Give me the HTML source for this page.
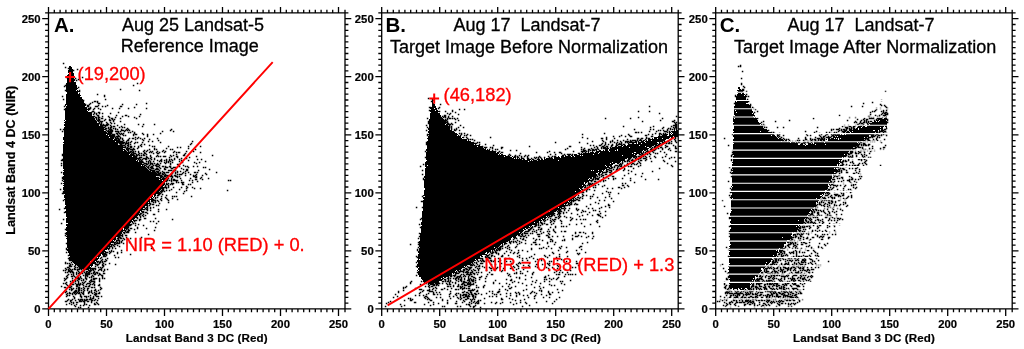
<!DOCTYPE html>
<html lang="en"><head><meta charset="utf-8"><title>Landsat scatterplots</title>
<style>html,body{margin:0;padding:0;background:#fff}body{width:1024px;height:349px;overflow:hidden}svg{display:block;will-change:transform}</style></head>
<body>
<svg width="1024" height="349" viewBox="0 0 1024 349">
<rect width="1024" height="349" fill="#fff"/>
<g shape-rendering="crispEdges">
<path fill="#000" d="M69.8 65.5L72.1 66.9L74.8 78.3L79 92.1L85.9 105.9L99.6 124.2L117.9 142.5L136.3 158.6L150 170.5L158 176.3L166 180.5L164.5 186.5L154.6 197.4L131.7 222.6L108.8 247.8L88.5 271L82 268.5L75 265L69.5 259L67.3 250L66.5 240L66 228.8L65.4 210L64 197.6L62.6 174.6L62.8 151.7L63.8 128.8L65.4 105.9L66.2 87.5L67.2 73.8Z"/>
<path fill="#fff" d="M68 69h1v1h-1zM73 72h1v1h-1zM67 73h2v1h-2zM67 74h1v1h-1zM74 76h1v1h-1zM69 77h1v1h-1zM74 77h1v1h-1zM74 78h1v1h-1zM66 79h1v1h-1zM74 81h2v1h-2zM76 84h1v1h-1zM77 87h1v1h-1zM77 89h1v1h-1zM76 90h1v1h-1zM78 90h1v1h-1zM66 92h1v1h-1zM78 92h1v1h-1zM66 93h1v1h-1zM78 93h1v1h-1zM80 96h1v1h-1zM65 103h1v1h-1zM66 105h1v1h-1zM65 106h1v1h-1zM85 106h1v1h-1zM65 107h1v1h-1zM87 108h1v1h-1zM87 110h1v1h-1zM89 110h1v1h-1zM88 111h2v1h-2zM92 114h1v1h-1zM92 115h1v1h-1zM64 116h1v1h-1zM94 117h1v1h-1zM64 118h1v1h-1zM64 119h1v1h-1zM95 119h1v1h-1zM65 120h1v1h-1zM96 120h1v1h-1zM64 121h1v1h-1zM97 121h1v1h-1zM97 122h1v1h-1zM64 123h1v1h-1zM99 124h1v1h-1zM99 125h1v1h-1zM64 126h1v1h-1zM104 130h2v1h-2zM106 131h1v1h-1zM63 132h1v1h-1zM107 132h1v1h-1zM106 134h1v1h-1zM63 135h1v1h-1zM108 135h1v1h-1zM63 136h1v1h-1zM109 137h1v1h-1zM113 139h1v1h-1zM63 140h1v1h-1zM63 141h1v1h-1zM115 141h1v1h-1zM63 143h1v1h-1zM118 143h1v1h-1zM118 144h2v1h-2zM123 148h2v1h-2zM125 149h1v1h-1zM123 150h1v1h-1zM126 150h1v1h-1zM127 151h1v1h-1zM130 153h1v1h-1zM129 154h1v1h-1zM132 156h1v1h-1zM136 160h1v1h-1zM138 160h1v1h-1zM138 161h1v1h-1zM141 165h1v1h-1zM143 165h1v1h-1zM62 167h1v1h-1zM146 167h1v1h-1zM62 168h1v1h-1zM147 168h1v1h-1zM63 169h1v1h-1zM148 169h1v1h-1zM149 170h1v1h-1zM63 171h1v1h-1zM151 171h1v1h-1zM62 173h1v1h-1zM63 175h1v1h-1zM156 176h3v1h-3zM159 177h1v1h-1zM161 178h1v1h-1zM159 179h1v1h-1zM63 180h1v1h-1zM162 180h1v1h-1zM63 182h1v1h-1zM165 182h1v1h-1zM63 184h1v1h-1zM164 185h1v1h-1zM63 186h1v1h-1zM163 186h2v1h-2zM161 189h1v1h-1zM160 190h1v1h-1zM159 191h1v1h-1zM64 194h1v1h-1zM156 194h1v1h-1zM153 195h1v1h-1zM153 196h1v1h-1zM155 196h1v1h-1zM152 197h1v1h-1zM154 197h1v1h-1zM64 198h1v1h-1zM150 198h1v1h-1zM153 198h1v1h-1zM64 200h1v1h-1zM150 200h1v1h-1zM64 201h1v1h-1zM150 201h1v1h-1zM64 202h1v1h-1zM148 202h1v1h-1zM65 205h1v1h-1zM145 206h1v1h-1zM145 207h1v1h-1zM143 208h2v1h-2zM65 209h1v1h-1zM65 210h1v1h-1zM142 210h1v1h-1zM140 211h1v1h-1zM140 212h1v1h-1zM139 213h1v1h-1zM65 215h1v1h-1zM66 217h1v1h-1zM135 218h1v1h-1zM132 220h1v1h-1zM131 222h1v1h-1zM66 223h2v1h-2zM130 223h1v1h-1zM66 226h1v1h-1zM123 228h1v1h-1zM123 229h1v1h-1zM125 229h1v1h-1zM66 231h1v1h-1zM123 231h1v1h-1zM122 232h1v1h-1zM66 235h1v1h-1zM66 237h1v1h-1zM116 237h2v1h-2zM116 238h1v1h-1zM66 239h1v1h-1zM116 239h1v1h-1zM111 240h1v1h-1zM113 240h1v1h-1zM115 240h1v1h-1zM114 241h1v1h-1zM111 243h2v1h-2zM110 245h1v1h-1zM108 247h1v1h-1zM67 248h1v1h-1zM107 249h1v1h-1zM105 250h1v1h-1zM104 252h1v1h-1zM68 253h1v1h-1zM68 254h1v1h-1zM101 254h1v1h-1zM101 255h1v1h-1zM69 256h1v1h-1zM100 256h2v1h-2zM97 257h1v1h-1zM99 257h1v1h-1zM98 259h1v1h-1zM97 260h1v1h-1zM90 261h1v1h-1zM95 261h1v1h-1zM93 264h2v1h-2zM76 265h1v1h-1zM90 266h1v1h-1zM91 267h1v1h-1zM84 269h1v1h-1zM89 269h1v1h-1zM87 270h1v1h-1z"/>
</g>
<path fill="#000" d="M62.8 62.8h1.5v1.5h-1.5zM64.8 66.8h1.5v1.5h-1.5zM67.8 67.8h1.5v1.5h-1.5zM76.8 68.8h1.5v1.5h-1.5zM72.8 69.8h1.5v1.5h-1.5zM65.8 76.8h1.5v1.5h-1.5zM81.8 76.8h1.5v1.5h-1.5zM74.8 77.8h1.5v1.5h-1.5zM77.8 78.8h1.5v1.5h-1.5zM75.8 79.8h1.5v1.5h-1.5zM136.8 82.8h1.5v1.5h-1.5zM64.8 84.8h1.5v1.5h-1.5zM132.8 84.8h1.5v1.5h-1.5zM63.8 85.8h1.5v1.5h-1.5zM77.8 86.8h1.5v1.5h-1.5zM119.8 88.8h1.5v1.5h-1.5zM64.8 89.8h1.5v1.5h-1.5zM78.8 89.8h1.5v1.5h-1.5zM138.8 89.8h1.5v1.5h-1.5zM78.8 90.8h1.5v1.5h-1.5zM96.8 93.8h1.5v1.5h-1.5zM103.8 94.8h1.5v1.5h-1.5zM61.8 95.8h1.5v1.5h-1.5zM103.8 95.8h1.5v1.5h-1.5zM62.8 98.8h1.5v1.5h-1.5zM104.8 98.8h1.5v1.5h-1.5zM82.8 99.8h1.5v1.5h-1.5zM93.8 100.8h2.5v1.5h-2.5zM96.8 100.8h1.5v1.5h-1.5zM91.8 101.8h1.5v1.5h-1.5zM96.8 101.8h1.5v1.5h-1.5zM89.8 102.8h1.5v1.5h-1.5zM97.8 102.8h2.5v1.5h-2.5zM145.8 102.8h1.5v1.5h-1.5zM84.8 103.8h1.5v1.5h-1.5zM88.8 103.8h1.5v1.5h-1.5zM121.8 103.8h1.5v1.5h-1.5zM135.8 103.8h1.5v1.5h-1.5zM86.8 104.8h2.5v1.5h-2.5zM97.8 104.8h1.5v1.5h-1.5zM106.8 104.8h1.5v1.5h-1.5zM63.8 105.8h1.5v1.5h-1.5zM86.8 105.8h2.5v1.5h-2.5zM94.8 105.8h3.5v1.5h-3.5zM101.8 105.8h1.5v1.5h-1.5zM104.8 105.8h1.5v1.5h-1.5zM119.8 105.8h2.5v1.5h-2.5zM89.8 106.8h1.5v1.5h-1.5zM133.8 106.8h1.5v1.5h-1.5zM87.8 107.8h3.5v1.5h-3.5zM93.8 107.8h1.5v1.5h-1.5zM97.8 107.8h1.5v1.5h-1.5zM111.8 107.8h1.5v1.5h-1.5zM118.8 107.8h1.5v1.5h-1.5zM127.8 107.8h1.5v1.5h-1.5zM145.8 107.8h1.5v1.5h-1.5zM63.8 108.8h1.5v1.5h-1.5zM88.8 108.8h1.5v1.5h-1.5zM92.8 108.8h1.5v1.5h-1.5zM99.8 108.8h1.5v1.5h-1.5zM91.8 110.8h2.5v1.5h-2.5zM90.8 111.8h1.5v1.5h-1.5zM93.8 111.8h1.5v1.5h-1.5zM97.8 111.8h2.5v1.5h-2.5zM117.8 111.8h1.5v1.5h-1.5zM93.8 112.8h1.5v1.5h-1.5zM95.8 112.8h1.5v1.5h-1.5zM98.8 112.8h1.5v1.5h-1.5zM101.8 112.8h1.5v1.5h-1.5zM109.8 112.8h1.5v1.5h-1.5zM92.8 113.8h1.5v1.5h-1.5zM95.8 113.8h1.5v1.5h-1.5zM139.8 113.8h1.5v1.5h-1.5zM96.8 114.8h2.5v1.5h-2.5zM115.8 114.8h1.5v1.5h-1.5zM124.8 114.8h2.5v1.5h-2.5zM93.8 115.8h1.5v1.5h-1.5zM97.8 115.8h1.5v1.5h-1.5zM101.8 115.8h1.5v1.5h-1.5zM107.8 115.8h1.5v1.5h-1.5zM121.8 115.8h1.5v1.5h-1.5zM127.8 115.8h1.5v1.5h-1.5zM138.8 115.8h1.5v1.5h-1.5zM94.8 116.8h2.5v1.5h-2.5zM97.8 116.8h2.5v1.5h-2.5zM108.8 116.8h1.5v1.5h-1.5zM114.8 116.8h1.5v1.5h-1.5zM133.8 116.8h1.5v1.5h-1.5zM95.8 117.8h1.5v1.5h-1.5zM97.8 117.8h1.5v1.5h-1.5zM100.8 117.8h2.5v1.5h-2.5zM110.8 117.8h2.5v1.5h-2.5zM119.8 117.8h1.5v1.5h-1.5zM135.8 117.8h1.5v1.5h-1.5zM95.8 118.8h1.5v1.5h-1.5zM97.8 118.8h2.5v1.5h-2.5zM104.8 118.8h1.5v1.5h-1.5zM108.8 118.8h1.5v1.5h-1.5zM111.8 118.8h1.5v1.5h-1.5zM113.8 118.8h1.5v1.5h-1.5zM96.8 119.8h3.5v1.5h-3.5zM103.8 119.8h1.5v1.5h-1.5zM108.8 119.8h2.5v1.5h-2.5zM112.8 119.8h1.5v1.5h-1.5zM97.8 120.8h1.5v1.5h-1.5zM99.8 120.8h3.5v1.5h-3.5zM112.8 120.8h1.5v1.5h-1.5zM119.8 120.8h1.5v1.5h-1.5zM98.8 121.8h1.5v1.5h-1.5zM100.8 121.8h1.5v1.5h-1.5zM105.8 121.8h1.5v1.5h-1.5zM109.8 121.8h1.5v1.5h-1.5zM98.8 122.8h1.5v1.5h-1.5zM100.8 122.8h1.5v1.5h-1.5zM106.8 122.8h1.5v1.5h-1.5zM110.8 122.8h1.5v1.5h-1.5zM113.8 122.8h1.5v1.5h-1.5zM99.8 123.8h2.5v1.5h-2.5zM102.8 123.8h1.5v1.5h-1.5zM105.8 123.8h3.5v1.5h-3.5zM123.8 123.8h1.5v1.5h-1.5zM137.8 123.8h1.5v1.5h-1.5zM142.8 123.8h1.5v1.5h-1.5zM153.8 123.8h1.5v1.5h-1.5zM100.8 124.8h7.5v1.5h-7.5zM109.8 124.8h1.5v1.5h-1.5zM116.8 124.8h1.5v1.5h-1.5zM101.8 125.8h1.5v1.5h-1.5zM104.8 125.8h1.5v1.5h-1.5zM110.8 125.8h1.5v1.5h-1.5zM112.8 125.8h2.5v1.5h-2.5zM120.8 125.8h1.5v1.5h-1.5zM141.8 125.8h1.5v1.5h-1.5zM102.8 126.8h2.5v1.5h-2.5zM107.8 126.8h1.5v1.5h-1.5zM109.8 126.8h2.5v1.5h-2.5zM118.8 126.8h1.5v1.5h-1.5zM121.8 126.8h1.5v1.5h-1.5zM123.8 126.8h1.5v1.5h-1.5zM104.8 127.8h2.5v1.5h-2.5zM107.8 127.8h1.5v1.5h-1.5zM109.8 127.8h1.5v1.5h-1.5zM112.8 127.8h1.5v1.5h-1.5zM114.8 127.8h1.5v1.5h-1.5zM126.8 127.8h1.5v1.5h-1.5zM59.8 128.8h1.5v1.5h-1.5zM62.8 128.8h1.5v1.5h-1.5zM104.8 128.8h1.5v1.5h-1.5zM108.8 128.8h3.5v1.5h-3.5zM114.8 128.8h1.5v1.5h-1.5zM116.8 128.8h1.5v1.5h-1.5zM120.8 128.8h1.5v1.5h-1.5zM125.8 128.8h1.5v1.5h-1.5zM127.8 128.8h1.5v1.5h-1.5zM170.8 128.8h1.5v1.5h-1.5zM105.8 129.8h1.5v1.5h-1.5zM107.8 129.8h1.5v1.5h-1.5zM109.8 129.8h3.5v1.5h-3.5zM120.8 129.8h3.5v1.5h-3.5zM124.8 129.8h1.5v1.5h-1.5zM126.8 129.8h1.5v1.5h-1.5zM128.8 129.8h1.5v1.5h-1.5zM169.8 129.8h1.5v1.5h-1.5zM61.8 130.8h1.5v1.5h-1.5zM106.8 130.8h6.5v1.5h-6.5zM114.8 130.8h4.5v1.5h-4.5zM119.8 130.8h1.5v1.5h-1.5zM123.8 130.8h1.5v1.5h-1.5zM131.8 130.8h1.5v1.5h-1.5zM161.8 130.8h1.5v1.5h-1.5zM172.8 130.8h1.5v1.5h-1.5zM107.8 131.8h4.5v1.5h-4.5zM117.8 131.8h1.5v1.5h-1.5zM127.8 131.8h1.5v1.5h-1.5zM129.8 131.8h1.5v1.5h-1.5zM133.8 131.8h1.5v1.5h-1.5zM108.8 132.8h3.5v1.5h-3.5zM115.8 132.8h2.5v1.5h-2.5zM118.8 132.8h1.5v1.5h-1.5zM120.8 132.8h1.5v1.5h-1.5zM122.8 132.8h1.5v1.5h-1.5zM133.8 132.8h1.5v1.5h-1.5zM141.8 132.8h1.5v1.5h-1.5zM159.8 132.8h1.5v1.5h-1.5zM109.8 133.8h1.5v1.5h-1.5zM111.8 133.8h3.5v1.5h-3.5zM116.8 133.8h1.5v1.5h-1.5zM119.8 133.8h1.5v1.5h-1.5zM121.8 133.8h1.5v1.5h-1.5zM132.8 133.8h1.5v1.5h-1.5zM134.8 133.8h2.5v1.5h-2.5zM142.8 133.8h1.5v1.5h-1.5zM146.8 133.8h1.5v1.5h-1.5zM152.8 133.8h1.5v1.5h-1.5zM110.8 134.8h4.5v1.5h-4.5zM117.8 134.8h1.5v1.5h-1.5zM122.8 134.8h1.5v1.5h-1.5zM124.8 134.8h1.5v1.5h-1.5zM132.8 134.8h1.5v1.5h-1.5zM146.8 134.8h1.5v1.5h-1.5zM111.8 135.8h3.5v1.5h-3.5zM115.8 135.8h4.5v1.5h-4.5zM146.8 135.8h1.5v1.5h-1.5zM112.8 136.8h1.5v1.5h-1.5zM114.8 136.8h1.5v1.5h-1.5zM116.8 136.8h1.5v1.5h-1.5zM119.8 136.8h1.5v1.5h-1.5zM134.8 136.8h1.5v1.5h-1.5zM137.8 136.8h1.5v1.5h-1.5zM114.8 137.8h4.5v1.5h-4.5zM119.8 137.8h1.5v1.5h-1.5zM121.8 137.8h1.5v1.5h-1.5zM128.8 137.8h1.5v1.5h-1.5zM131.8 137.8h2.5v1.5h-2.5zM136.8 137.8h1.5v1.5h-1.5zM139.8 137.8h1.5v1.5h-1.5zM143.8 137.8h1.5v1.5h-1.5zM156.8 137.8h1.5v1.5h-1.5zM114.8 138.8h2.5v1.5h-2.5zM117.8 138.8h2.5v1.5h-2.5zM121.8 138.8h1.5v1.5h-1.5zM127.8 138.8h1.5v1.5h-1.5zM134.8 138.8h1.5v1.5h-1.5zM141.8 138.8h1.5v1.5h-1.5zM148.8 138.8h1.5v1.5h-1.5zM115.8 139.8h4.5v1.5h-4.5zM122.8 139.8h1.5v1.5h-1.5zM126.8 139.8h2.5v1.5h-2.5zM142.8 139.8h1.5v1.5h-1.5zM157.8 139.8h1.5v1.5h-1.5zM116.8 140.8h6.5v1.5h-6.5zM125.8 140.8h1.5v1.5h-1.5zM130.8 140.8h1.5v1.5h-1.5zM147.8 140.8h1.5v1.5h-1.5zM151.8 140.8h1.5v1.5h-1.5zM191.8 140.8h1.5v1.5h-1.5zM117.8 141.8h7.5v1.5h-7.5zM125.8 141.8h1.5v1.5h-1.5zM127.8 141.8h1.5v1.5h-1.5zM129.8 141.8h1.5v1.5h-1.5zM134.8 141.8h1.5v1.5h-1.5zM136.8 141.8h1.5v1.5h-1.5zM141.8 141.8h1.5v1.5h-1.5zM159.8 141.8h1.5v1.5h-1.5zM118.8 142.8h5.5v1.5h-5.5zM124.8 142.8h4.5v1.5h-4.5zM133.8 142.8h1.5v1.5h-1.5zM190.8 142.8h1.5v1.5h-1.5zM119.8 143.8h2.5v1.5h-2.5zM124.8 143.8h1.5v1.5h-1.5zM127.8 143.8h1.5v1.5h-1.5zM129.8 143.8h1.5v1.5h-1.5zM140.8 143.8h1.5v1.5h-1.5zM143.8 143.8h1.5v1.5h-1.5zM189.8 143.8h1.5v1.5h-1.5zM120.8 144.8h4.5v1.5h-4.5zM126.8 144.8h2.5v1.5h-2.5zM139.8 144.8h1.5v1.5h-1.5zM148.8 144.8h1.5v1.5h-1.5zM121.8 145.8h1.5v1.5h-1.5zM124.8 145.8h1.5v1.5h-1.5zM127.8 145.8h1.5v1.5h-1.5zM129.8 145.8h2.5v1.5h-2.5zM133.8 145.8h1.5v1.5h-1.5zM137.8 145.8h1.5v1.5h-1.5zM140.8 145.8h1.5v1.5h-1.5zM151.8 145.8h1.5v1.5h-1.5zM153.8 145.8h1.5v1.5h-1.5zM167.8 145.8h1.5v1.5h-1.5zM187.8 145.8h1.5v1.5h-1.5zM199.8 145.8h1.5v1.5h-1.5zM123.8 146.8h2.5v1.5h-2.5zM126.8 146.8h1.5v1.5h-1.5zM129.8 146.8h2.5v1.5h-2.5zM137.8 146.8h1.5v1.5h-1.5zM176.8 146.8h1.5v1.5h-1.5zM179.8 146.8h1.5v1.5h-1.5zM125.8 147.8h4.5v1.5h-4.5zM132.8 147.8h1.5v1.5h-1.5zM136.8 147.8h1.5v1.5h-1.5zM153.8 147.8h1.5v1.5h-1.5zM165.8 147.8h1.5v1.5h-1.5zM187.8 147.8h1.5v1.5h-1.5zM125.8 148.8h3.5v1.5h-3.5zM129.8 148.8h5.5v1.5h-5.5zM148.8 148.8h1.5v1.5h-1.5zM153.8 148.8h1.5v1.5h-1.5zM155.8 148.8h1.5v1.5h-1.5zM169.8 148.8h1.5v1.5h-1.5zM171.8 148.8h1.5v1.5h-1.5zM194.8 148.8h1.5v1.5h-1.5zM126.8 149.8h2.5v1.5h-2.5zM131.8 149.8h1.5v1.5h-1.5zM143.8 149.8h1.5v1.5h-1.5zM146.8 149.8h1.5v1.5h-1.5zM162.8 149.8h1.5v1.5h-1.5zM127.8 150.8h1.5v1.5h-1.5zM129.8 150.8h2.5v1.5h-2.5zM132.8 150.8h1.5v1.5h-1.5zM134.8 150.8h1.5v1.5h-1.5zM137.8 150.8h1.5v1.5h-1.5zM142.8 150.8h1.5v1.5h-1.5zM145.8 150.8h1.5v1.5h-1.5zM149.8 150.8h1.5v1.5h-1.5zM151.8 150.8h1.5v1.5h-1.5zM156.8 150.8h1.5v1.5h-1.5zM161.8 150.8h1.5v1.5h-1.5zM164.8 150.8h1.5v1.5h-1.5zM173.8 150.8h1.5v1.5h-1.5zM185.8 150.8h1.5v1.5h-1.5zM192.8 150.8h1.5v1.5h-1.5zM128.8 151.8h2.5v1.5h-2.5zM131.8 151.8h2.5v1.5h-2.5zM137.8 151.8h1.5v1.5h-1.5zM143.8 151.8h1.5v1.5h-1.5zM148.8 151.8h1.5v1.5h-1.5zM150.8 151.8h1.5v1.5h-1.5zM155.8 151.8h1.5v1.5h-1.5zM158.8 151.8h1.5v1.5h-1.5zM163.8 151.8h1.5v1.5h-1.5zM172.8 151.8h1.5v1.5h-1.5zM175.8 151.8h1.5v1.5h-1.5zM177.8 151.8h2.5v1.5h-2.5zM199.8 151.8h1.5v1.5h-1.5zM130.8 152.8h1.5v1.5h-1.5zM132.8 152.8h3.5v1.5h-3.5zM138.8 152.8h1.5v1.5h-1.5zM140.8 152.8h1.5v1.5h-1.5zM143.8 152.8h2.5v1.5h-2.5zM152.8 152.8h1.5v1.5h-1.5zM156.8 152.8h2.5v1.5h-2.5zM184.8 152.8h1.5v1.5h-1.5zM61.8 153.8h1.5v1.5h-1.5zM131.8 153.8h2.5v1.5h-2.5zM135.8 153.8h1.5v1.5h-1.5zM137.8 153.8h1.5v1.5h-1.5zM142.8 153.8h1.5v1.5h-1.5zM145.8 153.8h1.5v1.5h-1.5zM175.8 153.8h1.5v1.5h-1.5zM183.8 153.8h1.5v1.5h-1.5zM61.8 154.8h1.5v1.5h-1.5zM132.8 154.8h2.5v1.5h-2.5zM135.8 154.8h2.5v1.5h-2.5zM138.8 154.8h1.5v1.5h-1.5zM140.8 154.8h1.5v1.5h-1.5zM142.8 154.8h2.5v1.5h-2.5zM149.8 154.8h1.5v1.5h-1.5zM156.8 154.8h1.5v1.5h-1.5zM169.8 154.8h1.5v1.5h-1.5zM172.8 154.8h1.5v1.5h-1.5zM182.8 154.8h2.5v1.5h-2.5zM211.8 154.8h1.5v1.5h-1.5zM133.8 155.8h3.5v1.5h-3.5zM145.8 155.8h1.5v1.5h-1.5zM149.8 155.8h1.5v1.5h-1.5zM155.8 155.8h1.5v1.5h-1.5zM157.8 155.8h1.5v1.5h-1.5zM159.8 155.8h1.5v1.5h-1.5zM162.8 155.8h3.5v1.5h-3.5zM170.8 155.8h1.5v1.5h-1.5zM175.8 155.8h2.5v1.5h-2.5zM195.8 155.8h1.5v1.5h-1.5zM134.8 156.8h2.5v1.5h-2.5zM138.8 156.8h3.5v1.5h-3.5zM145.8 156.8h2.5v1.5h-2.5zM150.8 156.8h1.5v1.5h-1.5zM168.8 156.8h1.5v1.5h-1.5zM176.8 156.8h1.5v1.5h-1.5zM188.8 156.8h1.5v1.5h-1.5zM135.8 157.8h4.5v1.5h-4.5zM142.8 157.8h4.5v1.5h-4.5zM147.8 157.8h1.5v1.5h-1.5zM149.8 157.8h1.5v1.5h-1.5zM153.8 157.8h1.5v1.5h-1.5zM173.8 157.8h1.5v1.5h-1.5zM180.8 157.8h1.5v1.5h-1.5zM185.8 157.8h1.5v1.5h-1.5zM61.8 158.8h1.5v1.5h-1.5zM137.8 158.8h1.5v1.5h-1.5zM139.8 158.8h1.5v1.5h-1.5zM141.8 158.8h1.5v1.5h-1.5zM144.8 158.8h2.5v1.5h-2.5zM150.8 158.8h1.5v1.5h-1.5zM153.8 158.8h1.5v1.5h-1.5zM160.8 158.8h1.5v1.5h-1.5zM165.8 158.8h1.5v1.5h-1.5zM168.8 158.8h1.5v1.5h-1.5zM170.8 158.8h1.5v1.5h-1.5zM173.8 158.8h1.5v1.5h-1.5zM178.8 158.8h1.5v1.5h-1.5zM196.8 158.8h1.5v1.5h-1.5zM200.8 158.8h1.5v1.5h-1.5zM60.8 159.8h2.5v1.5h-2.5zM138.8 159.8h1.5v1.5h-1.5zM140.8 159.8h1.5v1.5h-1.5zM148.8 159.8h1.5v1.5h-1.5zM156.8 159.8h1.5v1.5h-1.5zM159.8 159.8h2.5v1.5h-2.5zM163.8 159.8h1.5v1.5h-1.5zM165.8 159.8h1.5v1.5h-1.5zM168.8 159.8h1.5v1.5h-1.5zM171.8 159.8h1.5v1.5h-1.5zM180.8 159.8h1.5v1.5h-1.5zM187.8 159.8h1.5v1.5h-1.5zM139.8 160.8h3.5v1.5h-3.5zM145.8 160.8h1.5v1.5h-1.5zM147.8 160.8h1.5v1.5h-1.5zM149.8 160.8h1.5v1.5h-1.5zM152.8 160.8h1.5v1.5h-1.5zM158.8 160.8h1.5v1.5h-1.5zM160.8 160.8h1.5v1.5h-1.5zM165.8 160.8h1.5v1.5h-1.5zM167.8 160.8h1.5v1.5h-1.5zM169.8 160.8h1.5v1.5h-1.5zM178.8 160.8h1.5v1.5h-1.5zM204.8 160.8h1.5v1.5h-1.5zM140.8 161.8h3.5v1.5h-3.5zM147.8 161.8h1.5v1.5h-1.5zM149.8 161.8h1.5v1.5h-1.5zM163.8 161.8h1.5v1.5h-1.5zM165.8 161.8h1.5v1.5h-1.5zM167.8 161.8h1.5v1.5h-1.5zM171.8 161.8h1.5v1.5h-1.5zM181.8 161.8h1.5v1.5h-1.5zM193.8 161.8h1.5v1.5h-1.5zM198.8 161.8h1.5v1.5h-1.5zM60.8 162.8h1.5v1.5h-1.5zM143.8 162.8h3.5v1.5h-3.5zM147.8 162.8h1.5v1.5h-1.5zM149.8 162.8h3.5v1.5h-3.5zM153.8 162.8h1.5v1.5h-1.5zM156.8 162.8h1.5v1.5h-1.5zM159.8 162.8h1.5v1.5h-1.5zM164.8 162.8h1.5v1.5h-1.5zM169.8 162.8h1.5v1.5h-1.5zM195.8 162.8h1.5v1.5h-1.5zM142.8 163.8h1.5v1.5h-1.5zM145.8 163.8h2.5v1.5h-2.5zM149.8 163.8h1.5v1.5h-1.5zM151.8 163.8h1.5v1.5h-1.5zM155.8 163.8h3.5v1.5h-3.5zM169.8 163.8h1.5v1.5h-1.5zM176.8 163.8h2.5v1.5h-2.5zM60.8 164.8h1.5v1.5h-1.5zM143.8 164.8h2.5v1.5h-2.5zM148.8 164.8h1.5v1.5h-1.5zM152.8 164.8h1.5v1.5h-1.5zM154.8 164.8h2.5v1.5h-2.5zM158.8 164.8h1.5v1.5h-1.5zM182.8 164.8h1.5v1.5h-1.5zM145.8 165.8h1.5v1.5h-1.5zM147.8 165.8h1.5v1.5h-1.5zM150.8 165.8h2.5v1.5h-2.5zM155.8 165.8h3.5v1.5h-3.5zM161.8 165.8h2.5v1.5h-2.5zM164.8 165.8h1.5v1.5h-1.5zM168.8 165.8h2.5v1.5h-2.5zM178.8 165.8h1.5v1.5h-1.5zM184.8 165.8h1.5v1.5h-1.5zM186.8 165.8h1.5v1.5h-1.5zM192.8 165.8h1.5v1.5h-1.5zM196.8 165.8h1.5v1.5h-1.5zM146.8 166.8h2.5v1.5h-2.5zM149.8 166.8h3.5v1.5h-3.5zM158.8 166.8h1.5v1.5h-1.5zM164.8 166.8h3.5v1.5h-3.5zM169.8 166.8h1.5v1.5h-1.5zM172.8 166.8h3.5v1.5h-3.5zM187.8 166.8h1.5v1.5h-1.5zM202.8 166.8h1.5v1.5h-1.5zM204.8 166.8h1.5v1.5h-1.5zM147.8 167.8h1.5v1.5h-1.5zM150.8 167.8h3.5v1.5h-3.5zM155.8 167.8h2.5v1.5h-2.5zM159.8 167.8h1.5v1.5h-1.5zM163.8 167.8h1.5v1.5h-1.5zM170.8 167.8h2.5v1.5h-2.5zM180.8 167.8h1.5v1.5h-1.5zM148.8 168.8h2.5v1.5h-2.5zM154.8 168.8h4.5v1.5h-4.5zM163.8 168.8h2.5v1.5h-2.5zM182.8 168.8h1.5v1.5h-1.5zM185.8 168.8h2.5v1.5h-2.5zM208.8 168.8h1.5v1.5h-1.5zM149.8 169.8h5.5v1.5h-5.5zM158.8 169.8h1.5v1.5h-1.5zM167.8 169.8h4.5v1.5h-4.5zM172.8 169.8h3.5v1.5h-3.5zM185.8 169.8h2.5v1.5h-2.5zM197.8 169.8h1.5v1.5h-1.5zM151.8 170.8h3.5v1.5h-3.5zM155.8 170.8h3.5v1.5h-3.5zM161.8 170.8h1.5v1.5h-1.5zM172.8 170.8h1.5v1.5h-1.5zM176.8 170.8h1.5v1.5h-1.5zM179.8 170.8h1.5v1.5h-1.5zM184.8 170.8h1.5v1.5h-1.5zM60.8 171.8h1.5v1.5h-1.5zM152.8 171.8h3.5v1.5h-3.5zM156.8 171.8h2.5v1.5h-2.5zM159.8 171.8h1.5v1.5h-1.5zM162.8 171.8h2.5v1.5h-2.5zM165.8 171.8h3.5v1.5h-3.5zM174.8 171.8h1.5v1.5h-1.5zM176.8 171.8h1.5v1.5h-1.5zM182.8 171.8h1.5v1.5h-1.5zM187.8 171.8h1.5v1.5h-1.5zM193.8 171.8h2.5v1.5h-2.5zM196.8 171.8h1.5v1.5h-1.5zM215.8 171.8h1.5v1.5h-1.5zM153.8 172.8h3.5v1.5h-3.5zM157.8 172.8h3.5v1.5h-3.5zM161.8 172.8h1.5v1.5h-1.5zM163.8 172.8h1.5v1.5h-1.5zM170.8 172.8h2.5v1.5h-2.5zM174.8 172.8h1.5v1.5h-1.5zM181.8 172.8h1.5v1.5h-1.5zM184.8 172.8h1.5v1.5h-1.5zM204.8 172.8h1.5v1.5h-1.5zM155.8 173.8h4.5v1.5h-4.5zM161.8 173.8h2.5v1.5h-2.5zM164.8 173.8h1.5v1.5h-1.5zM170.8 173.8h1.5v1.5h-1.5zM176.8 173.8h1.5v1.5h-1.5zM178.8 173.8h3.5v1.5h-3.5zM189.8 173.8h1.5v1.5h-1.5zM195.8 173.8h1.5v1.5h-1.5zM205.8 173.8h1.5v1.5h-1.5zM156.8 174.8h5.5v1.5h-5.5zM163.8 174.8h5.5v1.5h-5.5zM170.8 174.8h1.5v1.5h-1.5zM173.8 174.8h2.5v1.5h-2.5zM184.8 174.8h1.5v1.5h-1.5zM192.8 174.8h1.5v1.5h-1.5zM194.8 174.8h1.5v1.5h-1.5zM201.8 174.8h1.5v1.5h-1.5zM159.8 175.8h3.5v1.5h-3.5zM163.8 175.8h2.5v1.5h-2.5zM166.8 175.8h1.5v1.5h-1.5zM169.8 175.8h3.5v1.5h-3.5zM174.8 175.8h3.5v1.5h-3.5zM178.8 175.8h1.5v1.5h-1.5zM192.8 175.8h2.5v1.5h-2.5zM195.8 175.8h1.5v1.5h-1.5zM61.8 176.8h1.5v1.5h-1.5zM159.8 176.8h2.5v1.5h-2.5zM162.8 176.8h1.5v1.5h-1.5zM165.8 176.8h2.5v1.5h-2.5zM171.8 176.8h1.5v1.5h-1.5zM176.8 176.8h1.5v1.5h-1.5zM194.8 176.8h2.5v1.5h-2.5zM200.8 176.8h1.5v1.5h-1.5zM61.8 177.8h1.5v1.5h-1.5zM161.8 177.8h7.5v1.5h-7.5zM170.8 177.8h1.5v1.5h-1.5zM179.8 177.8h1.5v1.5h-1.5zM189.8 177.8h1.5v1.5h-1.5zM199.8 177.8h1.5v1.5h-1.5zM207.8 177.8h1.5v1.5h-1.5zM163.8 178.8h4.5v1.5h-4.5zM170.8 178.8h1.5v1.5h-1.5zM172.8 178.8h2.5v1.5h-2.5zM194.8 178.8h2.5v1.5h-2.5zM201.8 178.8h1.5v1.5h-1.5zM61.8 179.8h1.5v1.5h-1.5zM165.8 179.8h2.5v1.5h-2.5zM168.8 179.8h1.5v1.5h-1.5zM170.8 179.8h1.5v1.5h-1.5zM172.8 179.8h5.5v1.5h-5.5zM180.8 179.8h1.5v1.5h-1.5zM188.8 179.8h1.5v1.5h-1.5zM191.8 179.8h1.5v1.5h-1.5zM227.8 179.8h1.5v1.5h-1.5zM229.8 179.8h1.5v1.5h-1.5zM165.8 180.8h1.5v1.5h-1.5zM170.8 180.8h1.5v1.5h-1.5zM175.8 180.8h1.5v1.5h-1.5zM196.8 180.8h1.5v1.5h-1.5zM175.8 181.8h1.5v1.5h-1.5zM177.8 181.8h1.5v1.5h-1.5zM180.8 181.8h3.5v1.5h-3.5zM191.8 181.8h1.5v1.5h-1.5zM60.8 182.8h1.5v1.5h-1.5zM165.8 182.8h1.5v1.5h-1.5zM167.8 182.8h1.5v1.5h-1.5zM170.8 182.8h3.5v1.5h-3.5zM181.8 182.8h1.5v1.5h-1.5zM165.8 183.8h2.5v1.5h-2.5zM169.8 183.8h1.5v1.5h-1.5zM171.8 183.8h1.5v1.5h-1.5zM181.8 183.8h2.5v1.5h-2.5zM187.8 183.8h1.5v1.5h-1.5zM189.8 183.8h1.5v1.5h-1.5zM164.8 184.8h1.5v1.5h-1.5zM167.8 184.8h1.5v1.5h-1.5zM164.8 185.8h1.5v1.5h-1.5zM167.8 185.8h1.5v1.5h-1.5zM185.8 185.8h1.5v1.5h-1.5zM163.8 186.8h3.5v1.5h-3.5zM167.8 186.8h1.5v1.5h-1.5zM172.8 186.8h1.5v1.5h-1.5zM180.8 186.8h1.5v1.5h-1.5zM186.8 186.8h1.5v1.5h-1.5zM191.8 186.8h1.5v1.5h-1.5zM162.8 187.8h1.5v1.5h-1.5zM165.8 187.8h1.5v1.5h-1.5zM185.8 187.8h1.5v1.5h-1.5zM193.8 187.8h1.5v1.5h-1.5zM199.8 187.8h1.5v1.5h-1.5zM59.8 188.8h1.5v1.5h-1.5zM161.8 188.8h2.5v1.5h-2.5zM170.8 188.8h1.5v1.5h-1.5zM178.8 188.8h1.5v1.5h-1.5zM160.8 189.8h3.5v1.5h-3.5zM165.8 189.8h1.5v1.5h-1.5zM168.8 189.8h1.5v1.5h-1.5zM185.8 189.8h1.5v1.5h-1.5zM226.8 189.8h1.5v1.5h-1.5zM62.8 190.8h1.5v1.5h-1.5zM159.8 190.8h3.5v1.5h-3.5zM163.8 190.8h1.5v1.5h-1.5zM183.8 190.8h1.5v1.5h-1.5zM62.8 191.8h1.5v1.5h-1.5zM158.8 191.8h1.5v1.5h-1.5zM160.8 191.8h1.5v1.5h-1.5zM175.8 191.8h1.5v1.5h-1.5zM61.8 192.8h2.5v1.5h-2.5zM157.8 192.8h3.5v1.5h-3.5zM182.8 192.8h1.5v1.5h-1.5zM157.8 193.8h2.5v1.5h-2.5zM161.8 193.8h1.5v1.5h-1.5zM156.8 194.8h2.5v1.5h-2.5zM165.8 194.8h1.5v1.5h-1.5zM160.8 195.8h1.5v1.5h-1.5zM171.8 195.8h1.5v1.5h-1.5zM173.8 195.8h1.5v1.5h-1.5zM175.8 195.8h1.5v1.5h-1.5zM190.8 195.8h1.5v1.5h-1.5zM154.8 196.8h1.5v1.5h-1.5zM156.8 196.8h1.5v1.5h-1.5zM164.8 196.8h1.5v1.5h-1.5zM154.8 197.8h1.5v1.5h-1.5zM160.8 197.8h1.5v1.5h-1.5zM165.8 197.8h1.5v1.5h-1.5zM171.8 197.8h1.5v1.5h-1.5zM152.8 198.8h1.5v1.5h-1.5zM159.8 198.8h1.5v1.5h-1.5zM166.8 198.8h1.5v1.5h-1.5zM176.8 198.8h1.5v1.5h-1.5zM62.8 199.8h1.5v1.5h-1.5zM151.8 199.8h4.5v1.5h-4.5zM156.8 199.8h1.5v1.5h-1.5zM160.8 199.8h1.5v1.5h-1.5zM167.8 199.8h1.5v1.5h-1.5zM150.8 200.8h2.5v1.5h-2.5zM154.8 200.8h1.5v1.5h-1.5zM157.8 200.8h1.5v1.5h-1.5zM152.8 201.8h1.5v1.5h-1.5zM154.8 201.8h1.5v1.5h-1.5zM167.8 201.8h1.5v1.5h-1.5zM148.8 202.8h2.5v1.5h-2.5zM158.8 202.8h1.5v1.5h-1.5zM149.8 203.8h1.5v1.5h-1.5zM151.8 203.8h2.5v1.5h-2.5zM146.8 204.8h1.5v1.5h-1.5zM148.8 204.8h1.5v1.5h-1.5zM155.8 204.8h1.5v1.5h-1.5zM157.8 204.8h1.5v1.5h-1.5zM146.8 205.8h1.5v1.5h-1.5zM145.8 206.8h2.5v1.5h-2.5zM149.8 206.8h1.5v1.5h-1.5zM152.8 206.8h1.5v1.5h-1.5zM63.8 207.8h1.5v1.5h-1.5zM144.8 207.8h1.5v1.5h-1.5zM146.8 207.8h1.5v1.5h-1.5zM149.8 207.8h1.5v1.5h-1.5zM58.8 208.8h1.5v1.5h-1.5zM143.8 208.8h1.5v1.5h-1.5zM145.8 208.8h2.5v1.5h-2.5zM157.8 208.8h1.5v1.5h-1.5zM165.8 208.8h1.5v1.5h-1.5zM146.8 209.8h1.5v1.5h-1.5zM149.8 209.8h1.5v1.5h-1.5zM141.8 210.8h2.5v1.5h-2.5zM157.8 210.8h1.5v1.5h-1.5zM63.8 211.8h1.5v1.5h-1.5zM141.8 211.8h2.5v1.5h-2.5zM144.8 211.8h2.5v1.5h-2.5zM139.8 212.8h2.5v1.5h-2.5zM146.8 212.8h1.5v1.5h-1.5zM138.8 213.8h2.5v1.5h-2.5zM142.8 213.8h1.5v1.5h-1.5zM152.8 213.8h2.5v1.5h-2.5zM138.8 214.8h1.5v1.5h-1.5zM141.8 214.8h1.5v1.5h-1.5zM144.8 214.8h1.5v1.5h-1.5zM139.8 215.8h1.5v1.5h-1.5zM142.8 215.8h1.5v1.5h-1.5zM135.8 216.8h2.5v1.5h-2.5zM139.8 216.8h1.5v1.5h-1.5zM136.8 217.8h1.5v1.5h-1.5zM143.8 217.8h2.5v1.5h-2.5zM154.8 217.8h1.5v1.5h-1.5zM62.8 218.8h1.5v1.5h-1.5zM138.8 218.8h2.5v1.5h-2.5zM171.8 218.8h1.5v1.5h-1.5zM133.8 219.8h3.5v1.5h-3.5zM138.8 219.8h1.5v1.5h-1.5zM133.8 220.8h1.5v1.5h-1.5zM149.8 220.8h1.5v1.5h-1.5zM152.8 220.8h1.5v1.5h-1.5zM157.8 220.8h1.5v1.5h-1.5zM131.8 221.8h1.5v1.5h-1.5zM60.8 222.8h1.5v1.5h-1.5zM132.8 222.8h1.5v1.5h-1.5zM134.8 222.8h1.5v1.5h-1.5zM155.8 222.8h1.5v1.5h-1.5zM129.8 223.8h2.5v1.5h-2.5zM137.8 223.8h1.5v1.5h-1.5zM128.8 224.8h2.5v1.5h-2.5zM134.8 224.8h1.5v1.5h-1.5zM142.8 224.8h1.5v1.5h-1.5zM127.8 225.8h1.5v1.5h-1.5zM126.8 226.8h2.5v1.5h-2.5zM136.8 226.8h1.5v1.5h-1.5zM154.8 226.8h1.5v1.5h-1.5zM125.8 227.8h2.5v1.5h-2.5zM129.8 227.8h2.5v1.5h-2.5zM136.8 227.8h1.5v1.5h-1.5zM145.8 227.8h1.5v1.5h-1.5zM64.8 228.8h1.5v1.5h-1.5zM125.8 228.8h1.5v1.5h-1.5zM127.8 228.8h1.5v1.5h-1.5zM133.8 228.8h1.5v1.5h-1.5zM124.8 229.8h1.5v1.5h-1.5zM127.8 229.8h2.5v1.5h-2.5zM153.8 229.8h1.5v1.5h-1.5zM124.8 230.8h1.5v1.5h-1.5zM126.8 230.8h2.5v1.5h-2.5zM122.8 231.8h2.5v1.5h-2.5zM125.8 231.8h3.5v1.5h-3.5zM134.8 231.8h1.5v1.5h-1.5zM64.8 232.8h1.5v1.5h-1.5zM123.8 232.8h1.5v1.5h-1.5zM121.8 233.8h1.5v1.5h-1.5zM147.8 233.8h1.5v1.5h-1.5zM64.8 234.8h1.5v1.5h-1.5zM119.8 234.8h3.5v1.5h-3.5zM124.8 234.8h2.5v1.5h-2.5zM118.8 235.8h1.5v1.5h-1.5zM121.8 235.8h1.5v1.5h-1.5zM117.8 236.8h3.5v1.5h-3.5zM125.8 236.8h1.5v1.5h-1.5zM140.8 236.8h1.5v1.5h-1.5zM116.8 237.8h2.5v1.5h-2.5zM119.8 237.8h2.5v1.5h-2.5zM122.8 237.8h1.5v1.5h-1.5zM129.8 237.8h1.5v1.5h-1.5zM117.8 238.8h1.5v1.5h-1.5zM123.8 238.8h1.5v1.5h-1.5zM115.8 239.8h4.5v1.5h-4.5zM121.8 239.8h1.5v1.5h-1.5zM115.8 240.8h1.5v1.5h-1.5zM118.8 240.8h1.5v1.5h-1.5zM120.8 240.8h1.5v1.5h-1.5zM113.8 241.8h2.5v1.5h-2.5zM116.8 241.8h1.5v1.5h-1.5zM118.8 241.8h1.5v1.5h-1.5zM120.8 241.8h1.5v1.5h-1.5zM128.8 241.8h1.5v1.5h-1.5zM65.8 242.8h1.5v1.5h-1.5zM113.8 242.8h1.5v1.5h-1.5zM115.8 242.8h4.5v1.5h-4.5zM122.8 242.8h1.5v1.5h-1.5zM111.8 243.8h1.5v1.5h-1.5zM113.8 243.8h2.5v1.5h-2.5zM110.8 244.8h1.5v1.5h-1.5zM112.8 244.8h1.5v1.5h-1.5zM116.8 244.8h1.5v1.5h-1.5zM109.8 245.8h2.5v1.5h-2.5zM113.8 245.8h1.5v1.5h-1.5zM118.8 245.8h1.5v1.5h-1.5zM108.8 246.8h1.5v1.5h-1.5zM111.8 246.8h1.5v1.5h-1.5zM65.8 247.8h1.5v1.5h-1.5zM107.8 247.8h2.5v1.5h-2.5zM111.8 247.8h1.5v1.5h-1.5zM114.8 247.8h1.5v1.5h-1.5zM150.8 247.8h1.5v1.5h-1.5zM65.8 248.8h1.5v1.5h-1.5zM107.8 248.8h1.5v1.5h-1.5zM110.8 249.8h1.5v1.5h-1.5zM120.8 249.8h1.5v1.5h-1.5zM108.8 250.8h1.5v1.5h-1.5zM110.8 250.8h1.5v1.5h-1.5zM112.8 250.8h1.5v1.5h-1.5zM65.8 251.8h1.5v1.5h-1.5zM104.8 251.8h3.5v1.5h-3.5zM109.8 251.8h1.5v1.5h-1.5zM116.8 251.8h1.5v1.5h-1.5zM120.8 251.8h1.5v1.5h-1.5zM103.8 252.8h2.5v1.5h-2.5zM108.8 252.8h1.5v1.5h-1.5zM116.8 252.8h1.5v1.5h-1.5zM102.8 253.8h4.5v1.5h-4.5zM129.8 253.8h1.5v1.5h-1.5zM67.8 254.8h1.5v1.5h-1.5zM102.8 254.8h2.5v1.5h-2.5zM105.8 254.8h1.5v1.5h-1.5zM113.8 254.8h1.5v1.5h-1.5zM102.8 255.8h3.5v1.5h-3.5zM100.8 256.8h1.5v1.5h-1.5zM114.8 256.8h1.5v1.5h-1.5zM117.8 256.8h1.5v1.5h-1.5zM67.8 257.8h1.5v1.5h-1.5zM99.8 257.8h1.5v1.5h-1.5zM106.8 257.8h1.5v1.5h-1.5zM68.8 258.8h1.5v1.5h-1.5zM101.8 258.8h1.5v1.5h-1.5zM104.8 258.8h1.5v1.5h-1.5zM68.8 259.8h2.5v1.5h-2.5zM100.8 259.8h1.5v1.5h-1.5zM105.8 259.8h1.5v1.5h-1.5zM96.8 260.8h2.5v1.5h-2.5zM99.8 260.8h1.5v1.5h-1.5zM101.8 260.8h1.5v1.5h-1.5zM103.8 260.8h2.5v1.5h-2.5zM64.8 261.8h1.5v1.5h-1.5zM70.8 261.8h1.5v1.5h-1.5zM96.8 261.8h1.5v1.5h-1.5zM98.8 261.8h2.5v1.5h-2.5zM101.8 261.8h1.5v1.5h-1.5zM64.8 262.8h1.5v1.5h-1.5zM66.8 262.8h1.5v1.5h-1.5zM68.8 262.8h1.5v1.5h-1.5zM94.8 262.8h1.5v1.5h-1.5zM98.8 262.8h1.5v1.5h-1.5zM102.8 262.8h1.5v1.5h-1.5zM108.8 262.8h1.5v1.5h-1.5zM69.8 263.8h1.5v1.5h-1.5zM71.8 263.8h1.5v1.5h-1.5zM94.8 263.8h4.5v1.5h-4.5zM101.8 263.8h1.5v1.5h-1.5zM104.8 263.8h1.5v1.5h-1.5zM114.8 263.8h1.5v1.5h-1.5zM68.8 264.8h2.5v1.5h-2.5zM74.8 264.8h1.5v1.5h-1.5zM96.8 264.8h1.5v1.5h-1.5zM101.8 264.8h2.5v1.5h-2.5zM68.8 265.8h3.5v1.5h-3.5zM73.8 265.8h1.5v1.5h-1.5zM94.8 265.8h1.5v1.5h-1.5zM102.8 265.8h1.5v1.5h-1.5zM66.8 266.8h2.5v1.5h-2.5zM74.8 266.8h1.5v1.5h-1.5zM76.8 266.8h1.5v1.5h-1.5zM78.8 266.8h1.5v1.5h-1.5zM97.8 266.8h1.5v1.5h-1.5zM99.8 266.8h1.5v1.5h-1.5zM101.8 266.8h1.5v1.5h-1.5zM64.8 267.8h1.5v1.5h-1.5zM68.8 267.8h1.5v1.5h-1.5zM73.8 267.8h1.5v1.5h-1.5zM78.8 267.8h3.5v1.5h-3.5zM90.8 267.8h5.5v1.5h-5.5zM100.8 267.8h1.5v1.5h-1.5zM65.8 268.8h1.5v1.5h-1.5zM67.8 268.8h1.5v1.5h-1.5zM69.8 268.8h1.5v1.5h-1.5zM71.8 268.8h1.5v1.5h-1.5zM73.8 268.8h2.5v1.5h-2.5zM76.8 268.8h3.5v1.5h-3.5zM80.8 268.8h1.5v1.5h-1.5zM82.8 268.8h1.5v1.5h-1.5zM89.8 268.8h1.5v1.5h-1.5zM91.8 268.8h2.5v1.5h-2.5zM94.8 268.8h1.5v1.5h-1.5zM98.8 268.8h3.5v1.5h-3.5zM103.8 268.8h1.5v1.5h-1.5zM106.8 268.8h1.5v1.5h-1.5zM62.8 269.8h1.5v1.5h-1.5zM64.8 269.8h1.5v1.5h-1.5zM67.8 269.8h2.5v1.5h-2.5zM70.8 269.8h1.5v1.5h-1.5zM76.8 269.8h1.5v1.5h-1.5zM83.8 269.8h1.5v1.5h-1.5zM88.8 269.8h3.5v1.5h-3.5zM92.8 269.8h1.5v1.5h-1.5zM97.8 269.8h1.5v1.5h-1.5zM100.8 269.8h1.5v1.5h-1.5zM103.8 269.8h1.5v1.5h-1.5zM67.8 270.8h5.5v1.5h-5.5zM77.8 270.8h1.5v1.5h-1.5zM80.8 270.8h3.5v1.5h-3.5zM85.8 270.8h2.5v1.5h-2.5zM88.8 270.8h2.5v1.5h-2.5zM93.8 270.8h1.5v1.5h-1.5zM102.8 270.8h1.5v1.5h-1.5zM64.8 271.8h1.5v1.5h-1.5zM66.8 271.8h1.5v1.5h-1.5zM69.8 271.8h1.5v1.5h-1.5zM71.8 271.8h2.5v1.5h-2.5zM75.8 271.8h1.5v1.5h-1.5zM78.8 271.8h1.5v1.5h-1.5zM80.8 271.8h1.5v1.5h-1.5zM83.8 271.8h1.5v1.5h-1.5zM85.8 271.8h1.5v1.5h-1.5zM87.8 271.8h2.5v1.5h-2.5zM92.8 271.8h2.5v1.5h-2.5zM95.8 271.8h2.5v1.5h-2.5zM72.8 272.8h1.5v1.5h-1.5zM75.8 272.8h1.5v1.5h-1.5zM77.8 272.8h3.5v1.5h-3.5zM81.8 272.8h1.5v1.5h-1.5zM84.8 272.8h5.5v1.5h-5.5zM90.8 272.8h1.5v1.5h-1.5zM92.8 272.8h1.5v1.5h-1.5zM94.8 272.8h1.5v1.5h-1.5zM96.8 272.8h1.5v1.5h-1.5zM98.8 272.8h1.5v1.5h-1.5zM102.8 272.8h2.5v1.5h-2.5zM67.8 273.8h1.5v1.5h-1.5zM70.8 273.8h1.5v1.5h-1.5zM72.8 273.8h1.5v1.5h-1.5zM75.8 273.8h1.5v1.5h-1.5zM84.8 273.8h5.5v1.5h-5.5zM93.8 273.8h2.5v1.5h-2.5zM98.8 273.8h2.5v1.5h-2.5zM66.8 274.8h1.5v1.5h-1.5zM72.8 274.8h1.5v1.5h-1.5zM77.8 274.8h1.5v1.5h-1.5zM82.8 274.8h1.5v1.5h-1.5zM84.8 274.8h3.5v1.5h-3.5zM91.8 274.8h1.5v1.5h-1.5zM97.8 274.8h1.5v1.5h-1.5zM100.8 274.8h2.5v1.5h-2.5zM65.8 275.8h1.5v1.5h-1.5zM70.8 275.8h2.5v1.5h-2.5zM73.8 275.8h1.5v1.5h-1.5zM76.8 275.8h1.5v1.5h-1.5zM79.8 275.8h1.5v1.5h-1.5zM84.8 275.8h1.5v1.5h-1.5zM86.8 275.8h1.5v1.5h-1.5zM90.8 275.8h1.5v1.5h-1.5zM92.8 275.8h1.5v1.5h-1.5zM101.8 275.8h1.5v1.5h-1.5zM66.8 276.8h1.5v1.5h-1.5zM74.8 276.8h2.5v1.5h-2.5zM77.8 276.8h1.5v1.5h-1.5zM79.8 276.8h1.5v1.5h-1.5zM84.8 276.8h1.5v1.5h-1.5zM88.8 276.8h1.5v1.5h-1.5zM90.8 276.8h1.5v1.5h-1.5zM101.8 276.8h1.5v1.5h-1.5zM63.8 277.8h1.5v1.5h-1.5zM65.8 277.8h1.5v1.5h-1.5zM71.8 277.8h1.5v1.5h-1.5zM76.8 277.8h3.5v1.5h-3.5zM80.8 277.8h1.5v1.5h-1.5zM84.8 277.8h2.5v1.5h-2.5zM92.8 277.8h4.5v1.5h-4.5zM98.8 277.8h1.5v1.5h-1.5zM101.8 277.8h1.5v1.5h-1.5zM103.8 277.8h1.5v1.5h-1.5zM64.8 278.8h1.5v1.5h-1.5zM74.8 278.8h1.5v1.5h-1.5zM77.8 278.8h2.5v1.5h-2.5zM82.8 278.8h1.5v1.5h-1.5zM85.8 278.8h1.5v1.5h-1.5zM90.8 278.8h1.5v1.5h-1.5zM92.8 278.8h2.5v1.5h-2.5zM98.8 278.8h1.5v1.5h-1.5zM63.8 279.8h1.5v1.5h-1.5zM71.8 279.8h1.5v1.5h-1.5zM74.8 279.8h1.5v1.5h-1.5zM76.8 279.8h1.5v1.5h-1.5zM80.8 279.8h1.5v1.5h-1.5zM82.8 279.8h1.5v1.5h-1.5zM89.8 279.8h2.5v1.5h-2.5zM98.8 279.8h1.5v1.5h-1.5zM69.8 280.8h1.5v1.5h-1.5zM71.8 280.8h1.5v1.5h-1.5zM74.8 280.8h1.5v1.5h-1.5zM77.8 280.8h1.5v1.5h-1.5zM84.8 280.8h1.5v1.5h-1.5zM88.8 280.8h1.5v1.5h-1.5zM90.8 280.8h4.5v1.5h-4.5zM98.8 280.8h1.5v1.5h-1.5zM65.8 281.8h1.5v1.5h-1.5zM72.8 281.8h1.5v1.5h-1.5zM77.8 281.8h1.5v1.5h-1.5zM81.8 281.8h1.5v1.5h-1.5zM83.8 281.8h1.5v1.5h-1.5zM89.8 281.8h1.5v1.5h-1.5zM93.8 281.8h1.5v1.5h-1.5zM62.8 282.8h1.5v1.5h-1.5zM64.8 282.8h1.5v1.5h-1.5zM69.8 282.8h1.5v1.5h-1.5zM74.8 282.8h1.5v1.5h-1.5zM77.8 282.8h1.5v1.5h-1.5zM79.8 282.8h1.5v1.5h-1.5zM82.8 282.8h1.5v1.5h-1.5zM86.8 282.8h3.5v1.5h-3.5zM92.8 282.8h1.5v1.5h-1.5zM65.8 283.8h1.5v1.5h-1.5zM69.8 283.8h1.5v1.5h-1.5zM71.8 283.8h2.5v1.5h-2.5zM75.8 283.8h5.5v1.5h-5.5zM81.8 283.8h1.5v1.5h-1.5zM85.8 283.8h1.5v1.5h-1.5zM89.8 283.8h1.5v1.5h-1.5zM91.8 283.8h1.5v1.5h-1.5zM93.8 283.8h1.5v1.5h-1.5zM98.8 283.8h1.5v1.5h-1.5zM66.8 284.8h1.5v1.5h-1.5zM69.8 284.8h1.5v1.5h-1.5zM75.8 284.8h2.5v1.5h-2.5zM78.8 284.8h1.5v1.5h-1.5zM82.8 284.8h1.5v1.5h-1.5zM88.8 284.8h1.5v1.5h-1.5zM93.8 284.8h1.5v1.5h-1.5zM97.8 284.8h2.5v1.5h-2.5zM60.8 285.8h1.5v1.5h-1.5zM68.8 285.8h1.5v1.5h-1.5zM70.8 285.8h1.5v1.5h-1.5zM75.8 285.8h2.5v1.5h-2.5zM84.8 285.8h2.5v1.5h-2.5zM87.8 285.8h2.5v1.5h-2.5zM63.8 286.8h2.5v1.5h-2.5zM68.8 286.8h2.5v1.5h-2.5zM77.8 286.8h2.5v1.5h-2.5zM82.8 286.8h1.5v1.5h-1.5zM90.8 286.8h2.5v1.5h-2.5zM93.8 286.8h1.5v1.5h-1.5zM99.8 286.8h1.5v1.5h-1.5zM65.8 287.8h1.5v1.5h-1.5zM70.8 287.8h1.5v1.5h-1.5zM72.8 287.8h1.5v1.5h-1.5zM75.8 287.8h1.5v1.5h-1.5zM77.8 287.8h2.5v1.5h-2.5zM80.8 287.8h1.5v1.5h-1.5zM83.8 287.8h1.5v1.5h-1.5zM86.8 287.8h2.5v1.5h-2.5zM100.8 287.8h1.5v1.5h-1.5zM68.8 288.8h1.5v1.5h-1.5zM70.8 288.8h2.5v1.5h-2.5zM77.8 288.8h2.5v1.5h-2.5zM82.8 288.8h1.5v1.5h-1.5zM86.8 288.8h1.5v1.5h-1.5zM94.8 288.8h1.5v1.5h-1.5zM99.8 288.8h1.5v1.5h-1.5zM64.8 289.8h1.5v1.5h-1.5zM70.8 289.8h1.5v1.5h-1.5zM74.8 289.8h2.5v1.5h-2.5zM77.8 289.8h2.5v1.5h-2.5zM80.8 289.8h1.5v1.5h-1.5zM83.8 289.8h1.5v1.5h-1.5zM86.8 289.8h1.5v1.5h-1.5zM90.8 289.8h1.5v1.5h-1.5zM93.8 289.8h2.5v1.5h-2.5zM97.8 289.8h1.5v1.5h-1.5zM65.8 290.8h1.5v1.5h-1.5zM73.8 290.8h3.5v1.5h-3.5zM77.8 290.8h1.5v1.5h-1.5zM82.8 290.8h1.5v1.5h-1.5zM88.8 290.8h1.5v1.5h-1.5zM90.8 290.8h1.5v1.5h-1.5zM95.8 290.8h1.5v1.5h-1.5zM64.8 291.8h1.5v1.5h-1.5zM68.8 291.8h1.5v1.5h-1.5zM72.8 291.8h3.5v1.5h-3.5zM76.8 291.8h1.5v1.5h-1.5zM78.8 291.8h1.5v1.5h-1.5zM80.8 291.8h1.5v1.5h-1.5zM82.8 291.8h1.5v1.5h-1.5zM87.8 291.8h2.5v1.5h-2.5zM90.8 291.8h1.5v1.5h-1.5zM93.8 291.8h1.5v1.5h-1.5zM98.8 291.8h1.5v1.5h-1.5zM66.8 292.8h1.5v1.5h-1.5zM68.8 292.8h2.5v1.5h-2.5zM71.8 292.8h1.5v1.5h-1.5zM73.8 292.8h1.5v1.5h-1.5zM75.8 292.8h1.5v1.5h-1.5zM77.8 292.8h2.5v1.5h-2.5zM81.8 292.8h2.5v1.5h-2.5zM87.8 292.8h1.5v1.5h-1.5zM91.8 292.8h1.5v1.5h-1.5zM94.8 292.8h2.5v1.5h-2.5zM97.8 292.8h2.5v1.5h-2.5zM65.8 293.8h1.5v1.5h-1.5zM71.8 293.8h1.5v1.5h-1.5zM74.8 293.8h1.5v1.5h-1.5zM79.8 293.8h1.5v1.5h-1.5zM82.8 293.8h1.5v1.5h-1.5zM93.8 293.8h3.5v1.5h-3.5zM66.8 294.8h1.5v1.5h-1.5zM68.8 294.8h1.5v1.5h-1.5zM79.8 294.8h1.5v1.5h-1.5zM89.8 294.8h1.5v1.5h-1.5zM94.8 294.8h1.5v1.5h-1.5zM65.8 295.8h1.5v1.5h-1.5zM72.8 295.8h1.5v1.5h-1.5zM79.8 295.8h2.5v1.5h-2.5zM83.8 295.8h3.5v1.5h-3.5zM87.8 295.8h1.5v1.5h-1.5zM92.8 295.8h1.5v1.5h-1.5zM95.8 295.8h3.5v1.5h-3.5zM100.8 295.8h1.5v1.5h-1.5zM73.8 296.8h1.5v1.5h-1.5zM80.8 296.8h1.5v1.5h-1.5zM85.8 296.8h1.5v1.5h-1.5zM89.8 296.8h1.5v1.5h-1.5zM92.8 296.8h1.5v1.5h-1.5zM73.8 297.8h1.5v1.5h-1.5zM89.8 297.8h1.5v1.5h-1.5zM91.8 297.8h2.5v1.5h-2.5zM97.8 297.8h1.5v1.5h-1.5zM67.8 298.8h1.5v1.5h-1.5zM71.8 298.8h1.5v1.5h-1.5zM77.8 298.8h1.5v1.5h-1.5zM79.8 298.8h3.5v1.5h-3.5zM83.8 298.8h1.5v1.5h-1.5zM85.8 298.8h2.5v1.5h-2.5zM88.8 298.8h3.5v1.5h-3.5zM94.8 298.8h1.5v1.5h-1.5zM66.8 299.8h1.5v1.5h-1.5zM69.8 299.8h2.5v1.5h-2.5zM74.8 299.8h1.5v1.5h-1.5zM78.8 299.8h2.5v1.5h-2.5zM81.8 299.8h1.5v1.5h-1.5zM83.8 299.8h3.5v1.5h-3.5zM90.8 299.8h2.5v1.5h-2.5zM93.8 299.8h1.5v1.5h-1.5zM96.8 299.8h1.5v1.5h-1.5zM64.8 300.8h2.5v1.5h-2.5zM69.8 300.8h1.5v1.5h-1.5zM78.8 300.8h3.5v1.5h-3.5zM82.8 300.8h2.5v1.5h-2.5zM86.8 300.8h2.5v1.5h-2.5zM90.8 300.8h1.5v1.5h-1.5zM70.8 301.8h1.5v1.5h-1.5zM72.8 301.8h1.5v1.5h-1.5zM75.8 301.8h2.5v1.5h-2.5zM83.8 301.8h1.5v1.5h-1.5zM90.8 301.8h1.5v1.5h-1.5zM95.8 301.8h1.5v1.5h-1.5zM68.8 302.8h1.5v1.5h-1.5zM72.8 302.8h1.5v1.5h-1.5zM83.8 302.8h1.5v1.5h-1.5zM93.8 302.8h1.5v1.5h-1.5zM96.8 302.8h1.5v1.5h-1.5zM65.8 303.8h1.5v1.5h-1.5zM70.8 303.8h1.5v1.5h-1.5zM75.8 303.8h1.5v1.5h-1.5zM83.8 303.8h1.5v1.5h-1.5zM85.8 303.8h1.5v1.5h-1.5zM93.8 303.8h2.5v1.5h-2.5zM97.8 303.8h1.5v1.5h-1.5zM73.8 304.8h1.5v1.5h-1.5zM79.8 304.8h1.5v1.5h-1.5zM82.8 304.8h1.5v1.5h-1.5zM88.8 304.8h1.5v1.5h-1.5zM74.8 305.8h1.5v1.5h-1.5zM77.8 306.8h1.5v1.5h-1.5zM79.8 306.8h1.5v1.5h-1.5zM87.8 306.8h1.5v1.5h-1.5z"/>
<g shape-rendering="crispEdges">
<path fill="#000" d="M432.8 98.5L435.5 105.2L441.5 116.7L450.7 129.5L466.7 139.5L485 148L503.4 154.5L521.7 158.5L535 160L544.4 158.5L568.7 155L580 153.6L595.8 150.5L611.5 147.3L627.3 144.2L643.1 140.4L658.9 136.3L671.5 131.5L676 129L677.5 130L677.5 137L671.5 137.9L658.9 144.2L643.1 152L627.3 159.9L611.5 166.9L595.8 175.7L586 184L580 192.5L575 198L556 212.2L520 234.3L466.7 266.5L440 281.7L430 285L423.1 281.5L418.5 276L417 268L417.8 255L419.5 240L422.5 210L424.7 172L426.8 145L428.8 125L430.5 108Z"/>
<path fill="#fff" d="M433 101h1v1h-1zM433 102h1v1h-1zM434 103h1v1h-1zM431 104h1v1h-1zM431 105h1v1h-1zM435 105h1v1h-1zM431 106h1v1h-1zM436 106h1v1h-1zM436 107h1v1h-1zM434 108h1v1h-1zM437 108h1v1h-1zM430 109h1v1h-1zM437 109h1v1h-1zM435 110h1v1h-1zM430 112h1v1h-1zM438 112h1v1h-1zM440 114h1v1h-1zM441 116h1v1h-1zM429 118h1v1h-1zM446 123h1v1h-1zM445 124h1v1h-1zM450 129h1v1h-1zM675 129h1v1h-1zM428 130h1v1h-1zM673 130h1v1h-1zM675 130h1v1h-1zM671 132h1v1h-1zM428 133h1v1h-1zM666 133h3v1h-3zM670 133h1v1h-1zM672 133h1v1h-1zM458 134h1v1h-1zM668 134h1v1h-1zM671 134h1v1h-1zM428 135h1v1h-1zM457 135h1v1h-1zM459 135h1v1h-1zM661 135h1v1h-1zM667 135h2v1h-2zM461 136h1v1h-1zM673 136h1v1h-1zM461 137h1v1h-1zM670 137h1v1h-1zM673 137h2v1h-2zM462 138h3v1h-3zM650 138h2v1h-2zM653 138h1v1h-1zM657 138h1v1h-1zM662 138h1v1h-1zM669 138h1v1h-1zM427 139h1v1h-1zM646 139h2v1h-2zM666 139h3v1h-3zM427 140h1v1h-1zM467 140h1v1h-1zM642 140h1v1h-1zM645 140h1v1h-1zM647 140h1v1h-1zM651 140h1v1h-1zM665 140h1v1h-1zM639 141h2v1h-2zM644 141h1v1h-1zM663 141h1v1h-1zM637 142h1v1h-1zM645 142h1v1h-1zM657 142h2v1h-2zM660 142h2v1h-2zM630 143h2v1h-2zM634 143h2v1h-2zM637 143h1v1h-1zM641 143h1v1h-1zM658 143h1v1h-1zM474 144h1v1h-1zM476 144h1v1h-1zM625 144h3v1h-3zM657 144h1v1h-1zM623 145h1v1h-1zM626 145h1v1h-1zM639 145h1v1h-1zM654 145h1v1h-1zM477 146h1v1h-1zM617 146h1v1h-1zM622 146h1v1h-1zM645 146h1v1h-1zM652 146h2v1h-2zM483 147h1v1h-1zM611 147h1v1h-1zM629 147h1v1h-1zM647 147h2v1h-2zM651 147h1v1h-1zM484 148h1v1h-1zM609 148h1v1h-1zM649 148h2v1h-2zM486 149h1v1h-1zM488 149h1v1h-1zM601 149h4v1h-4zM608 149h1v1h-1zM617 149h1v1h-1zM490 150h2v1h-2zM597 150h2v1h-2zM601 150h2v1h-2zM604 150h1v1h-1zM608 150h1v1h-1zM615 150h1v1h-1zM617 150h1v1h-1zM643 150h1v1h-1zM426 151h1v1h-1zM591 151h1v1h-1zM593 151h3v1h-3zM609 151h1v1h-1zM642 151h1v1h-1zM496 152h1v1h-1zM586 152h2v1h-2zM589 152h1v1h-1zM594 152h1v1h-1zM599 152h1v1h-1zM634 152h2v1h-2zM499 153h1v1h-1zM580 153h1v1h-1zM582 153h1v1h-1zM598 153h1v1h-1zM632 153h1v1h-1zM640 153h1v1h-1zM498 154h1v1h-1zM500 154h1v1h-1zM573 154h1v1h-1zM577 154h2v1h-2zM593 154h1v1h-1zM634 154h1v1h-1zM637 154h2v1h-2zM506 155h2v1h-2zM566 155h2v1h-2zM570 155h1v1h-1zM573 155h1v1h-1zM580 155h1v1h-1zM582 155h1v1h-1zM622 155h1v1h-1zM636 155h1v1h-1zM504 156h1v1h-1zM510 156h2v1h-2zM559 156h2v1h-2zM564 156h1v1h-1zM571 156h1v1h-1zM574 156h1v1h-1zM512 157h1v1h-1zM516 157h1v1h-1zM552 157h2v1h-2zM560 157h1v1h-1zM514 158h1v1h-1zM516 158h1v1h-1zM518 158h1v1h-1zM520 158h1v1h-1zM545 158h1v1h-1zM553 158h1v1h-1zM627 158h1v1h-1zM522 159h1v1h-1zM525 159h2v1h-2zM540 159h1v1h-1zM543 159h1v1h-1zM625 159h3v1h-3zM426 160h1v1h-1zM530 160h1v1h-1zM532 160h1v1h-1zM537 160h1v1h-1zM558 160h1v1h-1zM625 160h1v1h-1zM425 161h1v1h-1zM528 161h1v1h-1zM621 161h1v1h-1zM623 161h1v1h-1zM612 162h1v1h-1zM620 162h2v1h-2zM610 163h1v1h-1zM615 163h2v1h-2zM613 164h4v1h-4zM427 165h1v1h-1zM605 165h1v1h-1zM612 165h3v1h-3zM606 166h1v1h-1zM609 166h1v1h-1zM425 167h1v1h-1zM610 167h1v1h-1zM607 168h2v1h-2zM605 169h1v1h-1zM591 170h1v1h-1zM593 170h1v1h-1zM598 170h1v1h-1zM602 170h1v1h-1zM604 170h1v1h-1zM603 171h1v1h-1zM598 172h1v1h-1zM596 173h2v1h-2zM597 174h1v1h-1zM424 175h1v1h-1zM592 177h1v1h-1zM424 178h1v1h-1zM589 178h1v1h-1zM592 178h1v1h-1zM588 179h1v1h-1zM590 179h1v1h-1zM584 182h1v1h-1zM587 182h1v1h-1zM584 183h1v1h-1zM586 183h1v1h-1zM585 184h1v1h-1zM582 185h1v1h-1zM583 187h1v1h-1zM424 188h1v1h-1zM579 188h1v1h-1zM582 188h1v1h-1zM423 189h2v1h-2zM580 189h1v1h-1zM423 190h1v1h-1zM423 191h1v1h-1zM575 191h1v1h-1zM423 193h1v1h-1zM423 194h1v1h-1zM577 194h1v1h-1zM423 196h2v1h-2zM575 197h1v1h-1zM574 198h1v1h-1zM423 199h1v1h-1zM572 199h1v1h-1zM568 201h1v1h-1zM570 201h1v1h-1zM567 203h1v1h-1zM564 204h1v1h-1zM566 204h1v1h-1zM558 207h1v1h-1zM560 208h1v1h-1zM422 210h1v1h-1zM557 210h1v1h-1zM549 211h1v1h-1zM556 211h1v1h-1zM554 212h1v1h-1zM550 215h1v1h-1zM546 216h1v1h-1zM548 216h1v1h-1zM543 218h1v1h-1zM421 219h1v1h-1zM541 219h1v1h-1zM421 220h1v1h-1zM542 220h1v1h-1zM421 221h1v1h-1zM539 221h1v1h-1zM534 222h1v1h-1zM537 223h1v1h-1zM421 225h1v1h-1zM532 225h3v1h-3zM529 226h1v1h-1zM531 226h1v1h-1zM530 227h1v1h-1zM525 228h1v1h-1zM528 228h1v1h-1zM420 229h1v1h-1zM523 229h1v1h-1zM526 229h2v1h-2zM420 230h1v1h-1zM524 230h3v1h-3zM420 231h1v1h-1zM523 231h2v1h-2zM420 232h1v1h-1zM519 232h1v1h-1zM522 232h1v1h-1zM521 233h1v1h-1zM517 235h1v1h-1zM516 236h1v1h-1zM512 237h1v1h-1zM511 238h2v1h-2zM419 240h1v1h-1zM503 243h1v1h-1zM501 244h1v1h-1zM500 245h1v1h-1zM499 246h1v1h-1zM419 247h1v1h-1zM494 247h1v1h-1zM418 249h1v1h-1zM418 250h1v1h-1zM491 250h1v1h-1zM491 251h1v1h-1zM486 252h1v1h-1zM489 252h1v1h-1zM418 253h1v1h-1zM485 253h2v1h-2zM482 255h3v1h-3zM480 256h1v1h-1zM480 257h2v1h-2zM417 259h1v1h-1zM419 259h1v1h-1zM475 259h1v1h-1zM478 259h1v1h-1zM476 260h1v1h-1zM474 261h1v1h-1zM417 262h1v1h-1zM473 262h1v1h-1zM417 263h1v1h-1zM471 263h1v1h-1zM467 265h1v1h-1zM464 266h1v1h-1zM466 266h1v1h-1zM418 267h1v1h-1zM417 268h1v1h-1zM462 268h1v1h-1zM417 269h1v1h-1zM418 270h1v1h-1zM456 270h1v1h-1zM459 270h1v1h-1zM455 271h1v1h-1zM457 271h1v1h-1zM452 273h1v1h-1zM452 274h1v1h-1zM418 275h1v1h-1zM420 277h1v1h-1zM443 277h1v1h-1zM446 277h1v1h-1zM420 278h1v1h-1zM441 278h1v1h-1zM444 278h2v1h-2zM421 279h1v1h-1zM443 279h1v1h-1zM422 280h1v1h-1zM439 281h2v1h-2zM425 282h1v1h-1zM427 283h1v1h-1zM434 283h1v1h-1zM429 284h1v1h-1z"/>
</g>
<path fill="#000" d="M427.8 97.8h1.5v1.5h-1.5zM431.8 98.8h1.5v1.5h-1.5zM430.8 100.8h1.5v1.5h-1.5zM439.8 103.8h1.5v1.5h-1.5zM648.8 105.8h1.5v1.5h-1.5zM428.8 106.8h2.5v1.5h-2.5zM438.8 106.8h1.5v1.5h-1.5zM437.8 107.8h1.5v1.5h-1.5zM458.8 108.8h1.5v1.5h-1.5zM463.8 108.8h1.5v1.5h-1.5zM428.8 109.8h1.5v1.5h-1.5zM451.8 109.8h1.5v1.5h-1.5zM438.8 110.8h1.5v1.5h-1.5zM444.8 110.8h1.5v1.5h-1.5zM451.8 110.8h1.5v1.5h-1.5zM637.8 110.8h1.5v1.5h-1.5zM648.8 110.8h1.5v1.5h-1.5zM454.8 111.8h1.5v1.5h-1.5zM446.8 112.8h1.5v1.5h-1.5zM449.8 112.8h1.5v1.5h-1.5zM658.8 112.8h1.5v1.5h-1.5zM448.8 113.8h1.5v1.5h-1.5zM457.8 113.8h1.5v1.5h-1.5zM443.8 114.8h2.5v1.5h-2.5zM441.8 115.8h1.5v1.5h-1.5zM443.8 115.8h2.5v1.5h-2.5zM447.8 115.8h1.5v1.5h-1.5zM451.8 115.8h1.5v1.5h-1.5zM675.8 115.8h1.5v1.5h-1.5zM442.8 116.8h1.5v1.5h-1.5zM444.8 116.8h1.5v1.5h-1.5zM447.8 116.8h1.5v1.5h-1.5zM637.8 116.8h1.5v1.5h-1.5zM426.8 117.8h1.5v1.5h-1.5zM446.8 117.8h1.5v1.5h-1.5zM448.8 117.8h2.5v1.5h-2.5zM451.8 117.8h1.5v1.5h-1.5zM453.8 117.8h1.5v1.5h-1.5zM456.8 117.8h1.5v1.5h-1.5zM604.8 117.8h1.5v1.5h-1.5zM629.8 117.8h1.5v1.5h-1.5zM661.8 117.8h1.5v1.5h-1.5zM444.8 118.8h1.5v1.5h-1.5zM446.8 118.8h1.5v1.5h-1.5zM454.8 118.8h1.5v1.5h-1.5zM443.8 119.8h3.5v1.5h-3.5zM457.8 119.8h1.5v1.5h-1.5zM659.8 119.8h1.5v1.5h-1.5zM673.8 119.8h1.5v1.5h-1.5zM427.8 120.8h1.5v1.5h-1.5zM444.8 120.8h1.5v1.5h-1.5zM446.8 120.8h1.5v1.5h-1.5zM641.8 120.8h1.5v1.5h-1.5zM671.8 120.8h2.5v1.5h-2.5zM427.8 121.8h1.5v1.5h-1.5zM445.8 121.8h2.5v1.5h-2.5zM454.8 121.8h1.5v1.5h-1.5zM673.8 121.8h1.5v1.5h-1.5zM675.8 121.8h1.5v1.5h-1.5zM427.8 122.8h1.5v1.5h-1.5zM446.8 122.8h2.5v1.5h-2.5zM450.8 122.8h1.5v1.5h-1.5zM674.8 122.8h1.5v1.5h-1.5zM446.8 123.8h4.5v1.5h-4.5zM451.8 123.8h1.5v1.5h-1.5zM674.8 123.8h2.5v1.5h-2.5zM425.8 124.8h1.5v1.5h-1.5zM448.8 124.8h1.5v1.5h-1.5zM459.8 124.8h1.5v1.5h-1.5zM672.8 124.8h4.5v1.5h-4.5zM448.8 125.8h1.5v1.5h-1.5zM450.8 125.8h1.5v1.5h-1.5zM622.8 125.8h1.5v1.5h-1.5zM652.8 125.8h1.5v1.5h-1.5zM670.8 125.8h1.5v1.5h-1.5zM674.8 125.8h2.5v1.5h-2.5zM426.8 126.8h1.5v1.5h-1.5zM448.8 126.8h1.5v1.5h-1.5zM450.8 126.8h1.5v1.5h-1.5zM457.8 126.8h1.5v1.5h-1.5zM462.8 126.8h1.5v1.5h-1.5zM649.8 126.8h1.5v1.5h-1.5zM662.8 126.8h1.5v1.5h-1.5zM672.8 126.8h1.5v1.5h-1.5zM674.8 126.8h2.5v1.5h-2.5zM450.8 127.8h1.5v1.5h-1.5zM455.8 127.8h1.5v1.5h-1.5zM661.8 127.8h1.5v1.5h-1.5zM667.8 127.8h1.5v1.5h-1.5zM669.8 127.8h1.5v1.5h-1.5zM673.8 127.8h1.5v1.5h-1.5zM675.8 127.8h1.5v1.5h-1.5zM450.8 128.8h1.5v1.5h-1.5zM453.8 128.8h1.5v1.5h-1.5zM455.8 128.8h1.5v1.5h-1.5zM633.8 128.8h1.5v1.5h-1.5zM649.8 128.8h1.5v1.5h-1.5zM652.8 128.8h1.5v1.5h-1.5zM666.8 128.8h1.5v1.5h-1.5zM669.8 128.8h1.5v1.5h-1.5zM671.8 128.8h1.5v1.5h-1.5zM673.8 128.8h1.5v1.5h-1.5zM425.8 129.8h1.5v1.5h-1.5zM453.8 129.8h2.5v1.5h-2.5zM458.8 129.8h1.5v1.5h-1.5zM657.8 129.8h1.5v1.5h-1.5zM659.8 129.8h1.5v1.5h-1.5zM662.8 129.8h1.5v1.5h-1.5zM666.8 129.8h1.5v1.5h-1.5zM648.8 130.8h1.5v1.5h-1.5zM655.8 130.8h1.5v1.5h-1.5zM663.8 130.8h3.5v1.5h-3.5zM668.8 130.8h1.5v1.5h-1.5zM634.8 131.8h2.5v1.5h-2.5zM637.8 131.8h1.5v1.5h-1.5zM640.8 131.8h1.5v1.5h-1.5zM666.8 131.8h1.5v1.5h-1.5zM458.8 132.8h1.5v1.5h-1.5zM460.8 132.8h1.5v1.5h-1.5zM463.8 132.8h1.5v1.5h-1.5zM603.8 132.8h1.5v1.5h-1.5zM654.8 132.8h1.5v1.5h-1.5zM658.8 132.8h2.5v1.5h-2.5zM662.8 132.8h1.5v1.5h-1.5zM664.8 132.8h1.5v1.5h-1.5zM426.8 133.8h1.5v1.5h-1.5zM460.8 133.8h1.5v1.5h-1.5zM466.8 133.8h1.5v1.5h-1.5zM581.8 133.8h1.5v1.5h-1.5zM627.8 133.8h1.5v1.5h-1.5zM647.8 133.8h1.5v1.5h-1.5zM651.8 133.8h1.5v1.5h-1.5zM658.8 133.8h1.5v1.5h-1.5zM660.8 133.8h1.5v1.5h-1.5zM662.8 133.8h1.5v1.5h-1.5zM426.8 134.8h1.5v1.5h-1.5zM459.8 134.8h1.5v1.5h-1.5zM463.8 134.8h1.5v1.5h-1.5zM465.8 134.8h1.5v1.5h-1.5zM469.8 134.8h1.5v1.5h-1.5zM620.8 134.8h1.5v1.5h-1.5zM628.8 134.8h1.5v1.5h-1.5zM644.8 134.8h2.5v1.5h-2.5zM658.8 134.8h1.5v1.5h-1.5zM612.8 135.8h1.5v1.5h-1.5zM618.8 135.8h1.5v1.5h-1.5zM624.8 135.8h1.5v1.5h-1.5zM629.8 135.8h2.5v1.5h-2.5zM650.8 135.8h2.5v1.5h-2.5zM462.8 136.8h1.5v1.5h-1.5zM465.8 136.8h1.5v1.5h-1.5zM489.8 136.8h1.5v1.5h-1.5zM581.8 136.8h1.5v1.5h-1.5zM605.8 136.8h1.5v1.5h-1.5zM645.8 136.8h1.5v1.5h-1.5zM674.8 136.8h1.5v1.5h-1.5zM466.8 137.8h1.5v1.5h-1.5zM586.8 137.8h1.5v1.5h-1.5zM600.8 137.8h2.5v1.5h-2.5zM605.8 137.8h1.5v1.5h-1.5zM613.8 137.8h1.5v1.5h-1.5zM636.8 137.8h2.5v1.5h-2.5zM640.8 137.8h2.5v1.5h-2.5zM645.8 137.8h1.5v1.5h-1.5zM647.8 137.8h2.5v1.5h-2.5zM674.8 137.8h1.5v1.5h-1.5zM467.8 138.8h1.5v1.5h-1.5zM469.8 138.8h1.5v1.5h-1.5zM471.8 138.8h1.5v1.5h-1.5zM605.8 138.8h1.5v1.5h-1.5zM626.8 138.8h1.5v1.5h-1.5zM636.8 138.8h1.5v1.5h-1.5zM639.8 138.8h1.5v1.5h-1.5zM644.8 138.8h1.5v1.5h-1.5zM669.8 138.8h1.5v1.5h-1.5zM673.8 138.8h1.5v1.5h-1.5zM473.8 139.8h1.5v1.5h-1.5zM601.8 139.8h1.5v1.5h-1.5zM611.8 139.8h1.5v1.5h-1.5zM616.8 139.8h1.5v1.5h-1.5zM622.8 139.8h1.5v1.5h-1.5zM629.8 139.8h1.5v1.5h-1.5zM631.8 139.8h4.5v1.5h-4.5zM636.8 139.8h1.5v1.5h-1.5zM638.8 139.8h3.5v1.5h-3.5zM674.8 139.8h1.5v1.5h-1.5zM591.8 140.8h1.5v1.5h-1.5zM602.8 140.8h1.5v1.5h-1.5zM609.8 140.8h1.5v1.5h-1.5zM611.8 140.8h1.5v1.5h-1.5zM619.8 140.8h1.5v1.5h-1.5zM624.8 140.8h4.5v1.5h-4.5zM629.8 140.8h2.5v1.5h-2.5zM634.8 140.8h2.5v1.5h-2.5zM663.8 140.8h1.5v1.5h-1.5zM666.8 140.8h2.5v1.5h-2.5zM670.8 140.8h1.5v1.5h-1.5zM674.8 140.8h1.5v1.5h-1.5zM425.8 141.8h1.5v1.5h-1.5zM472.8 141.8h1.5v1.5h-1.5zM476.8 141.8h1.5v1.5h-1.5zM478.8 141.8h1.5v1.5h-1.5zM554.8 141.8h1.5v1.5h-1.5zM578.8 141.8h1.5v1.5h-1.5zM604.8 141.8h1.5v1.5h-1.5zM609.8 141.8h1.5v1.5h-1.5zM613.8 141.8h1.5v1.5h-1.5zM616.8 141.8h1.5v1.5h-1.5zM620.8 141.8h1.5v1.5h-1.5zM624.8 141.8h1.5v1.5h-1.5zM626.8 141.8h1.5v1.5h-1.5zM628.8 141.8h5.5v1.5h-5.5zM661.8 141.8h4.5v1.5h-4.5zM668.8 141.8h1.5v1.5h-1.5zM675.8 141.8h1.5v1.5h-1.5zM425.8 142.8h1.5v1.5h-1.5zM474.8 142.8h2.5v1.5h-2.5zM586.8 142.8h1.5v1.5h-1.5zM601.8 142.8h1.5v1.5h-1.5zM604.8 142.8h1.5v1.5h-1.5zM615.8 142.8h1.5v1.5h-1.5zM618.8 142.8h1.5v1.5h-1.5zM620.8 142.8h1.5v1.5h-1.5zM627.8 142.8h1.5v1.5h-1.5zM659.8 142.8h1.5v1.5h-1.5zM661.8 142.8h1.5v1.5h-1.5zM665.8 142.8h1.5v1.5h-1.5zM667.8 142.8h2.5v1.5h-2.5zM670.8 142.8h1.5v1.5h-1.5zM425.8 143.8h1.5v1.5h-1.5zM478.8 143.8h1.5v1.5h-1.5zM484.8 143.8h1.5v1.5h-1.5zM600.8 143.8h1.5v1.5h-1.5zM604.8 143.8h1.5v1.5h-1.5zM607.8 143.8h1.5v1.5h-1.5zM611.8 143.8h1.5v1.5h-1.5zM615.8 143.8h1.5v1.5h-1.5zM617.8 143.8h4.5v1.5h-4.5zM622.8 143.8h2.5v1.5h-2.5zM657.8 143.8h2.5v1.5h-2.5zM492.8 144.8h1.5v1.5h-1.5zM589.8 144.8h1.5v1.5h-1.5zM592.8 144.8h1.5v1.5h-1.5zM598.8 144.8h2.5v1.5h-2.5zM603.8 144.8h1.5v1.5h-1.5zM610.8 144.8h2.5v1.5h-2.5zM615.8 144.8h2.5v1.5h-2.5zM655.8 144.8h3.5v1.5h-3.5zM660.8 144.8h1.5v1.5h-1.5zM664.8 144.8h1.5v1.5h-1.5zM672.8 144.8h1.5v1.5h-1.5zM481.8 145.8h1.5v1.5h-1.5zM528.8 145.8h1.5v1.5h-1.5zM568.8 145.8h2.5v1.5h-2.5zM595.8 145.8h1.5v1.5h-1.5zM601.8 145.8h2.5v1.5h-2.5zM605.8 145.8h2.5v1.5h-2.5zM610.8 145.8h1.5v1.5h-1.5zM614.8 145.8h1.5v1.5h-1.5zM653.8 145.8h2.5v1.5h-2.5zM656.8 145.8h1.5v1.5h-1.5zM665.8 145.8h2.5v1.5h-2.5zM674.8 145.8h1.5v1.5h-1.5zM483.8 146.8h3.5v1.5h-3.5zM489.8 146.8h1.5v1.5h-1.5zM491.8 146.8h1.5v1.5h-1.5zM500.8 146.8h2.5v1.5h-2.5zM580.8 146.8h1.5v1.5h-1.5zM593.8 146.8h1.5v1.5h-1.5zM596.8 146.8h1.5v1.5h-1.5zM600.8 146.8h1.5v1.5h-1.5zM602.8 146.8h3.5v1.5h-3.5zM606.8 146.8h1.5v1.5h-1.5zM609.8 146.8h1.5v1.5h-1.5zM651.8 146.8h1.5v1.5h-1.5zM653.8 146.8h2.5v1.5h-2.5zM659.8 146.8h2.5v1.5h-2.5zM664.8 146.8h1.5v1.5h-1.5zM674.8 146.8h1.5v1.5h-1.5zM491.8 147.8h1.5v1.5h-1.5zM500.8 147.8h1.5v1.5h-1.5zM566.8 147.8h1.5v1.5h-1.5zM583.8 147.8h1.5v1.5h-1.5zM590.8 147.8h1.5v1.5h-1.5zM596.8 147.8h1.5v1.5h-1.5zM600.8 147.8h1.5v1.5h-1.5zM602.8 147.8h3.5v1.5h-3.5zM650.8 147.8h1.5v1.5h-1.5zM654.8 147.8h2.5v1.5h-2.5zM657.8 147.8h1.5v1.5h-1.5zM661.8 147.8h1.5v1.5h-1.5zM668.8 147.8h1.5v1.5h-1.5zM674.8 147.8h2.5v1.5h-2.5zM488.8 148.8h1.5v1.5h-1.5zM494.8 148.8h1.5v1.5h-1.5zM496.8 148.8h1.5v1.5h-1.5zM564.8 148.8h1.5v1.5h-1.5zM580.8 148.8h1.5v1.5h-1.5zM582.8 148.8h1.5v1.5h-1.5zM587.8 148.8h2.5v1.5h-2.5zM591.8 148.8h2.5v1.5h-2.5zM594.8 148.8h2.5v1.5h-2.5zM597.8 148.8h1.5v1.5h-1.5zM649.8 148.8h4.5v1.5h-4.5zM654.8 148.8h1.5v1.5h-1.5zM661.8 148.8h1.5v1.5h-1.5zM667.8 148.8h1.5v1.5h-1.5zM491.8 149.8h1.5v1.5h-1.5zM509.8 149.8h1.5v1.5h-1.5zM515.8 149.8h1.5v1.5h-1.5zM582.8 149.8h3.5v1.5h-3.5zM587.8 149.8h1.5v1.5h-1.5zM589.8 149.8h1.5v1.5h-1.5zM591.8 149.8h3.5v1.5h-3.5zM646.8 149.8h1.5v1.5h-1.5zM650.8 149.8h1.5v1.5h-1.5zM652.8 149.8h2.5v1.5h-2.5zM669.8 149.8h1.5v1.5h-1.5zM424.8 150.8h1.5v1.5h-1.5zM494.8 150.8h1.5v1.5h-1.5zM498.8 150.8h1.5v1.5h-1.5zM548.8 150.8h1.5v1.5h-1.5zM572.8 150.8h1.5v1.5h-1.5zM580.8 150.8h4.5v1.5h-4.5zM585.8 150.8h1.5v1.5h-1.5zM587.8 150.8h1.5v1.5h-1.5zM645.8 150.8h5.5v1.5h-5.5zM651.8 150.8h1.5v1.5h-1.5zM659.8 150.8h1.5v1.5h-1.5zM674.8 150.8h2.5v1.5h-2.5zM497.8 151.8h1.5v1.5h-1.5zM500.8 151.8h2.5v1.5h-2.5zM535.8 151.8h1.5v1.5h-1.5zM546.8 151.8h1.5v1.5h-1.5zM553.8 151.8h1.5v1.5h-1.5zM558.8 151.8h2.5v1.5h-2.5zM581.8 151.8h1.5v1.5h-1.5zM584.8 151.8h1.5v1.5h-1.5zM642.8 151.8h1.5v1.5h-1.5zM644.8 151.8h1.5v1.5h-1.5zM652.8 151.8h1.5v1.5h-1.5zM663.8 151.8h1.5v1.5h-1.5zM519.8 152.8h1.5v1.5h-1.5zM560.8 152.8h1.5v1.5h-1.5zM577.8 152.8h2.5v1.5h-2.5zM640.8 152.8h2.5v1.5h-2.5zM644.8 152.8h1.5v1.5h-1.5zM648.8 152.8h1.5v1.5h-1.5zM654.8 152.8h1.5v1.5h-1.5zM656.8 152.8h1.5v1.5h-1.5zM508.8 153.8h1.5v1.5h-1.5zM549.8 153.8h1.5v1.5h-1.5zM554.8 153.8h1.5v1.5h-1.5zM563.8 153.8h1.5v1.5h-1.5zM566.8 153.8h4.5v1.5h-4.5zM571.8 153.8h1.5v1.5h-1.5zM638.8 153.8h2.5v1.5h-2.5zM641.8 153.8h3.5v1.5h-3.5zM646.8 153.8h1.5v1.5h-1.5zM649.8 153.8h1.5v1.5h-1.5zM665.8 153.8h1.5v1.5h-1.5zM507.8 154.8h1.5v1.5h-1.5zM509.8 154.8h1.5v1.5h-1.5zM514.8 154.8h1.5v1.5h-1.5zM518.8 154.8h1.5v1.5h-1.5zM524.8 154.8h1.5v1.5h-1.5zM527.8 154.8h1.5v1.5h-1.5zM561.8 154.8h2.5v1.5h-2.5zM640.8 154.8h2.5v1.5h-2.5zM513.8 155.8h2.5v1.5h-2.5zM516.8 155.8h1.5v1.5h-1.5zM520.8 155.8h1.5v1.5h-1.5zM523.8 155.8h1.5v1.5h-1.5zM526.8 155.8h1.5v1.5h-1.5zM538.8 155.8h1.5v1.5h-1.5zM547.8 155.8h1.5v1.5h-1.5zM551.8 155.8h1.5v1.5h-1.5zM553.8 155.8h2.5v1.5h-2.5zM633.8 155.8h3.5v1.5h-3.5zM637.8 155.8h4.5v1.5h-4.5zM642.8 155.8h1.5v1.5h-1.5zM644.8 155.8h1.5v1.5h-1.5zM648.8 155.8h1.5v1.5h-1.5zM653.8 155.8h1.5v1.5h-1.5zM664.8 155.8h1.5v1.5h-1.5zM424.8 156.8h1.5v1.5h-1.5zM516.8 156.8h2.5v1.5h-2.5zM520.8 156.8h1.5v1.5h-1.5zM526.8 156.8h1.5v1.5h-1.5zM533.8 156.8h1.5v1.5h-1.5zM535.8 156.8h1.5v1.5h-1.5zM537.8 156.8h1.5v1.5h-1.5zM539.8 156.8h1.5v1.5h-1.5zM543.8 156.8h1.5v1.5h-1.5zM548.8 156.8h1.5v1.5h-1.5zM550.8 156.8h1.5v1.5h-1.5zM632.8 156.8h2.5v1.5h-2.5zM635.8 156.8h1.5v1.5h-1.5zM640.8 156.8h1.5v1.5h-1.5zM645.8 156.8h1.5v1.5h-1.5zM654.8 156.8h1.5v1.5h-1.5zM661.8 156.8h1.5v1.5h-1.5zM670.8 156.8h1.5v1.5h-1.5zM673.8 156.8h1.5v1.5h-1.5zM520.8 157.8h3.5v1.5h-3.5zM526.8 157.8h2.5v1.5h-2.5zM530.8 157.8h1.5v1.5h-1.5zM534.8 157.8h1.5v1.5h-1.5zM537.8 157.8h1.5v1.5h-1.5zM540.8 157.8h1.5v1.5h-1.5zM629.8 157.8h1.5v1.5h-1.5zM634.8 157.8h1.5v1.5h-1.5zM638.8 157.8h2.5v1.5h-2.5zM642.8 157.8h3.5v1.5h-3.5zM649.8 157.8h1.5v1.5h-1.5zM668.8 157.8h1.5v1.5h-1.5zM531.8 158.8h2.5v1.5h-2.5zM536.8 158.8h1.5v1.5h-1.5zM627.8 158.8h2.5v1.5h-2.5zM631.8 158.8h1.5v1.5h-1.5zM635.8 158.8h1.5v1.5h-1.5zM637.8 158.8h1.5v1.5h-1.5zM645.8 158.8h1.5v1.5h-1.5zM626.8 159.8h2.5v1.5h-2.5zM630.8 159.8h3.5v1.5h-3.5zM634.8 159.8h1.5v1.5h-1.5zM639.8 159.8h2.5v1.5h-2.5zM644.8 159.8h1.5v1.5h-1.5zM662.8 159.8h1.5v1.5h-1.5zM623.8 160.8h2.5v1.5h-2.5zM626.8 160.8h1.5v1.5h-1.5zM628.8 160.8h1.5v1.5h-1.5zM633.8 160.8h1.5v1.5h-1.5zM637.8 160.8h1.5v1.5h-1.5zM650.8 160.8h1.5v1.5h-1.5zM663.8 160.8h1.5v1.5h-1.5zM674.8 160.8h1.5v1.5h-1.5zM621.8 161.8h1.5v1.5h-1.5zM638.8 161.8h1.5v1.5h-1.5zM619.8 162.8h1.5v1.5h-1.5zM621.8 162.8h1.5v1.5h-1.5zM626.8 162.8h1.5v1.5h-1.5zM631.8 162.8h2.5v1.5h-2.5zM636.8 162.8h1.5v1.5h-1.5zM639.8 162.8h1.5v1.5h-1.5zM666.8 162.8h1.5v1.5h-1.5zM422.8 163.8h1.5v1.5h-1.5zM618.8 163.8h3.5v1.5h-3.5zM626.8 163.8h1.5v1.5h-1.5zM630.8 163.8h1.5v1.5h-1.5zM633.8 163.8h1.5v1.5h-1.5zM635.8 163.8h1.5v1.5h-1.5zM614.8 164.8h3.5v1.5h-3.5zM618.8 164.8h1.5v1.5h-1.5zM620.8 164.8h1.5v1.5h-1.5zM623.8 164.8h1.5v1.5h-1.5zM625.8 164.8h1.5v1.5h-1.5zM639.8 164.8h1.5v1.5h-1.5zM670.8 164.8h1.5v1.5h-1.5zM419.8 165.8h1.5v1.5h-1.5zM613.8 165.8h1.5v1.5h-1.5zM617.8 165.8h1.5v1.5h-1.5zM619.8 165.8h2.5v1.5h-2.5zM627.8 165.8h1.5v1.5h-1.5zM629.8 165.8h2.5v1.5h-2.5zM637.8 165.8h1.5v1.5h-1.5zM671.8 165.8h1.5v1.5h-1.5zM610.8 166.8h2.5v1.5h-2.5zM613.8 166.8h1.5v1.5h-1.5zM616.8 166.8h1.5v1.5h-1.5zM608.8 167.8h3.5v1.5h-3.5zM616.8 167.8h1.5v1.5h-1.5zM618.8 167.8h1.5v1.5h-1.5zM623.8 167.8h1.5v1.5h-1.5zM632.8 167.8h1.5v1.5h-1.5zM658.8 167.8h1.5v1.5h-1.5zM606.8 168.8h2.5v1.5h-2.5zM612.8 168.8h1.5v1.5h-1.5zM615.8 168.8h2.5v1.5h-2.5zM623.8 168.8h1.5v1.5h-1.5zM421.8 169.8h1.5v1.5h-1.5zM605.8 169.8h1.5v1.5h-1.5zM608.8 169.8h3.5v1.5h-3.5zM615.8 169.8h1.5v1.5h-1.5zM622.8 169.8h1.5v1.5h-1.5zM627.8 169.8h1.5v1.5h-1.5zM605.8 170.8h2.5v1.5h-2.5zM610.8 170.8h1.5v1.5h-1.5zM614.8 170.8h1.5v1.5h-1.5zM630.8 170.8h1.5v1.5h-1.5zM651.8 170.8h1.5v1.5h-1.5zM601.8 171.8h5.5v1.5h-5.5zM608.8 171.8h2.5v1.5h-2.5zM601.8 172.8h1.5v1.5h-1.5zM610.8 172.8h1.5v1.5h-1.5zM627.8 172.8h1.5v1.5h-1.5zM641.8 172.8h1.5v1.5h-1.5zM421.8 173.8h1.5v1.5h-1.5zM597.8 173.8h2.5v1.5h-2.5zM600.8 173.8h1.5v1.5h-1.5zM604.8 173.8h2.5v1.5h-2.5zM609.8 173.8h1.5v1.5h-1.5zM634.8 173.8h1.5v1.5h-1.5zM595.8 174.8h1.5v1.5h-1.5zM598.8 174.8h1.5v1.5h-1.5zM601.8 174.8h2.5v1.5h-2.5zM608.8 174.8h2.5v1.5h-2.5zM623.8 174.8h1.5v1.5h-1.5zM594.8 175.8h1.5v1.5h-1.5zM596.8 175.8h1.5v1.5h-1.5zM600.8 175.8h1.5v1.5h-1.5zM611.8 175.8h2.5v1.5h-2.5zM640.8 175.8h1.5v1.5h-1.5zM593.8 176.8h2.5v1.5h-2.5zM598.8 176.8h1.5v1.5h-1.5zM602.8 176.8h1.5v1.5h-1.5zM605.8 176.8h1.5v1.5h-1.5zM422.8 177.8h1.5v1.5h-1.5zM592.8 177.8h1.5v1.5h-1.5zM594.8 177.8h4.5v1.5h-4.5zM607.8 177.8h1.5v1.5h-1.5zM612.8 177.8h1.5v1.5h-1.5zM614.8 177.8h1.5v1.5h-1.5zM621.8 177.8h1.5v1.5h-1.5zM629.8 177.8h1.5v1.5h-1.5zM422.8 178.8h1.5v1.5h-1.5zM591.8 178.8h2.5v1.5h-2.5zM594.8 178.8h1.5v1.5h-1.5zM596.8 178.8h2.5v1.5h-2.5zM612.8 178.8h1.5v1.5h-1.5zM644.8 178.8h1.5v1.5h-1.5zM657.8 178.8h1.5v1.5h-1.5zM589.8 179.8h3.5v1.5h-3.5zM602.8 179.8h1.5v1.5h-1.5zM604.8 179.8h1.5v1.5h-1.5zM629.8 179.8h1.5v1.5h-1.5zM590.8 180.8h1.5v1.5h-1.5zM593.8 180.8h2.5v1.5h-2.5zM599.8 180.8h1.5v1.5h-1.5zM602.8 180.8h1.5v1.5h-1.5zM587.8 181.8h1.5v1.5h-1.5zM595.8 181.8h1.5v1.5h-1.5zM633.8 181.8h1.5v1.5h-1.5zM587.8 182.8h3.5v1.5h-3.5zM591.8 182.8h1.5v1.5h-1.5zM593.8 182.8h1.5v1.5h-1.5zM621.8 182.8h1.5v1.5h-1.5zM624.8 182.8h1.5v1.5h-1.5zM587.8 183.8h4.5v1.5h-4.5zM592.8 183.8h1.5v1.5h-1.5zM597.8 183.8h1.5v1.5h-1.5zM584.8 184.8h1.5v1.5h-1.5zM586.8 184.8h1.5v1.5h-1.5zM588.8 184.8h1.5v1.5h-1.5zM591.8 184.8h2.5v1.5h-2.5zM594.8 184.8h1.5v1.5h-1.5zM603.8 184.8h1.5v1.5h-1.5zM621.8 184.8h2.5v1.5h-2.5zM626.8 184.8h1.5v1.5h-1.5zM584.8 185.8h1.5v1.5h-1.5zM588.8 185.8h1.5v1.5h-1.5zM601.8 185.8h1.5v1.5h-1.5zM627.8 185.8h1.5v1.5h-1.5zM583.8 186.8h2.5v1.5h-2.5zM586.8 186.8h1.5v1.5h-1.5zM592.8 186.8h1.5v1.5h-1.5zM594.8 186.8h1.5v1.5h-1.5zM617.8 186.8h2.5v1.5h-2.5zM623.8 186.8h1.5v1.5h-1.5zM606.8 187.8h1.5v1.5h-1.5zM611.8 187.8h1.5v1.5h-1.5zM620.8 187.8h1.5v1.5h-1.5zM581.8 188.8h1.5v1.5h-1.5zM583.8 188.8h1.5v1.5h-1.5zM586.8 188.8h1.5v1.5h-1.5zM588.8 188.8h1.5v1.5h-1.5zM581.8 189.8h1.5v1.5h-1.5zM585.8 189.8h1.5v1.5h-1.5zM593.8 189.8h1.5v1.5h-1.5zM581.8 190.8h1.5v1.5h-1.5zM585.8 190.8h1.5v1.5h-1.5zM605.8 190.8h1.5v1.5h-1.5zM580.8 191.8h3.5v1.5h-3.5zM607.8 191.8h1.5v1.5h-1.5zM609.8 191.8h1.5v1.5h-1.5zM601.8 192.8h1.5v1.5h-1.5zM617.8 192.8h1.5v1.5h-1.5zM581.8 193.8h1.5v1.5h-1.5zM592.8 193.8h1.5v1.5h-1.5zM608.8 193.8h1.5v1.5h-1.5zM577.8 194.8h1.5v1.5h-1.5zM582.8 194.8h1.5v1.5h-1.5zM585.8 194.8h1.5v1.5h-1.5zM421.8 195.8h1.5v1.5h-1.5zM581.8 195.8h1.5v1.5h-1.5zM589.8 195.8h1.5v1.5h-1.5zM591.8 195.8h1.5v1.5h-1.5zM608.8 195.8h1.5v1.5h-1.5zM576.8 196.8h2.5v1.5h-2.5zM579.8 196.8h1.5v1.5h-1.5zM596.8 196.8h1.5v1.5h-1.5zM604.8 196.8h1.5v1.5h-1.5zM574.8 197.8h1.5v1.5h-1.5zM578.8 197.8h1.5v1.5h-1.5zM581.8 197.8h1.5v1.5h-1.5zM589.8 197.8h1.5v1.5h-1.5zM610.8 197.8h1.5v1.5h-1.5zM572.8 198.8h1.5v1.5h-1.5zM575.8 198.8h2.5v1.5h-2.5zM571.8 199.8h4.5v1.5h-4.5zM577.8 199.8h2.5v1.5h-2.5zM598.8 199.8h1.5v1.5h-1.5zM603.8 199.8h1.5v1.5h-1.5zM420.8 200.8h2.5v1.5h-2.5zM570.8 200.8h1.5v1.5h-1.5zM572.8 200.8h1.5v1.5h-1.5zM612.8 200.8h1.5v1.5h-1.5zM569.8 201.8h2.5v1.5h-2.5zM594.8 201.8h1.5v1.5h-1.5zM567.8 202.8h2.5v1.5h-2.5zM570.8 202.8h1.5v1.5h-1.5zM574.8 202.8h1.5v1.5h-1.5zM597.8 202.8h1.5v1.5h-1.5zM567.8 203.8h1.5v1.5h-1.5zM569.8 203.8h2.5v1.5h-2.5zM573.8 203.8h1.5v1.5h-1.5zM575.8 203.8h2.5v1.5h-2.5zM589.8 203.8h1.5v1.5h-1.5zM607.8 203.8h1.5v1.5h-1.5zM564.8 204.8h3.5v1.5h-3.5zM568.8 204.8h1.5v1.5h-1.5zM607.8 204.8h2.5v1.5h-2.5zM563.8 205.8h1.5v1.5h-1.5zM585.8 205.8h1.5v1.5h-1.5zM604.8 205.8h1.5v1.5h-1.5zM415.8 206.8h1.5v1.5h-1.5zM421.8 206.8h1.5v1.5h-1.5zM563.8 206.8h1.5v1.5h-1.5zM600.8 206.8h1.5v1.5h-1.5zM608.8 206.8h1.5v1.5h-1.5zM560.8 207.8h3.5v1.5h-3.5zM564.8 207.8h1.5v1.5h-1.5zM568.8 207.8h1.5v1.5h-1.5zM575.8 207.8h1.5v1.5h-1.5zM587.8 207.8h1.5v1.5h-1.5zM591.8 207.8h1.5v1.5h-1.5zM598.8 207.8h1.5v1.5h-1.5zM559.8 208.8h1.5v1.5h-1.5zM563.8 208.8h1.5v1.5h-1.5zM575.8 208.8h1.5v1.5h-1.5zM577.8 208.8h1.5v1.5h-1.5zM557.8 209.8h3.5v1.5h-3.5zM563.8 209.8h1.5v1.5h-1.5zM567.8 209.8h1.5v1.5h-1.5zM576.8 209.8h1.5v1.5h-1.5zM581.8 209.8h1.5v1.5h-1.5zM592.8 209.8h1.5v1.5h-1.5zM594.8 209.8h1.5v1.5h-1.5zM556.8 210.8h1.5v1.5h-1.5zM558.8 210.8h3.5v1.5h-3.5zM582.8 210.8h1.5v1.5h-1.5zM584.8 210.8h1.5v1.5h-1.5zM598.8 210.8h1.5v1.5h-1.5zM604.8 210.8h1.5v1.5h-1.5zM557.8 211.8h2.5v1.5h-2.5zM562.8 211.8h1.5v1.5h-1.5zM565.8 211.8h1.5v1.5h-1.5zM580.8 211.8h1.5v1.5h-1.5zM588.8 211.8h1.5v1.5h-1.5zM553.8 212.8h1.5v1.5h-1.5zM557.8 212.8h3.5v1.5h-3.5zM562.8 212.8h1.5v1.5h-1.5zM570.8 212.8h1.5v1.5h-1.5zM599.8 212.8h1.5v1.5h-1.5zM551.8 213.8h2.5v1.5h-2.5zM556.8 213.8h1.5v1.5h-1.5zM558.8 213.8h1.5v1.5h-1.5zM576.8 213.8h1.5v1.5h-1.5zM586.8 213.8h1.5v1.5h-1.5zM596.8 213.8h2.5v1.5h-2.5zM550.8 214.8h2.5v1.5h-2.5zM553.8 214.8h1.5v1.5h-1.5zM558.8 214.8h1.5v1.5h-1.5zM581.8 214.8h1.5v1.5h-1.5zM591.8 214.8h1.5v1.5h-1.5zM597.8 214.8h2.5v1.5h-2.5zM604.8 214.8h1.5v1.5h-1.5zM548.8 215.8h3.5v1.5h-3.5zM557.8 215.8h1.5v1.5h-1.5zM559.8 215.8h1.5v1.5h-1.5zM563.8 215.8h1.5v1.5h-1.5zM578.8 215.8h1.5v1.5h-1.5zM599.8 215.8h1.5v1.5h-1.5zM547.8 216.8h1.5v1.5h-1.5zM554.8 216.8h2.5v1.5h-2.5zM558.8 216.8h1.5v1.5h-1.5zM565.8 216.8h1.5v1.5h-1.5zM569.8 216.8h1.5v1.5h-1.5zM601.8 216.8h1.5v1.5h-1.5zM420.8 217.8h1.5v1.5h-1.5zM549.8 217.8h1.5v1.5h-1.5zM557.8 217.8h1.5v1.5h-1.5zM571.8 217.8h1.5v1.5h-1.5zM419.8 218.8h1.5v1.5h-1.5zM543.8 218.8h1.5v1.5h-1.5zM546.8 218.8h1.5v1.5h-1.5zM551.8 218.8h1.5v1.5h-1.5zM553.8 218.8h2.5v1.5h-2.5zM570.8 218.8h1.5v1.5h-1.5zM575.8 218.8h1.5v1.5h-1.5zM579.8 218.8h1.5v1.5h-1.5zM582.8 218.8h1.5v1.5h-1.5zM584.8 218.8h1.5v1.5h-1.5zM542.8 219.8h1.5v1.5h-1.5zM544.8 219.8h1.5v1.5h-1.5zM549.8 219.8h1.5v1.5h-1.5zM552.8 219.8h1.5v1.5h-1.5zM559.8 219.8h1.5v1.5h-1.5zM569.8 219.8h1.5v1.5h-1.5zM596.8 219.8h1.5v1.5h-1.5zM543.8 220.8h1.5v1.5h-1.5zM550.8 220.8h1.5v1.5h-1.5zM553.8 220.8h1.5v1.5h-1.5zM560.8 220.8h1.5v1.5h-1.5zM595.8 220.8h1.5v1.5h-1.5zM539.8 221.8h2.5v1.5h-2.5zM549.8 221.8h1.5v1.5h-1.5zM596.8 221.8h1.5v1.5h-1.5zM537.8 222.8h1.5v1.5h-1.5zM540.8 222.8h2.5v1.5h-2.5zM543.8 222.8h1.5v1.5h-1.5zM552.8 222.8h1.5v1.5h-1.5zM560.8 222.8h1.5v1.5h-1.5zM580.8 222.8h1.5v1.5h-1.5zM418.8 223.8h1.5v1.5h-1.5zM535.8 223.8h1.5v1.5h-1.5zM537.8 223.8h1.5v1.5h-1.5zM541.8 223.8h1.5v1.5h-1.5zM545.8 223.8h2.5v1.5h-2.5zM550.8 223.8h1.5v1.5h-1.5zM568.8 223.8h1.5v1.5h-1.5zM575.8 223.8h1.5v1.5h-1.5zM589.8 223.8h1.5v1.5h-1.5zM534.8 224.8h2.5v1.5h-2.5zM537.8 224.8h1.5v1.5h-1.5zM539.8 224.8h1.5v1.5h-1.5zM533.8 225.8h2.5v1.5h-2.5zM554.8 225.8h1.5v1.5h-1.5zM560.8 225.8h1.5v1.5h-1.5zM562.8 225.8h1.5v1.5h-1.5zM565.8 225.8h1.5v1.5h-1.5zM583.8 225.8h1.5v1.5h-1.5zM598.8 225.8h1.5v1.5h-1.5zM419.8 226.8h1.5v1.5h-1.5zM530.8 226.8h2.5v1.5h-2.5zM537.8 226.8h2.5v1.5h-2.5zM549.8 226.8h1.5v1.5h-1.5zM554.8 226.8h1.5v1.5h-1.5zM529.8 227.8h2.5v1.5h-2.5zM540.8 227.8h1.5v1.5h-1.5zM527.8 228.8h3.5v1.5h-3.5zM532.8 228.8h1.5v1.5h-1.5zM537.8 228.8h1.5v1.5h-1.5zM539.8 228.8h2.5v1.5h-2.5zM547.8 228.8h1.5v1.5h-1.5zM552.8 228.8h1.5v1.5h-1.5zM527.8 229.8h2.5v1.5h-2.5zM535.8 229.8h1.5v1.5h-1.5zM552.8 229.8h1.5v1.5h-1.5zM524.8 230.8h4.5v1.5h-4.5zM531.8 230.8h1.5v1.5h-1.5zM533.8 230.8h1.5v1.5h-1.5zM539.8 230.8h1.5v1.5h-1.5zM546.8 230.8h1.5v1.5h-1.5zM548.8 230.8h1.5v1.5h-1.5zM553.8 230.8h1.5v1.5h-1.5zM560.8 230.8h1.5v1.5h-1.5zM563.8 230.8h2.5v1.5h-2.5zM523.8 231.8h1.5v1.5h-1.5zM535.8 231.8h1.5v1.5h-1.5zM542.8 231.8h1.5v1.5h-1.5zM554.8 231.8h1.5v1.5h-1.5zM574.8 231.8h1.5v1.5h-1.5zM578.8 231.8h2.5v1.5h-2.5zM582.8 231.8h1.5v1.5h-1.5zM591.8 231.8h1.5v1.5h-1.5zM418.8 232.8h1.5v1.5h-1.5zM521.8 232.8h1.5v1.5h-1.5zM523.8 232.8h4.5v1.5h-4.5zM529.8 232.8h1.5v1.5h-1.5zM531.8 232.8h1.5v1.5h-1.5zM540.8 232.8h1.5v1.5h-1.5zM547.8 232.8h1.5v1.5h-1.5zM574.8 232.8h1.5v1.5h-1.5zM584.8 232.8h1.5v1.5h-1.5zM591.8 232.8h1.5v1.5h-1.5zM520.8 233.8h2.5v1.5h-2.5zM536.8 233.8h3.5v1.5h-3.5zM548.8 233.8h1.5v1.5h-1.5zM517.8 234.8h2.5v1.5h-2.5zM521.8 234.8h1.5v1.5h-1.5zM524.8 234.8h1.5v1.5h-1.5zM527.8 234.8h1.5v1.5h-1.5zM545.8 234.8h2.5v1.5h-2.5zM571.8 234.8h1.5v1.5h-1.5zM577.8 234.8h1.5v1.5h-1.5zM418.8 235.8h1.5v1.5h-1.5zM519.8 235.8h2.5v1.5h-2.5zM522.8 235.8h2.5v1.5h-2.5zM537.8 235.8h2.5v1.5h-2.5zM547.8 235.8h1.5v1.5h-1.5zM551.8 235.8h1.5v1.5h-1.5zM556.8 235.8h1.5v1.5h-1.5zM562.8 235.8h1.5v1.5h-1.5zM574.8 235.8h3.5v1.5h-3.5zM580.8 235.8h1.5v1.5h-1.5zM587.8 235.8h1.5v1.5h-1.5zM592.8 235.8h1.5v1.5h-1.5zM514.8 236.8h1.5v1.5h-1.5zM525.8 236.8h1.5v1.5h-1.5zM547.8 236.8h2.5v1.5h-2.5zM585.8 236.8h1.5v1.5h-1.5zM417.8 237.8h1.5v1.5h-1.5zM513.8 237.8h1.5v1.5h-1.5zM515.8 237.8h1.5v1.5h-1.5zM519.8 237.8h1.5v1.5h-1.5zM522.8 237.8h1.5v1.5h-1.5zM532.8 237.8h1.5v1.5h-1.5zM571.8 237.8h1.5v1.5h-1.5zM591.8 237.8h1.5v1.5h-1.5zM512.8 238.8h1.5v1.5h-1.5zM521.8 238.8h2.5v1.5h-2.5zM535.8 238.8h1.5v1.5h-1.5zM538.8 238.8h1.5v1.5h-1.5zM549.8 238.8h2.5v1.5h-2.5zM563.8 238.8h1.5v1.5h-1.5zM571.8 238.8h1.5v1.5h-1.5zM516.8 239.8h1.5v1.5h-1.5zM524.8 239.8h1.5v1.5h-1.5zM534.8 239.8h1.5v1.5h-1.5zM541.8 239.8h1.5v1.5h-1.5zM551.8 239.8h1.5v1.5h-1.5zM561.8 239.8h1.5v1.5h-1.5zM563.8 239.8h1.5v1.5h-1.5zM508.8 240.8h1.5v1.5h-1.5zM510.8 240.8h1.5v1.5h-1.5zM512.8 240.8h1.5v1.5h-1.5zM514.8 240.8h1.5v1.5h-1.5zM518.8 240.8h1.5v1.5h-1.5zM549.8 240.8h1.5v1.5h-1.5zM551.8 240.8h1.5v1.5h-1.5zM417.8 241.8h1.5v1.5h-1.5zM508.8 241.8h2.5v1.5h-2.5zM512.8 241.8h1.5v1.5h-1.5zM515.8 241.8h1.5v1.5h-1.5zM520.8 241.8h1.5v1.5h-1.5zM532.8 241.8h3.5v1.5h-3.5zM546.8 241.8h1.5v1.5h-1.5zM554.8 241.8h1.5v1.5h-1.5zM586.8 241.8h1.5v1.5h-1.5zM504.8 242.8h2.5v1.5h-2.5zM509.8 242.8h1.5v1.5h-1.5zM518.8 242.8h1.5v1.5h-1.5zM524.8 242.8h1.5v1.5h-1.5zM546.8 242.8h1.5v1.5h-1.5zM581.8 242.8h1.5v1.5h-1.5zM409.8 243.8h1.5v1.5h-1.5zM417.8 243.8h1.5v1.5h-1.5zM503.8 243.8h1.5v1.5h-1.5zM516.8 243.8h1.5v1.5h-1.5zM530.8 243.8h1.5v1.5h-1.5zM534.8 243.8h2.5v1.5h-2.5zM538.8 243.8h1.5v1.5h-1.5zM553.8 243.8h1.5v1.5h-1.5zM501.8 244.8h1.5v1.5h-1.5zM507.8 244.8h1.5v1.5h-1.5zM499.8 245.8h3.5v1.5h-3.5zM506.8 245.8h1.5v1.5h-1.5zM515.8 245.8h1.5v1.5h-1.5zM547.8 245.8h1.5v1.5h-1.5zM560.8 245.8h1.5v1.5h-1.5zM579.8 245.8h2.5v1.5h-2.5zM417.8 246.8h1.5v1.5h-1.5zM498.8 246.8h2.5v1.5h-2.5zM504.8 246.8h1.5v1.5h-1.5zM508.8 246.8h1.5v1.5h-1.5zM514.8 246.8h1.5v1.5h-1.5zM542.8 246.8h1.5v1.5h-1.5zM558.8 246.8h1.5v1.5h-1.5zM565.8 246.8h1.5v1.5h-1.5zM578.8 246.8h1.5v1.5h-1.5zM496.8 247.8h4.5v1.5h-4.5zM501.8 247.8h1.5v1.5h-1.5zM506.8 247.8h1.5v1.5h-1.5zM530.8 247.8h1.5v1.5h-1.5zM538.8 247.8h1.5v1.5h-1.5zM540.8 247.8h1.5v1.5h-1.5zM545.8 247.8h1.5v1.5h-1.5zM550.8 247.8h1.5v1.5h-1.5zM559.8 247.8h1.5v1.5h-1.5zM416.8 248.8h1.5v1.5h-1.5zM495.8 248.8h1.5v1.5h-1.5zM497.8 248.8h3.5v1.5h-3.5zM508.8 248.8h1.5v1.5h-1.5zM530.8 248.8h1.5v1.5h-1.5zM580.8 248.8h1.5v1.5h-1.5zM416.8 249.8h1.5v1.5h-1.5zM493.8 249.8h1.5v1.5h-1.5zM495.8 249.8h2.5v1.5h-2.5zM498.8 249.8h1.5v1.5h-1.5zM510.8 249.8h1.5v1.5h-1.5zM517.8 249.8h1.5v1.5h-1.5zM521.8 249.8h1.5v1.5h-1.5zM557.8 249.8h1.5v1.5h-1.5zM575.8 249.8h1.5v1.5h-1.5zM491.8 250.8h1.5v1.5h-1.5zM494.8 250.8h1.5v1.5h-1.5zM505.8 250.8h1.5v1.5h-1.5zM526.8 250.8h1.5v1.5h-1.5zM566.8 250.8h1.5v1.5h-1.5zM489.8 251.8h1.5v1.5h-1.5zM491.8 251.8h2.5v1.5h-2.5zM494.8 251.8h2.5v1.5h-2.5zM509.8 251.8h1.5v1.5h-1.5zM513.8 251.8h1.5v1.5h-1.5zM517.8 251.8h1.5v1.5h-1.5zM551.8 251.8h1.5v1.5h-1.5zM565.8 251.8h1.5v1.5h-1.5zM584.8 251.8h1.5v1.5h-1.5zM490.8 252.8h2.5v1.5h-2.5zM495.8 252.8h1.5v1.5h-1.5zM497.8 252.8h1.5v1.5h-1.5zM503.8 252.8h1.5v1.5h-1.5zM512.8 252.8h1.5v1.5h-1.5zM516.8 252.8h1.5v1.5h-1.5zM552.8 252.8h1.5v1.5h-1.5zM576.8 252.8h1.5v1.5h-1.5zM578.8 252.8h1.5v1.5h-1.5zM488.8 253.8h1.5v1.5h-1.5zM497.8 253.8h1.5v1.5h-1.5zM533.8 253.8h1.5v1.5h-1.5zM558.8 253.8h1.5v1.5h-1.5zM577.8 253.8h1.5v1.5h-1.5zM485.8 254.8h3.5v1.5h-3.5zM490.8 254.8h2.5v1.5h-2.5zM501.8 254.8h1.5v1.5h-1.5zM507.8 254.8h1.5v1.5h-1.5zM518.8 254.8h1.5v1.5h-1.5zM543.8 254.8h1.5v1.5h-1.5zM548.8 254.8h1.5v1.5h-1.5zM415.8 255.8h1.5v1.5h-1.5zM484.8 255.8h1.5v1.5h-1.5zM486.8 255.8h1.5v1.5h-1.5zM490.8 255.8h1.5v1.5h-1.5zM493.8 255.8h1.5v1.5h-1.5zM500.8 255.8h2.5v1.5h-2.5zM516.8 255.8h1.5v1.5h-1.5zM530.8 255.8h1.5v1.5h-1.5zM544.8 255.8h1.5v1.5h-1.5zM558.8 255.8h1.5v1.5h-1.5zM566.8 255.8h1.5v1.5h-1.5zM416.8 256.8h1.5v1.5h-1.5zM484.8 256.8h2.5v1.5h-2.5zM487.8 256.8h2.5v1.5h-2.5zM518.8 256.8h1.5v1.5h-1.5zM528.8 256.8h1.5v1.5h-1.5zM546.8 256.8h1.5v1.5h-1.5zM555.8 256.8h1.5v1.5h-1.5zM479.8 257.8h3.5v1.5h-3.5zM486.8 257.8h1.5v1.5h-1.5zM488.8 257.8h2.5v1.5h-2.5zM497.8 257.8h1.5v1.5h-1.5zM504.8 257.8h1.5v1.5h-1.5zM508.8 257.8h1.5v1.5h-1.5zM521.8 257.8h1.5v1.5h-1.5zM525.8 257.8h1.5v1.5h-1.5zM532.8 257.8h1.5v1.5h-1.5zM558.8 257.8h1.5v1.5h-1.5zM481.8 258.8h1.5v1.5h-1.5zM504.8 258.8h1.5v1.5h-1.5zM536.8 258.8h1.5v1.5h-1.5zM540.8 258.8h1.5v1.5h-1.5zM560.8 258.8h1.5v1.5h-1.5zM476.8 259.8h1.5v1.5h-1.5zM479.8 259.8h1.5v1.5h-1.5zM481.8 259.8h2.5v1.5h-2.5zM485.8 259.8h1.5v1.5h-1.5zM489.8 259.8h2.5v1.5h-2.5zM493.8 259.8h1.5v1.5h-1.5zM499.8 259.8h1.5v1.5h-1.5zM521.8 259.8h1.5v1.5h-1.5zM526.8 259.8h1.5v1.5h-1.5zM540.8 259.8h1.5v1.5h-1.5zM556.8 259.8h1.5v1.5h-1.5zM562.8 259.8h1.5v1.5h-1.5zM477.8 260.8h1.5v1.5h-1.5zM480.8 260.8h1.5v1.5h-1.5zM482.8 260.8h2.5v1.5h-2.5zM490.8 260.8h1.5v1.5h-1.5zM492.8 260.8h1.5v1.5h-1.5zM497.8 260.8h1.5v1.5h-1.5zM505.8 260.8h1.5v1.5h-1.5zM509.8 260.8h1.5v1.5h-1.5zM534.8 260.8h1.5v1.5h-1.5zM548.8 260.8h1.5v1.5h-1.5zM550.8 260.8h1.5v1.5h-1.5zM565.8 260.8h1.5v1.5h-1.5zM575.8 260.8h1.5v1.5h-1.5zM415.8 261.8h1.5v1.5h-1.5zM473.8 261.8h1.5v1.5h-1.5zM475.8 261.8h1.5v1.5h-1.5zM518.8 261.8h1.5v1.5h-1.5zM471.8 262.8h1.5v1.5h-1.5zM475.8 262.8h1.5v1.5h-1.5zM479.8 262.8h3.5v1.5h-3.5zM500.8 262.8h1.5v1.5h-1.5zM510.8 262.8h1.5v1.5h-1.5zM517.8 262.8h1.5v1.5h-1.5zM519.8 262.8h1.5v1.5h-1.5zM528.8 262.8h1.5v1.5h-1.5zM546.8 262.8h1.5v1.5h-1.5zM548.8 262.8h1.5v1.5h-1.5zM575.8 262.8h2.5v1.5h-2.5zM469.8 263.8h2.5v1.5h-2.5zM472.8 263.8h1.5v1.5h-1.5zM476.8 263.8h1.5v1.5h-1.5zM490.8 263.8h1.5v1.5h-1.5zM494.8 263.8h1.5v1.5h-1.5zM515.8 263.8h1.5v1.5h-1.5zM535.8 263.8h2.5v1.5h-2.5zM541.8 263.8h1.5v1.5h-1.5zM547.8 263.8h1.5v1.5h-1.5zM469.8 264.8h3.5v1.5h-3.5zM473.8 264.8h1.5v1.5h-1.5zM478.8 264.8h1.5v1.5h-1.5zM516.8 264.8h1.5v1.5h-1.5zM522.8 264.8h1.5v1.5h-1.5zM527.8 264.8h1.5v1.5h-1.5zM548.8 264.8h1.5v1.5h-1.5zM556.8 264.8h1.5v1.5h-1.5zM577.8 264.8h1.5v1.5h-1.5zM415.8 265.8h1.5v1.5h-1.5zM466.8 265.8h1.5v1.5h-1.5zM475.8 265.8h1.5v1.5h-1.5zM477.8 265.8h2.5v1.5h-2.5zM481.8 265.8h1.5v1.5h-1.5zM499.8 265.8h1.5v1.5h-1.5zM512.8 265.8h1.5v1.5h-1.5zM517.8 265.8h1.5v1.5h-1.5zM528.8 265.8h1.5v1.5h-1.5zM534.8 265.8h1.5v1.5h-1.5zM557.8 265.8h1.5v1.5h-1.5zM467.8 266.8h4.5v1.5h-4.5zM474.8 266.8h1.5v1.5h-1.5zM483.8 266.8h1.5v1.5h-1.5zM488.8 266.8h1.5v1.5h-1.5zM496.8 266.8h1.5v1.5h-1.5zM513.8 266.8h1.5v1.5h-1.5zM524.8 266.8h1.5v1.5h-1.5zM536.8 266.8h1.5v1.5h-1.5zM545.8 266.8h1.5v1.5h-1.5zM551.8 266.8h1.5v1.5h-1.5zM571.8 266.8h1.5v1.5h-1.5zM574.8 266.8h1.5v1.5h-1.5zM464.8 267.8h2.5v1.5h-2.5zM468.8 267.8h2.5v1.5h-2.5zM476.8 267.8h1.5v1.5h-1.5zM478.8 267.8h1.5v1.5h-1.5zM489.8 267.8h2.5v1.5h-2.5zM495.8 267.8h1.5v1.5h-1.5zM502.8 267.8h1.5v1.5h-1.5zM509.8 267.8h2.5v1.5h-2.5zM517.8 267.8h1.5v1.5h-1.5zM547.8 267.8h1.5v1.5h-1.5zM556.8 267.8h1.5v1.5h-1.5zM462.8 268.8h2.5v1.5h-2.5zM465.8 268.8h2.5v1.5h-2.5zM468.8 268.8h1.5v1.5h-1.5zM472.8 268.8h1.5v1.5h-1.5zM477.8 268.8h1.5v1.5h-1.5zM493.8 268.8h2.5v1.5h-2.5zM515.8 268.8h1.5v1.5h-1.5zM522.8 268.8h1.5v1.5h-1.5zM564.8 268.8h1.5v1.5h-1.5zM459.8 269.8h1.5v1.5h-1.5zM462.8 269.8h2.5v1.5h-2.5zM467.8 269.8h1.5v1.5h-1.5zM470.8 269.8h1.5v1.5h-1.5zM473.8 269.8h2.5v1.5h-2.5zM477.8 269.8h1.5v1.5h-1.5zM485.8 269.8h1.5v1.5h-1.5zM490.8 269.8h1.5v1.5h-1.5zM501.8 269.8h1.5v1.5h-1.5zM559.8 269.8h1.5v1.5h-1.5zM569.8 269.8h1.5v1.5h-1.5zM457.8 270.8h6.5v1.5h-6.5zM465.8 270.8h2.5v1.5h-2.5zM471.8 270.8h1.5v1.5h-1.5zM500.8 270.8h1.5v1.5h-1.5zM519.8 270.8h1.5v1.5h-1.5zM526.8 270.8h1.5v1.5h-1.5zM555.8 270.8h1.5v1.5h-1.5zM416.8 271.8h1.5v1.5h-1.5zM455.8 271.8h1.5v1.5h-1.5zM458.8 271.8h1.5v1.5h-1.5zM462.8 271.8h1.5v1.5h-1.5zM464.8 271.8h4.5v1.5h-4.5zM469.8 271.8h3.5v1.5h-3.5zM475.8 271.8h1.5v1.5h-1.5zM477.8 271.8h1.5v1.5h-1.5zM480.8 271.8h1.5v1.5h-1.5zM488.8 271.8h1.5v1.5h-1.5zM515.8 271.8h1.5v1.5h-1.5zM532.8 271.8h1.5v1.5h-1.5zM553.8 271.8h1.5v1.5h-1.5zM558.8 271.8h1.5v1.5h-1.5zM561.8 271.8h1.5v1.5h-1.5zM566.8 271.8h1.5v1.5h-1.5zM454.8 272.8h4.5v1.5h-4.5zM466.8 272.8h1.5v1.5h-1.5zM469.8 272.8h1.5v1.5h-1.5zM472.8 272.8h2.5v1.5h-2.5zM506.8 272.8h1.5v1.5h-1.5zM513.8 272.8h1.5v1.5h-1.5zM515.8 272.8h1.5v1.5h-1.5zM519.8 272.8h1.5v1.5h-1.5zM521.8 272.8h1.5v1.5h-1.5zM531.8 272.8h1.5v1.5h-1.5zM454.8 273.8h1.5v1.5h-1.5zM460.8 273.8h1.5v1.5h-1.5zM462.8 273.8h1.5v1.5h-1.5zM465.8 273.8h6.5v1.5h-6.5zM473.8 273.8h1.5v1.5h-1.5zM476.8 273.8h1.5v1.5h-1.5zM486.8 273.8h1.5v1.5h-1.5zM490.8 273.8h2.5v1.5h-2.5zM508.8 273.8h1.5v1.5h-1.5zM531.8 273.8h1.5v1.5h-1.5zM555.8 273.8h1.5v1.5h-1.5zM557.8 273.8h2.5v1.5h-2.5zM564.8 273.8h1.5v1.5h-1.5zM567.8 273.8h1.5v1.5h-1.5zM569.8 273.8h1.5v1.5h-1.5zM571.8 273.8h1.5v1.5h-1.5zM574.8 273.8h1.5v1.5h-1.5zM415.8 274.8h1.5v1.5h-1.5zM450.8 274.8h1.5v1.5h-1.5zM452.8 274.8h3.5v1.5h-3.5zM459.8 274.8h1.5v1.5h-1.5zM463.8 274.8h1.5v1.5h-1.5zM468.8 274.8h1.5v1.5h-1.5zM507.8 274.8h1.5v1.5h-1.5zM524.8 274.8h1.5v1.5h-1.5zM547.8 274.8h1.5v1.5h-1.5zM449.8 275.8h2.5v1.5h-2.5zM453.8 275.8h1.5v1.5h-1.5zM456.8 275.8h4.5v1.5h-4.5zM462.8 275.8h1.5v1.5h-1.5zM464.8 275.8h1.5v1.5h-1.5zM467.8 275.8h1.5v1.5h-1.5zM470.8 275.8h2.5v1.5h-2.5zM480.8 275.8h1.5v1.5h-1.5zM485.8 275.8h1.5v1.5h-1.5zM509.8 275.8h1.5v1.5h-1.5zM544.8 275.8h1.5v1.5h-1.5zM563.8 275.8h1.5v1.5h-1.5zM447.8 276.8h1.5v1.5h-1.5zM455.8 276.8h2.5v1.5h-2.5zM458.8 276.8h1.5v1.5h-1.5zM460.8 276.8h1.5v1.5h-1.5zM467.8 276.8h1.5v1.5h-1.5zM472.8 276.8h2.5v1.5h-2.5zM478.8 276.8h2.5v1.5h-2.5zM515.8 276.8h1.5v1.5h-1.5zM518.8 276.8h1.5v1.5h-1.5zM530.8 276.8h1.5v1.5h-1.5zM543.8 276.8h2.5v1.5h-2.5zM557.8 276.8h1.5v1.5h-1.5zM446.8 277.8h2.5v1.5h-2.5zM449.8 277.8h1.5v1.5h-1.5zM452.8 277.8h1.5v1.5h-1.5zM454.8 277.8h2.5v1.5h-2.5zM457.8 277.8h1.5v1.5h-1.5zM460.8 277.8h1.5v1.5h-1.5zM463.8 277.8h1.5v1.5h-1.5zM467.8 277.8h1.5v1.5h-1.5zM469.8 277.8h1.5v1.5h-1.5zM474.8 277.8h1.5v1.5h-1.5zM484.8 277.8h1.5v1.5h-1.5zM518.8 277.8h1.5v1.5h-1.5zM548.8 277.8h1.5v1.5h-1.5zM552.8 277.8h1.5v1.5h-1.5zM556.8 277.8h1.5v1.5h-1.5zM443.8 278.8h2.5v1.5h-2.5zM447.8 278.8h1.5v1.5h-1.5zM454.8 278.8h1.5v1.5h-1.5zM457.8 278.8h1.5v1.5h-1.5zM459.8 278.8h2.5v1.5h-2.5zM463.8 278.8h1.5v1.5h-1.5zM467.8 278.8h2.5v1.5h-2.5zM470.8 278.8h1.5v1.5h-1.5zM472.8 278.8h1.5v1.5h-1.5zM478.8 278.8h1.5v1.5h-1.5zM505.8 278.8h1.5v1.5h-1.5zM510.8 278.8h1.5v1.5h-1.5zM524.8 278.8h1.5v1.5h-1.5zM543.8 278.8h1.5v1.5h-1.5zM545.8 278.8h1.5v1.5h-1.5zM550.8 278.8h1.5v1.5h-1.5zM555.8 278.8h1.5v1.5h-1.5zM444.8 279.8h1.5v1.5h-1.5zM447.8 279.8h1.5v1.5h-1.5zM449.8 279.8h1.5v1.5h-1.5zM455.8 279.8h1.5v1.5h-1.5zM459.8 279.8h2.5v1.5h-2.5zM466.8 279.8h3.5v1.5h-3.5zM470.8 279.8h3.5v1.5h-3.5zM474.8 279.8h1.5v1.5h-1.5zM494.8 279.8h1.5v1.5h-1.5zM509.8 279.8h2.5v1.5h-2.5zM535.8 279.8h1.5v1.5h-1.5zM569.8 279.8h1.5v1.5h-1.5zM410.8 280.8h1.5v1.5h-1.5zM420.8 280.8h1.5v1.5h-1.5zM441.8 280.8h2.5v1.5h-2.5zM444.8 280.8h1.5v1.5h-1.5zM446.8 280.8h2.5v1.5h-2.5zM449.8 280.8h1.5v1.5h-1.5zM457.8 280.8h1.5v1.5h-1.5zM460.8 280.8h1.5v1.5h-1.5zM462.8 280.8h2.5v1.5h-2.5zM468.8 280.8h1.5v1.5h-1.5zM471.8 280.8h2.5v1.5h-2.5zM484.8 280.8h1.5v1.5h-1.5zM513.8 280.8h1.5v1.5h-1.5zM531.8 280.8h1.5v1.5h-1.5zM543.8 280.8h1.5v1.5h-1.5zM548.8 280.8h1.5v1.5h-1.5zM559.8 280.8h1.5v1.5h-1.5zM561.8 280.8h1.5v1.5h-1.5zM409.8 281.8h1.5v1.5h-1.5zM423.8 281.8h1.5v1.5h-1.5zM437.8 281.8h1.5v1.5h-1.5zM448.8 281.8h1.5v1.5h-1.5zM451.8 281.8h1.5v1.5h-1.5zM454.8 281.8h1.5v1.5h-1.5zM462.8 281.8h4.5v1.5h-4.5zM467.8 281.8h1.5v1.5h-1.5zM469.8 281.8h1.5v1.5h-1.5zM474.8 281.8h1.5v1.5h-1.5zM492.8 281.8h1.5v1.5h-1.5zM511.8 281.8h1.5v1.5h-1.5zM517.8 281.8h1.5v1.5h-1.5zM534.8 281.8h1.5v1.5h-1.5zM409.8 282.8h1.5v1.5h-1.5zM425.8 282.8h1.5v1.5h-1.5zM434.8 282.8h5.5v1.5h-5.5zM441.8 282.8h1.5v1.5h-1.5zM445.8 282.8h1.5v1.5h-1.5zM448.8 282.8h1.5v1.5h-1.5zM454.8 282.8h1.5v1.5h-1.5zM461.8 282.8h2.5v1.5h-2.5zM466.8 282.8h4.5v1.5h-4.5zM472.8 282.8h1.5v1.5h-1.5zM492.8 282.8h1.5v1.5h-1.5zM498.8 282.8h1.5v1.5h-1.5zM505.8 282.8h1.5v1.5h-1.5zM521.8 282.8h1.5v1.5h-1.5zM539.8 282.8h1.5v1.5h-1.5zM560.8 282.8h1.5v1.5h-1.5zM419.8 283.8h1.5v1.5h-1.5zM427.8 283.8h1.5v1.5h-1.5zM431.8 283.8h3.5v1.5h-3.5zM435.8 283.8h2.5v1.5h-2.5zM446.8 283.8h1.5v1.5h-1.5zM448.8 283.8h2.5v1.5h-2.5zM457.8 283.8h1.5v1.5h-1.5zM460.8 283.8h2.5v1.5h-2.5zM463.8 283.8h1.5v1.5h-1.5zM466.8 283.8h7.5v1.5h-7.5zM508.8 283.8h1.5v1.5h-1.5zM530.8 283.8h1.5v1.5h-1.5zM548.8 283.8h1.5v1.5h-1.5zM563.8 283.8h1.5v1.5h-1.5zM428.8 284.8h1.5v1.5h-1.5zM432.8 284.8h2.5v1.5h-2.5zM435.8 284.8h1.5v1.5h-1.5zM437.8 284.8h1.5v1.5h-1.5zM452.8 284.8h1.5v1.5h-1.5zM457.8 284.8h1.5v1.5h-1.5zM463.8 284.8h3.5v1.5h-3.5zM469.8 284.8h1.5v1.5h-1.5zM475.8 284.8h1.5v1.5h-1.5zM483.8 284.8h1.5v1.5h-1.5zM525.8 284.8h1.5v1.5h-1.5zM550.8 284.8h1.5v1.5h-1.5zM553.8 284.8h1.5v1.5h-1.5zM405.8 285.8h1.5v1.5h-1.5zM424.8 285.8h1.5v1.5h-1.5zM427.8 285.8h1.5v1.5h-1.5zM430.8 285.8h2.5v1.5h-2.5zM446.8 285.8h2.5v1.5h-2.5zM449.8 285.8h1.5v1.5h-1.5zM452.8 285.8h1.5v1.5h-1.5zM456.8 285.8h2.5v1.5h-2.5zM459.8 285.8h1.5v1.5h-1.5zM461.8 285.8h1.5v1.5h-1.5zM467.8 285.8h2.5v1.5h-2.5zM482.8 285.8h1.5v1.5h-1.5zM501.8 285.8h1.5v1.5h-1.5zM507.8 285.8h1.5v1.5h-1.5zM514.8 285.8h1.5v1.5h-1.5zM538.8 285.8h1.5v1.5h-1.5zM402.8 286.8h1.5v1.5h-1.5zM404.8 286.8h1.5v1.5h-1.5zM428.8 286.8h1.5v1.5h-1.5zM434.8 286.8h1.5v1.5h-1.5zM459.8 286.8h2.5v1.5h-2.5zM463.8 286.8h1.5v1.5h-1.5zM475.8 286.8h1.5v1.5h-1.5zM477.8 286.8h1.5v1.5h-1.5zM482.8 286.8h1.5v1.5h-1.5zM510.8 286.8h1.5v1.5h-1.5zM533.8 286.8h1.5v1.5h-1.5zM542.8 286.8h1.5v1.5h-1.5zM402.8 287.8h1.5v1.5h-1.5zM414.8 287.8h1.5v1.5h-1.5zM432.8 287.8h1.5v1.5h-1.5zM435.8 287.8h1.5v1.5h-1.5zM443.8 287.8h1.5v1.5h-1.5zM450.8 287.8h1.5v1.5h-1.5zM459.8 287.8h1.5v1.5h-1.5zM461.8 287.8h3.5v1.5h-3.5zM465.8 287.8h1.5v1.5h-1.5zM467.8 287.8h2.5v1.5h-2.5zM508.8 287.8h2.5v1.5h-2.5zM539.8 287.8h1.5v1.5h-1.5zM418.8 288.8h3.5v1.5h-3.5zM428.8 288.8h1.5v1.5h-1.5zM431.8 288.8h1.5v1.5h-1.5zM440.8 288.8h2.5v1.5h-2.5zM446.8 288.8h1.5v1.5h-1.5zM454.8 288.8h2.5v1.5h-2.5zM457.8 288.8h1.5v1.5h-1.5zM461.8 288.8h1.5v1.5h-1.5zM471.8 288.8h1.5v1.5h-1.5zM473.8 288.8h1.5v1.5h-1.5zM498.8 288.8h1.5v1.5h-1.5zM504.8 288.8h1.5v1.5h-1.5zM525.8 288.8h1.5v1.5h-1.5zM556.8 288.8h1.5v1.5h-1.5zM402.8 289.8h1.5v1.5h-1.5zM422.8 289.8h1.5v1.5h-1.5zM426.8 289.8h3.5v1.5h-3.5zM434.8 289.8h1.5v1.5h-1.5zM467.8 289.8h6.5v1.5h-6.5zM476.8 289.8h1.5v1.5h-1.5zM506.8 289.8h1.5v1.5h-1.5zM522.8 289.8h1.5v1.5h-1.5zM538.8 289.8h1.5v1.5h-1.5zM540.8 289.8h1.5v1.5h-1.5zM561.8 289.8h1.5v1.5h-1.5zM397.8 290.8h1.5v1.5h-1.5zM421.8 290.8h1.5v1.5h-1.5zM428.8 290.8h4.5v1.5h-4.5zM449.8 290.8h1.5v1.5h-1.5zM463.8 290.8h1.5v1.5h-1.5zM469.8 290.8h1.5v1.5h-1.5zM475.8 290.8h2.5v1.5h-2.5zM488.8 290.8h1.5v1.5h-1.5zM491.8 290.8h1.5v1.5h-1.5zM497.8 290.8h2.5v1.5h-2.5zM531.8 290.8h1.5v1.5h-1.5zM540.8 290.8h1.5v1.5h-1.5zM547.8 290.8h1.5v1.5h-1.5zM397.8 291.8h1.5v1.5h-1.5zM419.8 291.8h1.5v1.5h-1.5zM432.8 291.8h1.5v1.5h-1.5zM435.8 291.8h1.5v1.5h-1.5zM438.8 291.8h1.5v1.5h-1.5zM461.8 291.8h2.5v1.5h-2.5zM465.8 291.8h2.5v1.5h-2.5zM469.8 291.8h2.5v1.5h-2.5zM496.8 291.8h2.5v1.5h-2.5zM514.8 291.8h1.5v1.5h-1.5zM517.8 291.8h1.5v1.5h-1.5zM530.8 291.8h1.5v1.5h-1.5zM533.8 291.8h1.5v1.5h-1.5zM547.8 291.8h1.5v1.5h-1.5zM551.8 291.8h1.5v1.5h-1.5zM557.8 291.8h1.5v1.5h-1.5zM418.8 292.8h1.5v1.5h-1.5zM427.8 292.8h1.5v1.5h-1.5zM432.8 292.8h1.5v1.5h-1.5zM449.8 292.8h1.5v1.5h-1.5zM455.8 292.8h1.5v1.5h-1.5zM457.8 292.8h1.5v1.5h-1.5zM467.8 292.8h1.5v1.5h-1.5zM470.8 292.8h1.5v1.5h-1.5zM473.8 292.8h2.5v1.5h-2.5zM477.8 292.8h1.5v1.5h-1.5zM485.8 292.8h1.5v1.5h-1.5zM491.8 292.8h1.5v1.5h-1.5zM505.8 292.8h1.5v1.5h-1.5zM509.8 292.8h1.5v1.5h-1.5zM515.8 292.8h1.5v1.5h-1.5zM518.8 292.8h1.5v1.5h-1.5zM529.8 292.8h1.5v1.5h-1.5zM535.8 292.8h1.5v1.5h-1.5zM548.8 292.8h1.5v1.5h-1.5zM394.8 293.8h1.5v1.5h-1.5zM425.8 293.8h1.5v1.5h-1.5zM432.8 293.8h2.5v1.5h-2.5zM436.8 293.8h1.5v1.5h-1.5zM439.8 293.8h1.5v1.5h-1.5zM448.8 293.8h1.5v1.5h-1.5zM454.8 293.8h1.5v1.5h-1.5zM459.8 293.8h1.5v1.5h-1.5zM462.8 293.8h4.5v1.5h-4.5zM468.8 293.8h1.5v1.5h-1.5zM470.8 293.8h2.5v1.5h-2.5zM474.8 293.8h2.5v1.5h-2.5zM480.8 293.8h1.5v1.5h-1.5zM493.8 293.8h1.5v1.5h-1.5zM495.8 293.8h1.5v1.5h-1.5zM499.8 293.8h1.5v1.5h-1.5zM518.8 293.8h1.5v1.5h-1.5zM540.8 293.8h1.5v1.5h-1.5zM548.8 293.8h2.5v1.5h-2.5zM414.8 294.8h1.5v1.5h-1.5zM418.8 294.8h1.5v1.5h-1.5zM422.8 294.8h1.5v1.5h-1.5zM455.8 294.8h1.5v1.5h-1.5zM459.8 294.8h1.5v1.5h-1.5zM461.8 294.8h2.5v1.5h-2.5zM464.8 294.8h2.5v1.5h-2.5zM467.8 294.8h1.5v1.5h-1.5zM471.8 294.8h2.5v1.5h-2.5zM509.8 294.8h1.5v1.5h-1.5zM515.8 294.8h1.5v1.5h-1.5zM522.8 294.8h1.5v1.5h-1.5zM526.8 294.8h1.5v1.5h-1.5zM534.8 294.8h1.5v1.5h-1.5zM545.8 294.8h1.5v1.5h-1.5zM396.8 295.8h1.5v1.5h-1.5zM424.8 295.8h2.5v1.5h-2.5zM448.8 295.8h1.5v1.5h-1.5zM452.8 295.8h1.5v1.5h-1.5zM459.8 295.8h1.5v1.5h-1.5zM464.8 295.8h5.5v1.5h-5.5zM471.8 295.8h2.5v1.5h-2.5zM474.8 295.8h1.5v1.5h-1.5zM488.8 295.8h1.5v1.5h-1.5zM491.8 295.8h1.5v1.5h-1.5zM495.8 295.8h1.5v1.5h-1.5zM505.8 295.8h1.5v1.5h-1.5zM515.8 295.8h1.5v1.5h-1.5zM533.8 295.8h1.5v1.5h-1.5zM392.8 296.8h1.5v1.5h-1.5zM423.8 296.8h1.5v1.5h-1.5zM426.8 296.8h1.5v1.5h-1.5zM435.8 296.8h1.5v1.5h-1.5zM439.8 296.8h1.5v1.5h-1.5zM456.8 296.8h1.5v1.5h-1.5zM459.8 296.8h1.5v1.5h-1.5zM462.8 296.8h2.5v1.5h-2.5zM466.8 296.8h1.5v1.5h-1.5zM472.8 296.8h1.5v1.5h-1.5zM474.8 296.8h1.5v1.5h-1.5zM527.8 296.8h1.5v1.5h-1.5zM542.8 296.8h1.5v1.5h-1.5zM548.8 296.8h1.5v1.5h-1.5zM558.8 296.8h1.5v1.5h-1.5zM407.8 297.8h1.5v1.5h-1.5zM409.8 297.8h1.5v1.5h-1.5zM424.8 297.8h1.5v1.5h-1.5zM427.8 297.8h1.5v1.5h-1.5zM449.8 297.8h1.5v1.5h-1.5zM457.8 297.8h1.5v1.5h-1.5zM460.8 297.8h1.5v1.5h-1.5zM466.8 297.8h2.5v1.5h-2.5zM472.8 297.8h1.5v1.5h-1.5zM483.8 297.8h1.5v1.5h-1.5zM500.8 297.8h1.5v1.5h-1.5zM508.8 297.8h1.5v1.5h-1.5zM533.8 297.8h1.5v1.5h-1.5zM409.8 298.8h1.5v1.5h-1.5zM411.8 298.8h1.5v1.5h-1.5zM426.8 298.8h1.5v1.5h-1.5zM428.8 298.8h1.5v1.5h-1.5zM441.8 298.8h1.5v1.5h-1.5zM459.8 298.8h1.5v1.5h-1.5zM464.8 298.8h2.5v1.5h-2.5zM469.8 298.8h1.5v1.5h-1.5zM471.8 298.8h1.5v1.5h-1.5zM473.8 298.8h1.5v1.5h-1.5zM500.8 298.8h2.5v1.5h-2.5zM511.8 298.8h1.5v1.5h-1.5zM523.8 298.8h1.5v1.5h-1.5zM555.8 298.8h1.5v1.5h-1.5zM403.8 299.8h1.5v1.5h-1.5zM409.8 299.8h2.5v1.5h-2.5zM429.8 299.8h2.5v1.5h-2.5zM441.8 299.8h1.5v1.5h-1.5zM446.8 299.8h1.5v1.5h-1.5zM462.8 299.8h1.5v1.5h-1.5zM470.8 299.8h1.5v1.5h-1.5zM477.8 299.8h1.5v1.5h-1.5zM479.8 299.8h1.5v1.5h-1.5zM514.8 299.8h1.5v1.5h-1.5zM519.8 299.8h1.5v1.5h-1.5zM389.8 300.8h1.5v1.5h-1.5zM455.8 300.8h1.5v1.5h-1.5zM463.8 300.8h1.5v1.5h-1.5zM470.8 300.8h1.5v1.5h-1.5zM473.8 300.8h1.5v1.5h-1.5zM476.8 300.8h2.5v1.5h-2.5zM545.8 300.8h1.5v1.5h-1.5zM553.8 300.8h1.5v1.5h-1.5zM387.8 301.8h1.5v1.5h-1.5zM413.8 301.8h2.5v1.5h-2.5zM427.8 301.8h1.5v1.5h-1.5zM432.8 301.8h1.5v1.5h-1.5zM446.8 301.8h1.5v1.5h-1.5zM461.8 301.8h1.5v1.5h-1.5zM468.8 301.8h1.5v1.5h-1.5zM472.8 301.8h1.5v1.5h-1.5zM475.8 301.8h1.5v1.5h-1.5zM477.8 301.8h1.5v1.5h-1.5zM490.8 301.8h1.5v1.5h-1.5zM495.8 301.8h1.5v1.5h-1.5zM501.8 301.8h1.5v1.5h-1.5zM509.8 301.8h1.5v1.5h-1.5zM519.8 301.8h1.5v1.5h-1.5zM524.8 301.8h1.5v1.5h-1.5zM535.8 301.8h1.5v1.5h-1.5zM385.8 302.8h1.5v1.5h-1.5zM437.8 302.8h1.5v1.5h-1.5zM446.8 302.8h1.5v1.5h-1.5zM454.8 302.8h2.5v1.5h-2.5zM470.8 302.8h1.5v1.5h-1.5zM474.8 302.8h1.5v1.5h-1.5zM476.8 302.8h2.5v1.5h-2.5zM483.8 302.8h1.5v1.5h-1.5zM494.8 302.8h1.5v1.5h-1.5zM499.8 302.8h1.5v1.5h-1.5zM515.8 302.8h1.5v1.5h-1.5zM525.8 302.8h1.5v1.5h-1.5zM551.8 302.8h1.5v1.5h-1.5zM399.8 303.8h1.5v1.5h-1.5zM423.8 303.8h1.5v1.5h-1.5zM432.8 303.8h1.5v1.5h-1.5zM465.8 303.8h1.5v1.5h-1.5zM467.8 303.8h2.5v1.5h-2.5zM512.8 303.8h1.5v1.5h-1.5zM403.8 304.8h1.5v1.5h-1.5zM429.8 304.8h1.5v1.5h-1.5zM468.8 304.8h1.5v1.5h-1.5zM474.8 304.8h1.5v1.5h-1.5zM528.8 304.8h1.5v1.5h-1.5zM384.8 305.8h1.5v1.5h-1.5zM400.8 305.8h1.5v1.5h-1.5zM441.8 305.8h1.5v1.5h-1.5zM443.8 305.8h1.5v1.5h-1.5zM456.8 305.8h1.5v1.5h-1.5zM459.8 305.8h1.5v1.5h-1.5zM469.8 305.8h1.5v1.5h-1.5zM472.8 305.8h2.5v1.5h-2.5zM521.8 305.8h1.5v1.5h-1.5zM472.8 306.8h1.5v1.5h-1.5zM479.8 306.8h1.5v1.5h-1.5z"/>
<g shape-rendering="crispEdges">
<path fill="#000" d="M739 86L742.5 90L745.8 95.8L748.7 103L752.2 108.7L755.5 117.2L764.4 128L780.8 138.9L802.5 144.4L818.9 141.7L840.6 134L862.4 125.5L884.2 117.5L887 114L887 128L873.3 133.5L857 144.4L843.4 158L833 177L827 190.6L817.2 203.6L802.5 223.1L787.9 242.5L773.3 259.6L761.1 271.8L753.8 281.5L749 289.5L730 289.5L728.3 271.8L729.5 240L731 200L732.5 160L733.3 135L733.6 108.7L735 103L736.5 95.8L737.5 90Z"/>
<path fill="#fff" d="M740 88h1v1h-1zM738 89h1v1h-1zM741 89h1v1h-1zM737 91h1v1h-1zM737 93h1v1h-1zM741 93h1v1h-1zM744 93h1v1h-1zM744 95h1v1h-1zM746 97h1v1h-1zM746 98h1v1h-1zM746 99h1v1h-1zM735 100h1v1h-1zM736 101h1v1h-1zM746 103h3v1h-3zM749 104h1v1h-1zM734 105h1v1h-1zM752 109h1v1h-1zM733 110h1v1h-1zM735 110h1v1h-1zM752 110h1v1h-1zM736 112h1v1h-1zM753 112h1v1h-1zM733 113h1v1h-1zM752 113h1v1h-1zM733 114h1v1h-1zM754 114h1v1h-1zM734 115h1v1h-1zM886 115h1v1h-1zM753 116h1v1h-1zM885 116h1v1h-1zM754 117h1v1h-1zM884 117h1v1h-1zM734 118h1v1h-1zM882 118h2v1h-2zM757 119h1v1h-1zM879 120h1v1h-1zM886 120h1v1h-1zM758 121h1v1h-1zM873 121h1v1h-1zM876 121h1v1h-1zM878 121h1v1h-1zM733 122h1v1h-1zM759 122h1v1h-1zM871 122h1v1h-1zM868 123h1v1h-1zM760 124h1v1h-1zM865 124h2v1h-2zM869 124h1v1h-1zM733 125h1v1h-1zM864 125h1v1h-1zM866 125h1v1h-1zM733 126h1v1h-1zM862 126h1v1h-1zM865 126h2v1h-2zM884 126h1v1h-1zM733 127h1v1h-1zM763 127h1v1h-1zM861 127h1v1h-1zM880 127h1v1h-1zM883 127h3v1h-3zM733 128h1v1h-1zM764 128h1v1h-1zM855 128h1v1h-1zM858 128h1v1h-1zM883 128h3v1h-3zM852 129h1v1h-1zM858 129h1v1h-1zM880 129h1v1h-1zM883 129h1v1h-1zM873 130h2v1h-2zM878 130h1v1h-1zM880 130h1v1h-1zM733 131h1v1h-1zM760 131h1v1h-1zM768 131h2v1h-2zM849 131h1v1h-1zM852 131h1v1h-1zM878 131h1v1h-1zM845 132h1v1h-1zM850 132h1v1h-1zM875 132h1v1h-1zM771 133h2v1h-2zM842 133h1v1h-1zM872 133h2v1h-2zM733 134h1v1h-1zM840 134h1v1h-1zM842 134h2v1h-2zM845 134h1v1h-1zM771 135h1v1h-1zM775 135h1v1h-1zM869 135h2v1h-2zM776 136h1v1h-1zM835 136h1v1h-1zM837 136h1v1h-1zM733 137h1v1h-1zM777 137h1v1h-1zM831 137h2v1h-2zM864 137h1v1h-1zM733 138h1v1h-1zM778 138h1v1h-1zM830 138h1v1h-1zM834 138h1v1h-1zM836 138h1v1h-1zM838 138h1v1h-1zM840 138h1v1h-1zM825 139h1v1h-1zM827 139h1v1h-1zM838 139h1v1h-1zM864 139h1v1h-1zM784 140h1v1h-1zM822 140h1v1h-1zM825 140h3v1h-3zM733 141h1v1h-1zM781 141h1v1h-1zM787 141h1v1h-1zM789 141h1v1h-1zM819 141h2v1h-2zM861 141h1v1h-1zM790 142h1v1h-1zM813 142h1v1h-1zM824 142h1v1h-1zM857 142h1v1h-1zM859 142h1v1h-1zM733 143h1v1h-1zM798 143h1v1h-1zM811 143h1v1h-1zM813 143h1v1h-1zM858 143h1v1h-1zM798 144h2v1h-2zM803 144h2v1h-2zM806 144h2v1h-2zM815 144h1v1h-1zM825 144h1v1h-1zM805 145h1v1h-1zM853 147h1v1h-1zM851 149h1v1h-1zM849 151h1v1h-1zM848 152h1v1h-1zM844 154h1v1h-1zM733 155h1v1h-1zM732 156h1v1h-1zM732 157h1v1h-1zM842 157h1v1h-1zM732 158h1v1h-1zM842 158h1v1h-1zM842 159h1v1h-1zM732 160h1v1h-1zM839 160h1v1h-1zM841 160h1v1h-1zM732 161h1v1h-1zM839 162h1v1h-1zM732 163h1v1h-1zM837 164h1v1h-1zM839 164h1v1h-1zM837 165h1v1h-1zM834 168h1v1h-1zM836 168h2v1h-2zM732 169h1v1h-1zM732 171h1v1h-1zM834 172h1v1h-1zM832 174h1v1h-1zM834 174h1v1h-1zM832 175h1v1h-1zM832 176h2v1h-2zM832 177h1v1h-1zM831 179h1v1h-1zM829 181h1v1h-1zM731 184h1v1h-1zM828 184h1v1h-1zM828 185h2v1h-2zM732 186h1v1h-1zM731 187h1v1h-1zM828 187h1v1h-1zM731 188h1v1h-1zM825 190h2v1h-2zM731 191h1v1h-1zM826 191h1v1h-1zM825 192h1v1h-1zM731 193h1v1h-1zM824 193h1v1h-1zM731 194h1v1h-1zM822 194h1v1h-1zM820 195h2v1h-2zM822 196h1v1h-1zM821 197h1v1h-1zM732 198h1v1h-1zM816 198h1v1h-1zM820 198h1v1h-1zM731 199h1v1h-1zM818 199h2v1h-2zM819 200h1v1h-1zM818 201h1v1h-1zM816 202h1v1h-1zM816 203h1v1h-1zM816 204h1v1h-1zM811 209h1v1h-1zM731 210h1v1h-1zM810 211h1v1h-1zM809 212h1v1h-1zM808 214h1v1h-1zM807 215h1v1h-1zM730 216h1v1h-1zM807 216h1v1h-1zM805 218h1v1h-1zM730 219h1v1h-1zM804 219h1v1h-1zM730 220h1v1h-1zM798 220h1v1h-1zM730 223h1v1h-1zM730 224h1v1h-1zM800 224h2v1h-2zM798 225h1v1h-1zM800 225h1v1h-1zM796 226h1v1h-1zM799 226h1v1h-1zM730 227h1v1h-1zM730 228h1v1h-1zM798 228h1v1h-1zM792 232h1v1h-1zM794 232h2v1h-2zM792 233h3v1h-3zM792 234h1v1h-1zM791 235h2v1h-2zM792 236h1v1h-1zM782 237h1v1h-1zM729 238h1v1h-1zM729 239h1v1h-1zM787 240h2v1h-2zM729 241h1v1h-1zM729 242h1v1h-1zM786 242h1v1h-1zM729 243h1v1h-1zM786 243h1v1h-1zM729 244h2v1h-2zM784 244h2v1h-2zM729 245h1v1h-1zM784 245h2v1h-2zM784 246h1v1h-1zM729 247h1v1h-1zM783 247h1v1h-1zM779 248h1v1h-1zM729 249h1v1h-1zM778 249h1v1h-1zM781 249h1v1h-1zM776 250h1v1h-1zM778 250h1v1h-1zM729 251h1v1h-1zM778 251h1v1h-1zM779 252h1v1h-1zM777 253h1v1h-1zM777 254h1v1h-1zM729 255h1v1h-1zM773 255h1v1h-1zM772 258h2v1h-2zM771 260h1v1h-1zM766 262h1v1h-1zM729 263h1v1h-1zM769 263h1v1h-1zM765 264h1v1h-1zM768 264h1v1h-1zM729 265h1v1h-1zM765 265h1v1h-1zM728 267h1v1h-1zM728 268h1v1h-1zM761 268h2v1h-2zM764 268h1v1h-1zM761 269h2v1h-2zM728 270h1v1h-1zM728 271h1v1h-1zM761 271h1v1h-1zM760 272h1v1h-1zM759 273h1v1h-1zM728 274h1v1h-1zM755 276h1v1h-1zM755 277h2v1h-2zM729 278h1v1h-1zM753 278h1v1h-1zM755 278h1v1h-1zM755 279h1v1h-1zM729 280h1v1h-1zM752 280h1v1h-1zM754 280h1v1h-1zM729 281h1v1h-1zM750 283h1v1h-1zM752 283h1v1h-1zM751 284h1v1h-1zM750 285h1v1h-1zM750 286h1v1h-1zM732 288h1v1h-1zM738 288h1v1h-1zM741 288h1v1h-1zM745 288h2v1h-2zM730 289h3v1h-3zM734 289h3v1h-3zM738 289h2v1h-2zM744 289h1v1h-1zM746 289h2v1h-2z"/>
</g>
<path fill="#000" d="M739.8 64.8h1.5v1.5h-1.5zM737.8 65.8h1.5v1.5h-1.5zM739.8 65.8h1.5v1.5h-1.5zM741.8 70.8h1.5v1.5h-1.5zM740.8 77.8h1.5v1.5h-1.5zM740.8 82.8h1.5v1.5h-1.5zM740.8 83.8h1.5v1.5h-1.5zM742.8 85.8h1.5v1.5h-1.5zM743.8 86.8h1.5v1.5h-1.5zM741.8 88.8h2.5v1.5h-2.5zM742.8 89.8h1.5v1.5h-1.5zM745.8 90.8h1.5v1.5h-1.5zM884.8 90.8h1.5v1.5h-1.5zM745.8 93.8h1.5v1.5h-1.5zM734.8 94.8h1.5v1.5h-1.5zM734.8 95.8h1.5v1.5h-1.5zM745.8 95.8h1.5v1.5h-1.5zM747.8 95.8h1.5v1.5h-1.5zM746.8 98.8h1.5v1.5h-1.5zM880.8 99.8h1.5v1.5h-1.5zM747.8 100.8h1.5v1.5h-1.5zM871.8 101.8h1.5v1.5h-1.5zM733.8 102.8h1.5v1.5h-1.5zM862.8 102.8h1.5v1.5h-1.5zM749.8 103.8h1.5v1.5h-1.5zM879.8 103.8h1.5v1.5h-1.5zM749.8 104.8h1.5v1.5h-1.5zM880.8 104.8h1.5v1.5h-1.5zM883.8 104.8h1.5v1.5h-1.5zM850.8 105.8h1.5v1.5h-1.5zM861.8 105.8h1.5v1.5h-1.5zM884.8 105.8h1.5v1.5h-1.5zM751.8 106.8h1.5v1.5h-1.5zM885.8 106.8h1.5v1.5h-1.5zM752.8 107.8h1.5v1.5h-1.5zM875.8 107.8h1.5v1.5h-1.5zM879.8 107.8h1.5v1.5h-1.5zM885.8 107.8h2.5v1.5h-2.5zM754.8 108.8h1.5v1.5h-1.5zM875.8 108.8h1.5v1.5h-1.5zM874.8 109.8h1.5v1.5h-1.5zM882.8 109.8h1.5v1.5h-1.5zM885.8 109.8h1.5v1.5h-1.5zM756.8 110.8h1.5v1.5h-1.5zM871.8 110.8h1.5v1.5h-1.5zM873.8 110.8h1.5v1.5h-1.5zM880.8 110.8h1.5v1.5h-1.5zM882.8 110.8h1.5v1.5h-1.5zM753.8 111.8h1.5v1.5h-1.5zM869.8 111.8h1.5v1.5h-1.5zM882.8 111.8h1.5v1.5h-1.5zM884.8 111.8h2.5v1.5h-2.5zM881.8 112.8h1.5v1.5h-1.5zM883.8 112.8h2.5v1.5h-2.5zM886.8 112.8h1.5v1.5h-1.5zM869.8 113.8h1.5v1.5h-1.5zM880.8 113.8h1.5v1.5h-1.5zM884.8 113.8h3.5v1.5h-3.5zM838.8 114.8h1.5v1.5h-1.5zM874.8 114.8h1.5v1.5h-1.5zM878.8 114.8h1.5v1.5h-1.5zM882.8 114.8h3.5v1.5h-3.5zM867.8 115.8h2.5v1.5h-2.5zM876.8 115.8h1.5v1.5h-1.5zM878.8 115.8h1.5v1.5h-1.5zM883.8 115.8h1.5v1.5h-1.5zM848.8 116.8h1.5v1.5h-1.5zM854.8 116.8h1.5v1.5h-1.5zM868.8 116.8h1.5v1.5h-1.5zM870.8 116.8h1.5v1.5h-1.5zM872.8 116.8h1.5v1.5h-1.5zM881.8 116.8h1.5v1.5h-1.5zM756.8 117.8h1.5v1.5h-1.5zM812.8 117.8h1.5v1.5h-1.5zM863.8 117.8h1.5v1.5h-1.5zM868.8 117.8h5.5v1.5h-5.5zM876.8 117.8h5.5v1.5h-5.5zM856.8 118.8h1.5v1.5h-1.5zM862.8 118.8h1.5v1.5h-1.5zM865.8 118.8h2.5v1.5h-2.5zM875.8 118.8h1.5v1.5h-1.5zM877.8 118.8h1.5v1.5h-1.5zM886.8 118.8h1.5v1.5h-1.5zM788.8 119.8h1.5v1.5h-1.5zM846.8 119.8h1.5v1.5h-1.5zM860.8 119.8h1.5v1.5h-1.5zM863.8 119.8h1.5v1.5h-1.5zM865.8 119.8h1.5v1.5h-1.5zM873.8 119.8h1.5v1.5h-1.5zM886.8 119.8h1.5v1.5h-1.5zM762.8 120.8h1.5v1.5h-1.5zM774.8 120.8h1.5v1.5h-1.5zM854.8 120.8h1.5v1.5h-1.5zM859.8 120.8h1.5v1.5h-1.5zM863.8 120.8h1.5v1.5h-1.5zM865.8 120.8h1.5v1.5h-1.5zM867.8 120.8h1.5v1.5h-1.5zM869.8 120.8h2.5v1.5h-2.5zM760.8 121.8h1.5v1.5h-1.5zM853.8 121.8h1.5v1.5h-1.5zM855.8 121.8h1.5v1.5h-1.5zM859.8 121.8h1.5v1.5h-1.5zM862.8 121.8h2.5v1.5h-2.5zM865.8 121.8h1.5v1.5h-1.5zM867.8 121.8h1.5v1.5h-1.5zM886.8 121.8h1.5v1.5h-1.5zM858.8 122.8h1.5v1.5h-1.5zM860.8 122.8h2.5v1.5h-2.5zM866.8 122.8h1.5v1.5h-1.5zM762.8 123.8h1.5v1.5h-1.5zM856.8 123.8h2.5v1.5h-2.5zM862.8 123.8h1.5v1.5h-1.5zM761.8 124.8h3.5v1.5h-3.5zM843.8 124.8h1.5v1.5h-1.5zM847.8 124.8h1.5v1.5h-1.5zM854.8 124.8h1.5v1.5h-1.5zM859.8 124.8h3.5v1.5h-3.5zM841.8 125.8h1.5v1.5h-1.5zM848.8 125.8h2.5v1.5h-2.5zM852.8 125.8h2.5v1.5h-2.5zM857.8 125.8h2.5v1.5h-2.5zM763.8 126.8h1.5v1.5h-1.5zM765.8 126.8h1.5v1.5h-1.5zM776.8 126.8h1.5v1.5h-1.5zM782.8 126.8h1.5v1.5h-1.5zM816.8 126.8h1.5v1.5h-1.5zM844.8 126.8h3.5v1.5h-3.5zM850.8 126.8h1.5v1.5h-1.5zM852.8 126.8h1.5v1.5h-1.5zM838.8 127.8h1.5v1.5h-1.5zM845.8 127.8h2.5v1.5h-2.5zM848.8 127.8h1.5v1.5h-1.5zM850.8 127.8h1.5v1.5h-1.5zM852.8 127.8h2.5v1.5h-2.5zM885.8 127.8h1.5v1.5h-1.5zM830.8 128.8h1.5v1.5h-1.5zM832.8 128.8h1.5v1.5h-1.5zM835.8 128.8h3.5v1.5h-3.5zM840.8 128.8h1.5v1.5h-1.5zM842.8 128.8h2.5v1.5h-2.5zM845.8 128.8h1.5v1.5h-1.5zM848.8 128.8h3.5v1.5h-3.5zM883.8 128.8h2.5v1.5h-2.5zM767.8 129.8h1.5v1.5h-1.5zM830.8 129.8h1.5v1.5h-1.5zM838.8 129.8h1.5v1.5h-1.5zM840.8 129.8h1.5v1.5h-1.5zM843.8 129.8h3.5v1.5h-3.5zM848.8 129.8h1.5v1.5h-1.5zM880.8 129.8h3.5v1.5h-3.5zM804.8 130.8h1.5v1.5h-1.5zM815.8 130.8h1.5v1.5h-1.5zM837.8 130.8h1.5v1.5h-1.5zM841.8 130.8h4.5v1.5h-4.5zM878.8 130.8h4.5v1.5h-4.5zM883.8 130.8h2.5v1.5h-2.5zM770.8 131.8h1.5v1.5h-1.5zM772.8 131.8h1.5v1.5h-1.5zM813.8 131.8h1.5v1.5h-1.5zM825.8 131.8h1.5v1.5h-1.5zM828.8 131.8h1.5v1.5h-1.5zM833.8 131.8h1.5v1.5h-1.5zM835.8 131.8h1.5v1.5h-1.5zM842.8 131.8h1.5v1.5h-1.5zM875.8 131.8h2.5v1.5h-2.5zM878.8 131.8h1.5v1.5h-1.5zM882.8 131.8h1.5v1.5h-1.5zM773.8 132.8h1.5v1.5h-1.5zM778.8 132.8h1.5v1.5h-1.5zM818.8 132.8h1.5v1.5h-1.5zM830.8 132.8h1.5v1.5h-1.5zM832.8 132.8h1.5v1.5h-1.5zM840.8 132.8h1.5v1.5h-1.5zM873.8 132.8h1.5v1.5h-1.5zM875.8 132.8h1.5v1.5h-1.5zM877.8 132.8h1.5v1.5h-1.5zM884.8 132.8h2.5v1.5h-2.5zM731.8 133.8h1.5v1.5h-1.5zM776.8 133.8h1.5v1.5h-1.5zM778.8 133.8h1.5v1.5h-1.5zM805.8 133.8h1.5v1.5h-1.5zM820.8 133.8h1.5v1.5h-1.5zM825.8 133.8h2.5v1.5h-2.5zM830.8 133.8h1.5v1.5h-1.5zM832.8 133.8h3.5v1.5h-3.5zM836.8 133.8h2.5v1.5h-2.5zM871.8 133.8h2.5v1.5h-2.5zM875.8 133.8h2.5v1.5h-2.5zM880.8 133.8h1.5v1.5h-1.5zM882.8 133.8h1.5v1.5h-1.5zM776.8 134.8h2.5v1.5h-2.5zM782.8 134.8h1.5v1.5h-1.5zM806.8 134.8h1.5v1.5h-1.5zM809.8 134.8h1.5v1.5h-1.5zM818.8 134.8h1.5v1.5h-1.5zM824.8 134.8h1.5v1.5h-1.5zM831.8 134.8h2.5v1.5h-2.5zM834.8 134.8h2.5v1.5h-2.5zM870.8 134.8h3.5v1.5h-3.5zM874.8 134.8h1.5v1.5h-1.5zM877.8 134.8h2.5v1.5h-2.5zM880.8 134.8h1.5v1.5h-1.5zM885.8 134.8h1.5v1.5h-1.5zM776.8 135.8h1.5v1.5h-1.5zM778.8 135.8h1.5v1.5h-1.5zM819.8 135.8h1.5v1.5h-1.5zM822.8 135.8h2.5v1.5h-2.5zM827.8 135.8h1.5v1.5h-1.5zM830.8 135.8h1.5v1.5h-1.5zM832.8 135.8h1.5v1.5h-1.5zM870.8 135.8h4.5v1.5h-4.5zM876.8 135.8h1.5v1.5h-1.5zM780.8 136.8h1.5v1.5h-1.5zM804.8 136.8h1.5v1.5h-1.5zM814.8 136.8h1.5v1.5h-1.5zM820.8 136.8h1.5v1.5h-1.5zM822.8 136.8h1.5v1.5h-1.5zM825.8 136.8h5.5v1.5h-5.5zM867.8 136.8h3.5v1.5h-3.5zM871.8 136.8h1.5v1.5h-1.5zM876.8 136.8h1.5v1.5h-1.5zM878.8 136.8h1.5v1.5h-1.5zM723.8 137.8h1.5v1.5h-1.5zM779.8 137.8h1.5v1.5h-1.5zM782.8 137.8h1.5v1.5h-1.5zM797.8 137.8h1.5v1.5h-1.5zM804.8 137.8h1.5v1.5h-1.5zM809.8 137.8h1.5v1.5h-1.5zM816.8 137.8h3.5v1.5h-3.5zM820.8 137.8h2.5v1.5h-2.5zM823.8 137.8h1.5v1.5h-1.5zM865.8 137.8h3.5v1.5h-3.5zM875.8 137.8h1.5v1.5h-1.5zM783.8 138.8h1.5v1.5h-1.5zM785.8 138.8h1.5v1.5h-1.5zM787.8 138.8h1.5v1.5h-1.5zM804.8 138.8h2.5v1.5h-2.5zM809.8 138.8h1.5v1.5h-1.5zM811.8 138.8h1.5v1.5h-1.5zM813.8 138.8h2.5v1.5h-2.5zM817.8 138.8h1.5v1.5h-1.5zM819.8 138.8h5.5v1.5h-5.5zM864.8 138.8h1.5v1.5h-1.5zM866.8 138.8h2.5v1.5h-2.5zM872.8 138.8h1.5v1.5h-1.5zM875.8 138.8h1.5v1.5h-1.5zM883.8 138.8h1.5v1.5h-1.5zM788.8 139.8h1.5v1.5h-1.5zM796.8 139.8h1.5v1.5h-1.5zM798.8 139.8h1.5v1.5h-1.5zM802.8 139.8h1.5v1.5h-1.5zM810.8 139.8h1.5v1.5h-1.5zM814.8 139.8h1.5v1.5h-1.5zM817.8 139.8h1.5v1.5h-1.5zM819.8 139.8h2.5v1.5h-2.5zM862.8 139.8h2.5v1.5h-2.5zM867.8 139.8h2.5v1.5h-2.5zM876.8 139.8h1.5v1.5h-1.5zM791.8 140.8h1.5v1.5h-1.5zM794.8 140.8h1.5v1.5h-1.5zM797.8 140.8h1.5v1.5h-1.5zM803.8 140.8h1.5v1.5h-1.5zM806.8 140.8h2.5v1.5h-2.5zM809.8 140.8h1.5v1.5h-1.5zM811.8 140.8h1.5v1.5h-1.5zM813.8 140.8h4.5v1.5h-4.5zM862.8 140.8h1.5v1.5h-1.5zM864.8 140.8h1.5v1.5h-1.5zM866.8 140.8h1.5v1.5h-1.5zM869.8 140.8h1.5v1.5h-1.5zM871.8 140.8h1.5v1.5h-1.5zM873.8 140.8h1.5v1.5h-1.5zM879.8 140.8h1.5v1.5h-1.5zM795.8 141.8h1.5v1.5h-1.5zM797.8 141.8h2.5v1.5h-2.5zM802.8 141.8h3.5v1.5h-3.5zM806.8 141.8h2.5v1.5h-2.5zM810.8 141.8h1.5v1.5h-1.5zM859.8 141.8h2.5v1.5h-2.5zM880.8 141.8h1.5v1.5h-1.5zM800.8 142.8h2.5v1.5h-2.5zM803.8 142.8h1.5v1.5h-1.5zM858.8 142.8h1.5v1.5h-1.5zM862.8 142.8h2.5v1.5h-2.5zM856.8 143.8h3.5v1.5h-3.5zM860.8 143.8h1.5v1.5h-1.5zM862.8 143.8h3.5v1.5h-3.5zM867.8 143.8h2.5v1.5h-2.5zM727.8 144.8h1.5v1.5h-1.5zM855.8 144.8h3.5v1.5h-3.5zM860.8 144.8h1.5v1.5h-1.5zM862.8 144.8h1.5v1.5h-1.5zM864.8 144.8h2.5v1.5h-2.5zM867.8 144.8h1.5v1.5h-1.5zM884.8 144.8h1.5v1.5h-1.5zM854.8 145.8h1.5v1.5h-1.5zM856.8 145.8h2.5v1.5h-2.5zM871.8 145.8h1.5v1.5h-1.5zM854.8 146.8h2.5v1.5h-2.5zM857.8 146.8h3.5v1.5h-3.5zM861.8 146.8h1.5v1.5h-1.5zM882.8 146.8h2.5v1.5h-2.5zM852.8 147.8h3.5v1.5h-3.5zM861.8 147.8h1.5v1.5h-1.5zM868.8 147.8h1.5v1.5h-1.5zM871.8 147.8h1.5v1.5h-1.5zM879.8 147.8h1.5v1.5h-1.5zM851.8 148.8h2.5v1.5h-2.5zM862.8 148.8h1.5v1.5h-1.5zM864.8 148.8h1.5v1.5h-1.5zM868.8 148.8h1.5v1.5h-1.5zM879.8 148.8h1.5v1.5h-1.5zM882.8 148.8h1.5v1.5h-1.5zM731.8 149.8h1.5v1.5h-1.5zM850.8 149.8h2.5v1.5h-2.5zM854.8 149.8h1.5v1.5h-1.5zM859.8 149.8h2.5v1.5h-2.5zM862.8 149.8h2.5v1.5h-2.5zM866.8 149.8h1.5v1.5h-1.5zM870.8 149.8h1.5v1.5h-1.5zM873.8 149.8h1.5v1.5h-1.5zM849.8 150.8h3.5v1.5h-3.5zM857.8 150.8h1.5v1.5h-1.5zM869.8 150.8h1.5v1.5h-1.5zM731.8 151.8h1.5v1.5h-1.5zM849.8 151.8h3.5v1.5h-3.5zM854.8 151.8h1.5v1.5h-1.5zM858.8 151.8h2.5v1.5h-2.5zM863.8 151.8h1.5v1.5h-1.5zM847.8 152.8h1.5v1.5h-1.5zM849.8 152.8h2.5v1.5h-2.5zM854.8 152.8h2.5v1.5h-2.5zM857.8 152.8h1.5v1.5h-1.5zM868.8 152.8h1.5v1.5h-1.5zM731.8 153.8h1.5v1.5h-1.5zM847.8 153.8h2.5v1.5h-2.5zM860.8 153.8h1.5v1.5h-1.5zM863.8 153.8h1.5v1.5h-1.5zM730.8 154.8h1.5v1.5h-1.5zM845.8 154.8h1.5v1.5h-1.5zM851.8 154.8h1.5v1.5h-1.5zM855.8 154.8h1.5v1.5h-1.5zM861.8 154.8h1.5v1.5h-1.5zM865.8 154.8h1.5v1.5h-1.5zM730.8 155.8h1.5v1.5h-1.5zM844.8 155.8h1.5v1.5h-1.5zM847.8 155.8h1.5v1.5h-1.5zM849.8 155.8h1.5v1.5h-1.5zM851.8 155.8h1.5v1.5h-1.5zM855.8 155.8h1.5v1.5h-1.5zM861.8 155.8h1.5v1.5h-1.5zM863.8 155.8h1.5v1.5h-1.5zM848.8 156.8h1.5v1.5h-1.5zM850.8 156.8h2.5v1.5h-2.5zM862.8 156.8h1.5v1.5h-1.5zM867.8 156.8h1.5v1.5h-1.5zM869.8 156.8h1.5v1.5h-1.5zM847.8 157.8h1.5v1.5h-1.5zM851.8 157.8h1.5v1.5h-1.5zM858.8 157.8h1.5v1.5h-1.5zM862.8 157.8h1.5v1.5h-1.5zM864.8 157.8h1.5v1.5h-1.5zM730.8 158.8h1.5v1.5h-1.5zM847.8 158.8h1.5v1.5h-1.5zM857.8 158.8h2.5v1.5h-2.5zM860.8 158.8h1.5v1.5h-1.5zM863.8 158.8h1.5v1.5h-1.5zM730.8 159.8h1.5v1.5h-1.5zM842.8 159.8h1.5v1.5h-1.5zM844.8 159.8h1.5v1.5h-1.5zM847.8 159.8h1.5v1.5h-1.5zM860.8 159.8h1.5v1.5h-1.5zM865.8 159.8h1.5v1.5h-1.5zM841.8 160.8h2.5v1.5h-2.5zM844.8 160.8h2.5v1.5h-2.5zM851.8 160.8h1.5v1.5h-1.5zM864.8 160.8h1.5v1.5h-1.5zM840.8 161.8h2.5v1.5h-2.5zM849.8 161.8h1.5v1.5h-1.5zM851.8 161.8h1.5v1.5h-1.5zM863.8 161.8h1.5v1.5h-1.5zM841.8 162.8h1.5v1.5h-1.5zM852.8 162.8h1.5v1.5h-1.5zM858.8 162.8h1.5v1.5h-1.5zM861.8 162.8h1.5v1.5h-1.5zM864.8 162.8h1.5v1.5h-1.5zM841.8 163.8h2.5v1.5h-2.5zM845.8 163.8h1.5v1.5h-1.5zM857.8 163.8h1.5v1.5h-1.5zM865.8 163.8h1.5v1.5h-1.5zM839.8 164.8h3.5v1.5h-3.5zM848.8 164.8h1.5v1.5h-1.5zM851.8 164.8h1.5v1.5h-1.5zM853.8 164.8h2.5v1.5h-2.5zM856.8 164.8h2.5v1.5h-2.5zM862.8 164.8h1.5v1.5h-1.5zM879.8 164.8h1.5v1.5h-1.5zM839.8 165.8h1.5v1.5h-1.5zM844.8 165.8h2.5v1.5h-2.5zM856.8 165.8h1.5v1.5h-1.5zM728.8 166.8h1.5v1.5h-1.5zM837.8 166.8h1.5v1.5h-1.5zM856.8 166.8h1.5v1.5h-1.5zM839.8 167.8h1.5v1.5h-1.5zM841.8 167.8h2.5v1.5h-2.5zM848.8 167.8h1.5v1.5h-1.5zM851.8 167.8h1.5v1.5h-1.5zM854.8 167.8h2.5v1.5h-2.5zM730.8 168.8h1.5v1.5h-1.5zM837.8 168.8h2.5v1.5h-2.5zM842.8 168.8h2.5v1.5h-2.5zM858.8 168.8h1.5v1.5h-1.5zM730.8 169.8h1.5v1.5h-1.5zM836.8 169.8h1.5v1.5h-1.5zM838.8 169.8h1.5v1.5h-1.5zM840.8 169.8h1.5v1.5h-1.5zM845.8 169.8h1.5v1.5h-1.5zM854.8 169.8h1.5v1.5h-1.5zM835.8 170.8h4.5v1.5h-4.5zM840.8 170.8h1.5v1.5h-1.5zM858.8 170.8h1.5v1.5h-1.5zM729.8 171.8h1.5v1.5h-1.5zM835.8 171.8h1.5v1.5h-1.5zM840.8 171.8h1.5v1.5h-1.5zM845.8 171.8h2.5v1.5h-2.5zM855.8 171.8h1.5v1.5h-1.5zM730.8 172.8h1.5v1.5h-1.5zM834.8 172.8h1.5v1.5h-1.5zM838.8 172.8h1.5v1.5h-1.5zM852.8 172.8h2.5v1.5h-2.5zM857.8 172.8h1.5v1.5h-1.5zM838.8 173.8h1.5v1.5h-1.5zM859.8 173.8h1.5v1.5h-1.5zM833.8 174.8h2.5v1.5h-2.5zM837.8 174.8h2.5v1.5h-2.5zM730.8 175.8h1.5v1.5h-1.5zM833.8 175.8h1.5v1.5h-1.5zM835.8 175.8h2.5v1.5h-2.5zM848.8 175.8h1.5v1.5h-1.5zM858.8 175.8h1.5v1.5h-1.5zM860.8 175.8h1.5v1.5h-1.5zM832.8 176.8h1.5v1.5h-1.5zM840.8 176.8h2.5v1.5h-2.5zM850.8 176.8h1.5v1.5h-1.5zM836.8 177.8h1.5v1.5h-1.5zM838.8 177.8h1.5v1.5h-1.5zM841.8 177.8h1.5v1.5h-1.5zM851.8 177.8h1.5v1.5h-1.5zM859.8 177.8h1.5v1.5h-1.5zM831.8 178.8h3.5v1.5h-3.5zM848.8 178.8h1.5v1.5h-1.5zM850.8 178.8h2.5v1.5h-2.5zM854.8 178.8h1.5v1.5h-1.5zM857.8 178.8h1.5v1.5h-1.5zM842.8 179.8h1.5v1.5h-1.5zM846.8 179.8h3.5v1.5h-3.5zM727.8 180.8h1.5v1.5h-1.5zM830.8 180.8h1.5v1.5h-1.5zM833.8 180.8h1.5v1.5h-1.5zM837.8 180.8h1.5v1.5h-1.5zM840.8 180.8h1.5v1.5h-1.5zM848.8 180.8h1.5v1.5h-1.5zM853.8 180.8h1.5v1.5h-1.5zM830.8 181.8h1.5v1.5h-1.5zM832.8 181.8h1.5v1.5h-1.5zM849.8 181.8h1.5v1.5h-1.5zM855.8 181.8h1.5v1.5h-1.5zM832.8 182.8h1.5v1.5h-1.5zM842.8 182.8h1.5v1.5h-1.5zM850.8 182.8h1.5v1.5h-1.5zM830.8 183.8h2.5v1.5h-2.5zM852.8 183.8h1.5v1.5h-1.5zM854.8 183.8h1.5v1.5h-1.5zM829.8 184.8h1.5v1.5h-1.5zM832.8 184.8h3.5v1.5h-3.5zM836.8 184.8h1.5v1.5h-1.5zM839.8 184.8h1.5v1.5h-1.5zM844.8 184.8h1.5v1.5h-1.5zM850.8 184.8h1.5v1.5h-1.5zM852.8 184.8h1.5v1.5h-1.5zM835.8 185.8h1.5v1.5h-1.5zM843.8 185.8h1.5v1.5h-1.5zM829.8 186.8h1.5v1.5h-1.5zM832.8 186.8h1.5v1.5h-1.5zM852.8 186.8h1.5v1.5h-1.5zM855.8 186.8h1.5v1.5h-1.5zM729.8 187.8h1.5v1.5h-1.5zM831.8 187.8h1.5v1.5h-1.5zM842.8 187.8h1.5v1.5h-1.5zM854.8 187.8h1.5v1.5h-1.5zM827.8 188.8h2.5v1.5h-2.5zM830.8 188.8h1.5v1.5h-1.5zM836.8 188.8h1.5v1.5h-1.5zM847.8 188.8h1.5v1.5h-1.5zM849.8 188.8h1.5v1.5h-1.5zM826.8 189.8h3.5v1.5h-3.5zM842.8 189.8h1.5v1.5h-1.5zM826.8 190.8h1.5v1.5h-1.5zM833.8 190.8h1.5v1.5h-1.5zM839.8 190.8h1.5v1.5h-1.5zM845.8 190.8h1.5v1.5h-1.5zM850.8 190.8h1.5v1.5h-1.5zM729.8 191.8h1.5v1.5h-1.5zM825.8 191.8h3.5v1.5h-3.5zM849.8 191.8h1.5v1.5h-1.5zM824.8 192.8h1.5v1.5h-1.5zM826.8 192.8h1.5v1.5h-1.5zM828.8 192.8h1.5v1.5h-1.5zM840.8 192.8h1.5v1.5h-1.5zM842.8 192.8h1.5v1.5h-1.5zM827.8 193.8h1.5v1.5h-1.5zM833.8 193.8h4.5v1.5h-4.5zM842.8 193.8h1.5v1.5h-1.5zM728.8 194.8h1.5v1.5h-1.5zM824.8 194.8h3.5v1.5h-3.5zM830.8 194.8h1.5v1.5h-1.5zM834.8 194.8h2.5v1.5h-2.5zM837.8 194.8h2.5v1.5h-2.5zM841.8 194.8h2.5v1.5h-2.5zM850.8 194.8h1.5v1.5h-1.5zM829.8 195.8h1.5v1.5h-1.5zM837.8 195.8h1.5v1.5h-1.5zM839.8 195.8h1.5v1.5h-1.5zM847.8 195.8h1.5v1.5h-1.5zM850.8 195.8h1.5v1.5h-1.5zM729.8 196.8h1.5v1.5h-1.5zM821.8 196.8h1.5v1.5h-1.5zM823.8 196.8h1.5v1.5h-1.5zM827.8 196.8h1.5v1.5h-1.5zM830.8 196.8h2.5v1.5h-2.5zM833.8 196.8h1.5v1.5h-1.5zM846.8 196.8h1.5v1.5h-1.5zM850.8 196.8h1.5v1.5h-1.5zM822.8 197.8h3.5v1.5h-3.5zM831.8 197.8h1.5v1.5h-1.5zM833.8 197.8h1.5v1.5h-1.5zM842.8 197.8h1.5v1.5h-1.5zM845.8 197.8h1.5v1.5h-1.5zM819.8 198.8h2.5v1.5h-2.5zM823.8 198.8h2.5v1.5h-2.5zM831.8 198.8h1.5v1.5h-1.5zM839.8 198.8h1.5v1.5h-1.5zM843.8 198.8h2.5v1.5h-2.5zM721.8 199.8h1.5v1.5h-1.5zM821.8 199.8h1.5v1.5h-1.5zM823.8 199.8h1.5v1.5h-1.5zM825.8 199.8h1.5v1.5h-1.5zM827.8 199.8h2.5v1.5h-2.5zM830.8 199.8h1.5v1.5h-1.5zM837.8 199.8h2.5v1.5h-2.5zM820.8 200.8h1.5v1.5h-1.5zM830.8 200.8h2.5v1.5h-2.5zM834.8 200.8h1.5v1.5h-1.5zM818.8 201.8h1.5v1.5h-1.5zM820.8 201.8h1.5v1.5h-1.5zM822.8 201.8h1.5v1.5h-1.5zM827.8 201.8h2.5v1.5h-2.5zM831.8 201.8h1.5v1.5h-1.5zM834.8 201.8h1.5v1.5h-1.5zM842.8 201.8h1.5v1.5h-1.5zM844.8 201.8h1.5v1.5h-1.5zM818.8 202.8h1.5v1.5h-1.5zM824.8 202.8h1.5v1.5h-1.5zM828.8 202.8h1.5v1.5h-1.5zM830.8 202.8h1.5v1.5h-1.5zM844.8 202.8h1.5v1.5h-1.5zM816.8 203.8h1.5v1.5h-1.5zM818.8 203.8h2.5v1.5h-2.5zM823.8 203.8h1.5v1.5h-1.5zM826.8 203.8h1.5v1.5h-1.5zM833.8 203.8h1.5v1.5h-1.5zM839.8 203.8h1.5v1.5h-1.5zM842.8 203.8h1.5v1.5h-1.5zM815.8 204.8h1.5v1.5h-1.5zM820.8 204.8h1.5v1.5h-1.5zM822.8 204.8h1.5v1.5h-1.5zM828.8 204.8h1.5v1.5h-1.5zM833.8 204.8h1.5v1.5h-1.5zM835.8 204.8h1.5v1.5h-1.5zM838.8 204.8h1.5v1.5h-1.5zM846.8 204.8h1.5v1.5h-1.5zM723.8 205.8h1.5v1.5h-1.5zM814.8 205.8h1.5v1.5h-1.5zM823.8 205.8h1.5v1.5h-1.5zM826.8 205.8h1.5v1.5h-1.5zM845.8 205.8h1.5v1.5h-1.5zM814.8 206.8h1.5v1.5h-1.5zM816.8 206.8h1.5v1.5h-1.5zM827.8 206.8h1.5v1.5h-1.5zM829.8 206.8h1.5v1.5h-1.5zM832.8 206.8h1.5v1.5h-1.5zM814.8 207.8h1.5v1.5h-1.5zM823.8 207.8h1.5v1.5h-1.5zM826.8 207.8h1.5v1.5h-1.5zM831.8 207.8h1.5v1.5h-1.5zM836.8 207.8h1.5v1.5h-1.5zM839.8 207.8h1.5v1.5h-1.5zM812.8 208.8h1.5v1.5h-1.5zM814.8 208.8h2.5v1.5h-2.5zM826.8 208.8h1.5v1.5h-1.5zM832.8 208.8h1.5v1.5h-1.5zM839.8 208.8h1.5v1.5h-1.5zM812.8 209.8h1.5v1.5h-1.5zM815.8 209.8h1.5v1.5h-1.5zM817.8 209.8h1.5v1.5h-1.5zM819.8 209.8h1.5v1.5h-1.5zM822.8 209.8h1.5v1.5h-1.5zM841.8 209.8h1.5v1.5h-1.5zM810.8 210.8h2.5v1.5h-2.5zM813.8 210.8h1.5v1.5h-1.5zM820.8 210.8h1.5v1.5h-1.5zM822.8 210.8h1.5v1.5h-1.5zM827.8 210.8h1.5v1.5h-1.5zM831.8 210.8h1.5v1.5h-1.5zM835.8 210.8h1.5v1.5h-1.5zM811.8 211.8h1.5v1.5h-1.5zM813.8 211.8h1.5v1.5h-1.5zM816.8 211.8h2.5v1.5h-2.5zM823.8 211.8h1.5v1.5h-1.5zM828.8 211.8h1.5v1.5h-1.5zM833.8 211.8h1.5v1.5h-1.5zM726.8 212.8h1.5v1.5h-1.5zM810.8 212.8h2.5v1.5h-2.5zM816.8 212.8h2.5v1.5h-2.5zM824.8 212.8h1.5v1.5h-1.5zM828.8 212.8h1.5v1.5h-1.5zM809.8 213.8h3.5v1.5h-3.5zM817.8 213.8h1.5v1.5h-1.5zM826.8 213.8h1.5v1.5h-1.5zM835.8 213.8h1.5v1.5h-1.5zM840.8 213.8h1.5v1.5h-1.5zM807.8 214.8h3.5v1.5h-3.5zM812.8 214.8h1.5v1.5h-1.5zM816.8 214.8h1.5v1.5h-1.5zM818.8 214.8h1.5v1.5h-1.5zM820.8 214.8h1.5v1.5h-1.5zM826.8 214.8h1.5v1.5h-1.5zM828.8 214.8h2.5v1.5h-2.5zM808.8 215.8h2.5v1.5h-2.5zM811.8 215.8h1.5v1.5h-1.5zM813.8 215.8h1.5v1.5h-1.5zM815.8 215.8h1.5v1.5h-1.5zM824.8 215.8h3.5v1.5h-3.5zM829.8 215.8h2.5v1.5h-2.5zM835.8 215.8h1.5v1.5h-1.5zM728.8 216.8h1.5v1.5h-1.5zM806.8 216.8h1.5v1.5h-1.5zM812.8 216.8h1.5v1.5h-1.5zM814.8 216.8h1.5v1.5h-1.5zM816.8 216.8h1.5v1.5h-1.5zM824.8 216.8h2.5v1.5h-2.5zM831.8 216.8h1.5v1.5h-1.5zM728.8 217.8h1.5v1.5h-1.5zM805.8 217.8h1.5v1.5h-1.5zM807.8 217.8h1.5v1.5h-1.5zM809.8 217.8h1.5v1.5h-1.5zM828.8 217.8h1.5v1.5h-1.5zM833.8 217.8h1.5v1.5h-1.5zM836.8 217.8h2.5v1.5h-2.5zM839.8 217.8h1.5v1.5h-1.5zM804.8 218.8h1.5v1.5h-1.5zM808.8 218.8h1.5v1.5h-1.5zM810.8 218.8h1.5v1.5h-1.5zM816.8 218.8h2.5v1.5h-2.5zM821.8 218.8h1.5v1.5h-1.5zM828.8 218.8h1.5v1.5h-1.5zM838.8 218.8h1.5v1.5h-1.5zM841.8 218.8h1.5v1.5h-1.5zM804.8 219.8h2.5v1.5h-2.5zM809.8 219.8h1.5v1.5h-1.5zM814.8 219.8h1.5v1.5h-1.5zM817.8 219.8h1.5v1.5h-1.5zM819.8 219.8h1.5v1.5h-1.5zM827.8 219.8h1.5v1.5h-1.5zM830.8 219.8h1.5v1.5h-1.5zM833.8 219.8h1.5v1.5h-1.5zM836.8 219.8h1.5v1.5h-1.5zM805.8 220.8h1.5v1.5h-1.5zM807.8 220.8h1.5v1.5h-1.5zM810.8 220.8h1.5v1.5h-1.5zM821.8 220.8h1.5v1.5h-1.5zM802.8 221.8h2.5v1.5h-2.5zM806.8 221.8h2.5v1.5h-2.5zM809.8 221.8h3.5v1.5h-3.5zM813.8 221.8h1.5v1.5h-1.5zM818.8 221.8h1.5v1.5h-1.5zM822.8 221.8h1.5v1.5h-1.5zM835.8 221.8h1.5v1.5h-1.5zM801.8 222.8h1.5v1.5h-1.5zM804.8 222.8h1.5v1.5h-1.5zM812.8 222.8h1.5v1.5h-1.5zM814.8 222.8h1.5v1.5h-1.5zM821.8 222.8h1.5v1.5h-1.5zM828.8 222.8h1.5v1.5h-1.5zM802.8 223.8h1.5v1.5h-1.5zM807.8 223.8h3.5v1.5h-3.5zM816.8 223.8h1.5v1.5h-1.5zM832.8 223.8h2.5v1.5h-2.5zM838.8 223.8h1.5v1.5h-1.5zM812.8 224.8h1.5v1.5h-1.5zM818.8 224.8h2.5v1.5h-2.5zM826.8 224.8h1.5v1.5h-1.5zM728.8 225.8h1.5v1.5h-1.5zM799.8 225.8h1.5v1.5h-1.5zM801.8 225.8h1.5v1.5h-1.5zM803.8 225.8h1.5v1.5h-1.5zM805.8 225.8h2.5v1.5h-2.5zM808.8 225.8h1.5v1.5h-1.5zM816.8 225.8h1.5v1.5h-1.5zM828.8 225.8h1.5v1.5h-1.5zM833.8 225.8h1.5v1.5h-1.5zM798.8 226.8h2.5v1.5h-2.5zM801.8 226.8h3.5v1.5h-3.5zM809.8 226.8h1.5v1.5h-1.5zM817.8 226.8h1.5v1.5h-1.5zM826.8 226.8h1.5v1.5h-1.5zM798.8 227.8h2.5v1.5h-2.5zM808.8 227.8h1.5v1.5h-1.5zM816.8 227.8h1.5v1.5h-1.5zM797.8 228.8h1.5v1.5h-1.5zM802.8 228.8h1.5v1.5h-1.5zM804.8 228.8h1.5v1.5h-1.5zM797.8 229.8h3.5v1.5h-3.5zM811.8 229.8h1.5v1.5h-1.5zM814.8 229.8h1.5v1.5h-1.5zM818.8 229.8h1.5v1.5h-1.5zM824.8 229.8h1.5v1.5h-1.5zM833.8 229.8h1.5v1.5h-1.5zM728.8 230.8h1.5v1.5h-1.5zM795.8 230.8h1.5v1.5h-1.5zM798.8 230.8h1.5v1.5h-1.5zM801.8 230.8h1.5v1.5h-1.5zM803.8 230.8h1.5v1.5h-1.5zM811.8 230.8h1.5v1.5h-1.5zM816.8 230.8h1.5v1.5h-1.5zM821.8 230.8h1.5v1.5h-1.5zM825.8 230.8h1.5v1.5h-1.5zM795.8 231.8h1.5v1.5h-1.5zM799.8 231.8h1.5v1.5h-1.5zM802.8 231.8h1.5v1.5h-1.5zM807.8 231.8h1.5v1.5h-1.5zM810.8 231.8h1.5v1.5h-1.5zM828.8 231.8h1.5v1.5h-1.5zM834.8 231.8h1.5v1.5h-1.5zM728.8 232.8h1.5v1.5h-1.5zM796.8 232.8h2.5v1.5h-2.5zM800.8 232.8h1.5v1.5h-1.5zM802.8 232.8h1.5v1.5h-1.5zM805.8 232.8h1.5v1.5h-1.5zM807.8 232.8h1.5v1.5h-1.5zM793.8 233.8h2.5v1.5h-2.5zM796.8 233.8h1.5v1.5h-1.5zM798.8 233.8h1.5v1.5h-1.5zM800.8 233.8h2.5v1.5h-2.5zM807.8 233.8h1.5v1.5h-1.5zM814.8 233.8h1.5v1.5h-1.5zM821.8 233.8h1.5v1.5h-1.5zM823.8 233.8h1.5v1.5h-1.5zM826.8 233.8h1.5v1.5h-1.5zM831.8 233.8h1.5v1.5h-1.5zM834.8 233.8h1.5v1.5h-1.5zM792.8 234.8h1.5v1.5h-1.5zM794.8 234.8h1.5v1.5h-1.5zM799.8 234.8h1.5v1.5h-1.5zM816.8 234.8h1.5v1.5h-1.5zM728.8 235.8h1.5v1.5h-1.5zM794.8 235.8h2.5v1.5h-2.5zM799.8 235.8h2.5v1.5h-2.5zM816.8 235.8h1.5v1.5h-1.5zM819.8 235.8h2.5v1.5h-2.5zM822.8 235.8h1.5v1.5h-1.5zM791.8 236.8h2.5v1.5h-2.5zM794.8 236.8h1.5v1.5h-1.5zM797.8 236.8h1.5v1.5h-1.5zM802.8 236.8h1.5v1.5h-1.5zM806.8 236.8h1.5v1.5h-1.5zM811.8 236.8h2.5v1.5h-2.5zM818.8 236.8h1.5v1.5h-1.5zM821.8 236.8h1.5v1.5h-1.5zM827.8 236.8h2.5v1.5h-2.5zM790.8 237.8h1.5v1.5h-1.5zM797.8 237.8h1.5v1.5h-1.5zM799.8 237.8h1.5v1.5h-1.5zM805.8 237.8h2.5v1.5h-2.5zM827.8 237.8h1.5v1.5h-1.5zM790.8 238.8h2.5v1.5h-2.5zM802.8 238.8h1.5v1.5h-1.5zM809.8 238.8h1.5v1.5h-1.5zM820.8 238.8h2.5v1.5h-2.5zM789.8 239.8h2.5v1.5h-2.5zM793.8 239.8h1.5v1.5h-1.5zM798.8 239.8h2.5v1.5h-2.5zM808.8 239.8h1.5v1.5h-1.5zM788.8 240.8h4.5v1.5h-4.5zM793.8 240.8h1.5v1.5h-1.5zM796.8 240.8h1.5v1.5h-1.5zM787.8 241.8h1.5v1.5h-1.5zM789.8 241.8h1.5v1.5h-1.5zM791.8 241.8h1.5v1.5h-1.5zM794.8 241.8h1.5v1.5h-1.5zM800.8 241.8h1.5v1.5h-1.5zM802.8 241.8h2.5v1.5h-2.5zM808.8 241.8h1.5v1.5h-1.5zM789.8 242.8h2.5v1.5h-2.5zM792.8 242.8h1.5v1.5h-1.5zM794.8 242.8h1.5v1.5h-1.5zM804.8 242.8h2.5v1.5h-2.5zM818.8 242.8h1.5v1.5h-1.5zM826.8 242.8h1.5v1.5h-1.5zM787.8 243.8h3.5v1.5h-3.5zM792.8 243.8h1.5v1.5h-1.5zM796.8 243.8h1.5v1.5h-1.5zM800.8 243.8h2.5v1.5h-2.5zM823.8 243.8h1.5v1.5h-1.5zM786.8 244.8h2.5v1.5h-2.5zM793.8 244.8h2.5v1.5h-2.5zM808.8 244.8h1.5v1.5h-1.5zM824.8 244.8h1.5v1.5h-1.5zM784.8 245.8h1.5v1.5h-1.5zM787.8 245.8h1.5v1.5h-1.5zM792.8 245.8h1.5v1.5h-1.5zM795.8 245.8h1.5v1.5h-1.5zM805.8 245.8h1.5v1.5h-1.5zM807.8 245.8h1.5v1.5h-1.5zM817.8 245.8h1.5v1.5h-1.5zM725.8 246.8h1.5v1.5h-1.5zM784.8 246.8h1.5v1.5h-1.5zM788.8 246.8h1.5v1.5h-1.5zM794.8 246.8h1.5v1.5h-1.5zM810.8 246.8h1.5v1.5h-1.5zM817.8 246.8h1.5v1.5h-1.5zM820.8 246.8h1.5v1.5h-1.5zM782.8 247.8h2.5v1.5h-2.5zM791.8 247.8h1.5v1.5h-1.5zM794.8 247.8h1.5v1.5h-1.5zM796.8 247.8h1.5v1.5h-1.5zM800.8 247.8h1.5v1.5h-1.5zM810.8 247.8h1.5v1.5h-1.5zM821.8 247.8h1.5v1.5h-1.5zM727.8 248.8h1.5v1.5h-1.5zM781.8 248.8h1.5v1.5h-1.5zM786.8 248.8h1.5v1.5h-1.5zM799.8 248.8h1.5v1.5h-1.5zM804.8 248.8h1.5v1.5h-1.5zM812.8 248.8h1.5v1.5h-1.5zM780.8 249.8h2.5v1.5h-2.5zM794.8 249.8h1.5v1.5h-1.5zM806.8 249.8h2.5v1.5h-2.5zM812.8 249.8h1.5v1.5h-1.5zM779.8 250.8h2.5v1.5h-2.5zM782.8 250.8h2.5v1.5h-2.5zM792.8 250.8h1.5v1.5h-1.5zM795.8 250.8h1.5v1.5h-1.5zM798.8 250.8h1.5v1.5h-1.5zM813.8 250.8h1.5v1.5h-1.5zM779.8 251.8h2.5v1.5h-2.5zM783.8 251.8h1.5v1.5h-1.5zM788.8 251.8h1.5v1.5h-1.5zM790.8 251.8h3.5v1.5h-3.5zM795.8 251.8h1.5v1.5h-1.5zM798.8 251.8h1.5v1.5h-1.5zM801.8 251.8h1.5v1.5h-1.5zM803.8 251.8h1.5v1.5h-1.5zM814.8 251.8h1.5v1.5h-1.5zM778.8 252.8h1.5v1.5h-1.5zM781.8 252.8h1.5v1.5h-1.5zM783.8 252.8h1.5v1.5h-1.5zM789.8 252.8h1.5v1.5h-1.5zM792.8 252.8h1.5v1.5h-1.5zM795.8 252.8h1.5v1.5h-1.5zM810.8 252.8h1.5v1.5h-1.5zM816.8 252.8h1.5v1.5h-1.5zM777.8 253.8h2.5v1.5h-2.5zM780.8 253.8h1.5v1.5h-1.5zM785.8 253.8h1.5v1.5h-1.5zM795.8 253.8h1.5v1.5h-1.5zM780.8 254.8h1.5v1.5h-1.5zM782.8 254.8h1.5v1.5h-1.5zM784.8 254.8h1.5v1.5h-1.5zM786.8 254.8h1.5v1.5h-1.5zM795.8 254.8h1.5v1.5h-1.5zM802.8 254.8h1.5v1.5h-1.5zM808.8 254.8h1.5v1.5h-1.5zM814.8 254.8h1.5v1.5h-1.5zM816.8 254.8h1.5v1.5h-1.5zM727.8 255.8h1.5v1.5h-1.5zM776.8 255.8h1.5v1.5h-1.5zM780.8 255.8h2.5v1.5h-2.5zM792.8 255.8h1.5v1.5h-1.5zM795.8 255.8h1.5v1.5h-1.5zM797.8 255.8h2.5v1.5h-2.5zM800.8 255.8h1.5v1.5h-1.5zM804.8 255.8h3.5v1.5h-3.5zM809.8 255.8h1.5v1.5h-1.5zM817.8 255.8h1.5v1.5h-1.5zM776.8 256.8h4.5v1.5h-4.5zM782.8 256.8h1.5v1.5h-1.5zM786.8 256.8h1.5v1.5h-1.5zM790.8 256.8h1.5v1.5h-1.5zM793.8 256.8h1.5v1.5h-1.5zM797.8 256.8h1.5v1.5h-1.5zM799.8 256.8h1.5v1.5h-1.5zM803.8 256.8h1.5v1.5h-1.5zM809.8 256.8h1.5v1.5h-1.5zM815.8 256.8h1.5v1.5h-1.5zM773.8 257.8h3.5v1.5h-3.5zM778.8 257.8h2.5v1.5h-2.5zM781.8 257.8h1.5v1.5h-1.5zM787.8 257.8h2.5v1.5h-2.5zM790.8 257.8h1.5v1.5h-1.5zM793.8 257.8h2.5v1.5h-2.5zM797.8 257.8h1.5v1.5h-1.5zM803.8 257.8h1.5v1.5h-1.5zM808.8 257.8h1.5v1.5h-1.5zM815.8 257.8h1.5v1.5h-1.5zM774.8 258.8h2.5v1.5h-2.5zM777.8 258.8h1.5v1.5h-1.5zM782.8 258.8h1.5v1.5h-1.5zM784.8 258.8h1.5v1.5h-1.5zM796.8 258.8h1.5v1.5h-1.5zM801.8 258.8h2.5v1.5h-2.5zM804.8 258.8h1.5v1.5h-1.5zM809.8 258.8h2.5v1.5h-2.5zM772.8 259.8h1.5v1.5h-1.5zM774.8 259.8h2.5v1.5h-2.5zM777.8 259.8h1.5v1.5h-1.5zM779.8 259.8h1.5v1.5h-1.5zM786.8 259.8h1.5v1.5h-1.5zM788.8 259.8h2.5v1.5h-2.5zM791.8 259.8h1.5v1.5h-1.5zM794.8 259.8h2.5v1.5h-2.5zM797.8 259.8h1.5v1.5h-1.5zM801.8 259.8h4.5v1.5h-4.5zM811.8 259.8h1.5v1.5h-1.5zM817.8 259.8h1.5v1.5h-1.5zM771.8 260.8h2.5v1.5h-2.5zM774.8 260.8h2.5v1.5h-2.5zM784.8 260.8h1.5v1.5h-1.5zM790.8 260.8h1.5v1.5h-1.5zM800.8 260.8h1.5v1.5h-1.5zM803.8 260.8h1.5v1.5h-1.5zM811.8 260.8h1.5v1.5h-1.5zM813.8 260.8h1.5v1.5h-1.5zM827.8 260.8h1.5v1.5h-1.5zM771.8 261.8h4.5v1.5h-4.5zM776.8 261.8h1.5v1.5h-1.5zM787.8 261.8h1.5v1.5h-1.5zM793.8 261.8h1.5v1.5h-1.5zM797.8 261.8h1.5v1.5h-1.5zM800.8 261.8h3.5v1.5h-3.5zM804.8 261.8h1.5v1.5h-1.5zM809.8 261.8h1.5v1.5h-1.5zM771.8 262.8h2.5v1.5h-2.5zM780.8 262.8h1.5v1.5h-1.5zM784.8 262.8h2.5v1.5h-2.5zM787.8 262.8h1.5v1.5h-1.5zM793.8 262.8h1.5v1.5h-1.5zM795.8 262.8h1.5v1.5h-1.5zM798.8 262.8h1.5v1.5h-1.5zM807.8 262.8h1.5v1.5h-1.5zM810.8 262.8h1.5v1.5h-1.5zM814.8 262.8h1.5v1.5h-1.5zM721.8 263.8h1.5v1.5h-1.5zM769.8 263.8h3.5v1.5h-3.5zM773.8 263.8h1.5v1.5h-1.5zM775.8 263.8h1.5v1.5h-1.5zM780.8 263.8h1.5v1.5h-1.5zM783.8 263.8h2.5v1.5h-2.5zM786.8 263.8h2.5v1.5h-2.5zM791.8 263.8h1.5v1.5h-1.5zM795.8 263.8h1.5v1.5h-1.5zM799.8 263.8h3.5v1.5h-3.5zM804.8 263.8h1.5v1.5h-1.5zM811.8 263.8h1.5v1.5h-1.5zM719.8 264.8h1.5v1.5h-1.5zM767.8 264.8h1.5v1.5h-1.5zM769.8 264.8h2.5v1.5h-2.5zM778.8 264.8h1.5v1.5h-1.5zM781.8 264.8h1.5v1.5h-1.5zM783.8 264.8h1.5v1.5h-1.5zM788.8 264.8h1.5v1.5h-1.5zM792.8 264.8h2.5v1.5h-2.5zM797.8 264.8h1.5v1.5h-1.5zM799.8 264.8h1.5v1.5h-1.5zM803.8 264.8h1.5v1.5h-1.5zM815.8 264.8h1.5v1.5h-1.5zM817.8 264.8h1.5v1.5h-1.5zM819.8 264.8h1.5v1.5h-1.5zM766.8 265.8h2.5v1.5h-2.5zM770.8 265.8h1.5v1.5h-1.5zM777.8 265.8h1.5v1.5h-1.5zM782.8 265.8h1.5v1.5h-1.5zM791.8 265.8h2.5v1.5h-2.5zM795.8 265.8h3.5v1.5h-3.5zM801.8 265.8h1.5v1.5h-1.5zM803.8 265.8h1.5v1.5h-1.5zM767.8 266.8h1.5v1.5h-1.5zM769.8 266.8h1.5v1.5h-1.5zM772.8 266.8h1.5v1.5h-1.5zM776.8 266.8h1.5v1.5h-1.5zM779.8 266.8h1.5v1.5h-1.5zM782.8 266.8h3.5v1.5h-3.5zM787.8 266.8h1.5v1.5h-1.5zM790.8 266.8h1.5v1.5h-1.5zM792.8 266.8h2.5v1.5h-2.5zM797.8 266.8h1.5v1.5h-1.5zM799.8 266.8h1.5v1.5h-1.5zM802.8 266.8h1.5v1.5h-1.5zM806.8 266.8h1.5v1.5h-1.5zM810.8 266.8h1.5v1.5h-1.5zM814.8 266.8h1.5v1.5h-1.5zM817.8 266.8h1.5v1.5h-1.5zM722.8 267.8h1.5v1.5h-1.5zM764.8 267.8h3.5v1.5h-3.5zM768.8 267.8h1.5v1.5h-1.5zM770.8 267.8h1.5v1.5h-1.5zM773.8 267.8h1.5v1.5h-1.5zM775.8 267.8h2.5v1.5h-2.5zM779.8 267.8h1.5v1.5h-1.5zM784.8 267.8h4.5v1.5h-4.5zM789.8 267.8h2.5v1.5h-2.5zM794.8 267.8h1.5v1.5h-1.5zM798.8 267.8h2.5v1.5h-2.5zM801.8 267.8h2.5v1.5h-2.5zM763.8 268.8h1.5v1.5h-1.5zM765.8 268.8h1.5v1.5h-1.5zM772.8 268.8h1.5v1.5h-1.5zM779.8 268.8h2.5v1.5h-2.5zM782.8 268.8h1.5v1.5h-1.5zM786.8 268.8h2.5v1.5h-2.5zM789.8 268.8h1.5v1.5h-1.5zM793.8 268.8h1.5v1.5h-1.5zM802.8 268.8h1.5v1.5h-1.5zM806.8 268.8h2.5v1.5h-2.5zM810.8 268.8h3.5v1.5h-3.5zM763.8 269.8h1.5v1.5h-1.5zM765.8 269.8h1.5v1.5h-1.5zM773.8 269.8h1.5v1.5h-1.5zM777.8 269.8h1.5v1.5h-1.5zM780.8 269.8h2.5v1.5h-2.5zM786.8 269.8h1.5v1.5h-1.5zM789.8 269.8h1.5v1.5h-1.5zM792.8 269.8h1.5v1.5h-1.5zM794.8 269.8h1.5v1.5h-1.5zM799.8 269.8h1.5v1.5h-1.5zM801.8 269.8h1.5v1.5h-1.5zM803.8 269.8h2.5v1.5h-2.5zM806.8 269.8h1.5v1.5h-1.5zM808.8 269.8h1.5v1.5h-1.5zM724.8 270.8h1.5v1.5h-1.5zM763.8 270.8h1.5v1.5h-1.5zM765.8 270.8h3.5v1.5h-3.5zM771.8 270.8h1.5v1.5h-1.5zM773.8 270.8h3.5v1.5h-3.5zM779.8 270.8h1.5v1.5h-1.5zM781.8 270.8h1.5v1.5h-1.5zM783.8 270.8h2.5v1.5h-2.5zM797.8 270.8h1.5v1.5h-1.5zM805.8 270.8h1.5v1.5h-1.5zM760.8 271.8h2.5v1.5h-2.5zM764.8 271.8h2.5v1.5h-2.5zM770.8 271.8h1.5v1.5h-1.5zM774.8 271.8h1.5v1.5h-1.5zM776.8 271.8h1.5v1.5h-1.5zM781.8 271.8h1.5v1.5h-1.5zM783.8 271.8h1.5v1.5h-1.5zM790.8 271.8h1.5v1.5h-1.5zM794.8 271.8h4.5v1.5h-4.5zM800.8 271.8h1.5v1.5h-1.5zM807.8 271.8h2.5v1.5h-2.5zM811.8 271.8h1.5v1.5h-1.5zM726.8 272.8h1.5v1.5h-1.5zM760.8 272.8h2.5v1.5h-2.5zM766.8 272.8h4.5v1.5h-4.5zM771.8 272.8h1.5v1.5h-1.5zM773.8 272.8h2.5v1.5h-2.5zM776.8 272.8h2.5v1.5h-2.5zM781.8 272.8h1.5v1.5h-1.5zM788.8 272.8h1.5v1.5h-1.5zM791.8 272.8h1.5v1.5h-1.5zM795.8 272.8h3.5v1.5h-3.5zM799.8 272.8h1.5v1.5h-1.5zM803.8 272.8h1.5v1.5h-1.5zM808.8 272.8h1.5v1.5h-1.5zM758.8 273.8h1.5v1.5h-1.5zM762.8 273.8h1.5v1.5h-1.5zM769.8 273.8h1.5v1.5h-1.5zM771.8 273.8h1.5v1.5h-1.5zM773.8 273.8h1.5v1.5h-1.5zM776.8 273.8h1.5v1.5h-1.5zM780.8 273.8h3.5v1.5h-3.5zM786.8 273.8h2.5v1.5h-2.5zM793.8 273.8h2.5v1.5h-2.5zM800.8 273.8h3.5v1.5h-3.5zM805.8 273.8h1.5v1.5h-1.5zM759.8 274.8h1.5v1.5h-1.5zM765.8 274.8h1.5v1.5h-1.5zM770.8 274.8h1.5v1.5h-1.5zM772.8 274.8h2.5v1.5h-2.5zM775.8 274.8h2.5v1.5h-2.5zM778.8 274.8h1.5v1.5h-1.5zM785.8 274.8h1.5v1.5h-1.5zM787.8 274.8h1.5v1.5h-1.5zM792.8 274.8h4.5v1.5h-4.5zM799.8 274.8h1.5v1.5h-1.5zM802.8 274.8h1.5v1.5h-1.5zM804.8 274.8h1.5v1.5h-1.5zM810.8 274.8h1.5v1.5h-1.5zM727.8 275.8h1.5v1.5h-1.5zM758.8 275.8h2.5v1.5h-2.5zM761.8 275.8h1.5v1.5h-1.5zM764.8 275.8h1.5v1.5h-1.5zM767.8 275.8h2.5v1.5h-2.5zM770.8 275.8h1.5v1.5h-1.5zM773.8 275.8h1.5v1.5h-1.5zM780.8 275.8h5.5v1.5h-5.5zM786.8 275.8h1.5v1.5h-1.5zM791.8 275.8h1.5v1.5h-1.5zM800.8 275.8h1.5v1.5h-1.5zM807.8 275.8h1.5v1.5h-1.5zM809.8 275.8h1.5v1.5h-1.5zM811.8 275.8h1.5v1.5h-1.5zM727.8 276.8h1.5v1.5h-1.5zM760.8 276.8h1.5v1.5h-1.5zM764.8 276.8h1.5v1.5h-1.5zM769.8 276.8h1.5v1.5h-1.5zM772.8 276.8h1.5v1.5h-1.5zM783.8 276.8h1.5v1.5h-1.5zM791.8 276.8h1.5v1.5h-1.5zM797.8 276.8h1.5v1.5h-1.5zM799.8 276.8h1.5v1.5h-1.5zM803.8 276.8h1.5v1.5h-1.5zM806.8 276.8h1.5v1.5h-1.5zM810.8 276.8h1.5v1.5h-1.5zM725.8 277.8h1.5v1.5h-1.5zM756.8 277.8h1.5v1.5h-1.5zM758.8 277.8h3.5v1.5h-3.5zM767.8 277.8h2.5v1.5h-2.5zM771.8 277.8h1.5v1.5h-1.5zM773.8 277.8h1.5v1.5h-1.5zM775.8 277.8h1.5v1.5h-1.5zM780.8 277.8h1.5v1.5h-1.5zM783.8 277.8h1.5v1.5h-1.5zM787.8 277.8h1.5v1.5h-1.5zM789.8 277.8h1.5v1.5h-1.5zM791.8 277.8h3.5v1.5h-3.5zM796.8 277.8h1.5v1.5h-1.5zM799.8 277.8h1.5v1.5h-1.5zM801.8 277.8h3.5v1.5h-3.5zM725.8 278.8h2.5v1.5h-2.5zM755.8 278.8h4.5v1.5h-4.5zM760.8 278.8h2.5v1.5h-2.5zM772.8 278.8h1.5v1.5h-1.5zM777.8 278.8h1.5v1.5h-1.5zM779.8 278.8h1.5v1.5h-1.5zM783.8 278.8h1.5v1.5h-1.5zM790.8 278.8h2.5v1.5h-2.5zM793.8 278.8h1.5v1.5h-1.5zM801.8 278.8h2.5v1.5h-2.5zM804.8 278.8h1.5v1.5h-1.5zM808.8 278.8h1.5v1.5h-1.5zM754.8 279.8h1.5v1.5h-1.5zM756.8 279.8h2.5v1.5h-2.5zM762.8 279.8h1.5v1.5h-1.5zM765.8 279.8h1.5v1.5h-1.5zM767.8 279.8h4.5v1.5h-4.5zM778.8 279.8h1.5v1.5h-1.5zM780.8 279.8h1.5v1.5h-1.5zM790.8 279.8h1.5v1.5h-1.5zM792.8 279.8h1.5v1.5h-1.5zM794.8 279.8h1.5v1.5h-1.5zM797.8 279.8h2.5v1.5h-2.5zM805.8 279.8h1.5v1.5h-1.5zM807.8 279.8h1.5v1.5h-1.5zM754.8 280.8h5.5v1.5h-5.5zM761.8 280.8h1.5v1.5h-1.5zM763.8 280.8h1.5v1.5h-1.5zM765.8 280.8h4.5v1.5h-4.5zM771.8 280.8h1.5v1.5h-1.5zM773.8 280.8h1.5v1.5h-1.5zM779.8 280.8h1.5v1.5h-1.5zM781.8 280.8h1.5v1.5h-1.5zM786.8 280.8h1.5v1.5h-1.5zM788.8 280.8h1.5v1.5h-1.5zM792.8 280.8h2.5v1.5h-2.5zM799.8 280.8h1.5v1.5h-1.5zM802.8 280.8h1.5v1.5h-1.5zM809.8 280.8h1.5v1.5h-1.5zM723.8 281.8h1.5v1.5h-1.5zM755.8 281.8h1.5v1.5h-1.5zM760.8 281.8h2.5v1.5h-2.5zM765.8 281.8h2.5v1.5h-2.5zM769.8 281.8h2.5v1.5h-2.5zM778.8 281.8h1.5v1.5h-1.5zM783.8 281.8h2.5v1.5h-2.5zM787.8 281.8h2.5v1.5h-2.5zM799.8 281.8h1.5v1.5h-1.5zM723.8 282.8h1.5v1.5h-1.5zM752.8 282.8h1.5v1.5h-1.5zM755.8 282.8h6.5v1.5h-6.5zM766.8 282.8h1.5v1.5h-1.5zM768.8 282.8h2.5v1.5h-2.5zM771.8 282.8h1.5v1.5h-1.5zM773.8 282.8h4.5v1.5h-4.5zM784.8 282.8h1.5v1.5h-1.5zM786.8 282.8h2.5v1.5h-2.5zM791.8 282.8h1.5v1.5h-1.5zM793.8 282.8h2.5v1.5h-2.5zM799.8 282.8h1.5v1.5h-1.5zM803.8 282.8h1.5v1.5h-1.5zM723.8 283.8h1.5v1.5h-1.5zM751.8 283.8h2.5v1.5h-2.5zM755.8 283.8h1.5v1.5h-1.5zM757.8 283.8h2.5v1.5h-2.5zM763.8 283.8h2.5v1.5h-2.5zM766.8 283.8h1.5v1.5h-1.5zM768.8 283.8h3.5v1.5h-3.5zM772.8 283.8h1.5v1.5h-1.5zM775.8 283.8h2.5v1.5h-2.5zM781.8 283.8h2.5v1.5h-2.5zM784.8 283.8h2.5v1.5h-2.5zM792.8 283.8h3.5v1.5h-3.5zM801.8 283.8h1.5v1.5h-1.5zM725.8 284.8h1.5v1.5h-1.5zM728.8 284.8h1.5v1.5h-1.5zM751.8 284.8h2.5v1.5h-2.5zM758.8 284.8h1.5v1.5h-1.5zM763.8 284.8h1.5v1.5h-1.5zM772.8 284.8h2.5v1.5h-2.5zM775.8 284.8h1.5v1.5h-1.5zM777.8 284.8h2.5v1.5h-2.5zM783.8 284.8h1.5v1.5h-1.5zM785.8 284.8h1.5v1.5h-1.5zM789.8 284.8h1.5v1.5h-1.5zM795.8 284.8h3.5v1.5h-3.5zM724.8 285.8h1.5v1.5h-1.5zM728.8 285.8h1.5v1.5h-1.5zM750.8 285.8h3.5v1.5h-3.5zM754.8 285.8h2.5v1.5h-2.5zM758.8 285.8h3.5v1.5h-3.5zM764.8 285.8h1.5v1.5h-1.5zM767.8 285.8h2.5v1.5h-2.5zM771.8 285.8h1.5v1.5h-1.5zM775.8 285.8h2.5v1.5h-2.5zM780.8 285.8h1.5v1.5h-1.5zM782.8 285.8h1.5v1.5h-1.5zM790.8 285.8h1.5v1.5h-1.5zM796.8 285.8h3.5v1.5h-3.5zM802.8 285.8h1.5v1.5h-1.5zM723.8 286.8h2.5v1.5h-2.5zM728.8 286.8h1.5v1.5h-1.5zM750.8 286.8h1.5v1.5h-1.5zM754.8 286.8h3.5v1.5h-3.5zM762.8 286.8h3.5v1.5h-3.5zM768.8 286.8h1.5v1.5h-1.5zM778.8 286.8h1.5v1.5h-1.5zM780.8 286.8h1.5v1.5h-1.5zM782.8 286.8h2.5v1.5h-2.5zM724.8 287.8h1.5v1.5h-1.5zM727.8 287.8h1.5v1.5h-1.5zM749.8 287.8h1.5v1.5h-1.5zM752.8 287.8h1.5v1.5h-1.5zM755.8 287.8h1.5v1.5h-1.5zM757.8 287.8h1.5v1.5h-1.5zM759.8 287.8h1.5v1.5h-1.5zM763.8 287.8h3.5v1.5h-3.5zM769.8 287.8h2.5v1.5h-2.5zM772.8 287.8h1.5v1.5h-1.5zM775.8 287.8h1.5v1.5h-1.5zM778.8 287.8h3.5v1.5h-3.5zM782.8 287.8h1.5v1.5h-1.5zM785.8 287.8h1.5v1.5h-1.5zM787.8 287.8h1.5v1.5h-1.5zM791.8 287.8h5.5v1.5h-5.5zM726.8 288.8h1.5v1.5h-1.5zM748.8 288.8h1.5v1.5h-1.5zM750.8 288.8h1.5v1.5h-1.5zM752.8 288.8h1.5v1.5h-1.5zM755.8 288.8h1.5v1.5h-1.5zM758.8 288.8h1.5v1.5h-1.5zM760.8 288.8h1.5v1.5h-1.5zM763.8 288.8h1.5v1.5h-1.5zM765.8 288.8h1.5v1.5h-1.5zM771.8 288.8h1.5v1.5h-1.5zM773.8 288.8h1.5v1.5h-1.5zM776.8 288.8h1.5v1.5h-1.5zM782.8 288.8h2.5v1.5h-2.5zM792.8 288.8h1.5v1.5h-1.5zM796.8 288.8h1.5v1.5h-1.5zM802.8 288.8h1.5v1.5h-1.5zM727.8 289.8h3.5v1.5h-3.5zM733.8 289.8h1.5v1.5h-1.5zM736.8 289.8h1.5v1.5h-1.5zM743.8 289.8h4.5v1.5h-4.5zM748.8 289.8h2.5v1.5h-2.5zM752.8 289.8h1.5v1.5h-1.5zM758.8 289.8h1.5v1.5h-1.5zM766.8 289.8h1.5v1.5h-1.5zM770.8 289.8h1.5v1.5h-1.5zM780.8 289.8h1.5v1.5h-1.5zM784.8 289.8h1.5v1.5h-1.5zM788.8 289.8h1.5v1.5h-1.5zM792.8 289.8h1.5v1.5h-1.5zM796.8 289.8h4.5v1.5h-4.5zM725.8 290.8h2.5v1.5h-2.5zM728.8 290.8h1.5v1.5h-1.5zM730.8 290.8h1.5v1.5h-1.5zM734.8 290.8h1.5v1.5h-1.5zM736.8 290.8h2.5v1.5h-2.5zM740.8 290.8h1.5v1.5h-1.5zM742.8 290.8h1.5v1.5h-1.5zM748.8 290.8h4.5v1.5h-4.5zM755.8 290.8h1.5v1.5h-1.5zM764.8 290.8h1.5v1.5h-1.5zM766.8 290.8h6.5v1.5h-6.5zM773.8 290.8h2.5v1.5h-2.5zM780.8 290.8h1.5v1.5h-1.5zM782.8 290.8h2.5v1.5h-2.5zM785.8 290.8h1.5v1.5h-1.5zM788.8 290.8h1.5v1.5h-1.5zM790.8 290.8h1.5v1.5h-1.5zM794.8 290.8h1.5v1.5h-1.5zM798.8 290.8h1.5v1.5h-1.5zM724.8 291.8h4.5v1.5h-4.5zM735.8 291.8h1.5v1.5h-1.5zM739.8 291.8h1.5v1.5h-1.5zM744.8 291.8h1.5v1.5h-1.5zM746.8 291.8h1.5v1.5h-1.5zM749.8 291.8h1.5v1.5h-1.5zM757.8 291.8h1.5v1.5h-1.5zM759.8 291.8h3.5v1.5h-3.5zM769.8 291.8h1.5v1.5h-1.5zM772.8 291.8h1.5v1.5h-1.5zM774.8 291.8h1.5v1.5h-1.5zM777.8 291.8h2.5v1.5h-2.5zM783.8 291.8h2.5v1.5h-2.5zM786.8 291.8h1.5v1.5h-1.5zM789.8 291.8h2.5v1.5h-2.5zM795.8 291.8h1.5v1.5h-1.5zM799.8 291.8h1.5v1.5h-1.5zM724.8 292.8h1.5v1.5h-1.5zM726.8 292.8h1.5v1.5h-1.5zM728.8 292.8h4.5v1.5h-4.5zM733.8 292.8h9.5v1.5h-9.5zM745.8 292.8h1.5v1.5h-1.5zM747.8 292.8h1.5v1.5h-1.5zM749.8 292.8h1.5v1.5h-1.5zM751.8 292.8h1.5v1.5h-1.5zM754.8 292.8h1.5v1.5h-1.5zM756.8 292.8h1.5v1.5h-1.5zM770.8 292.8h1.5v1.5h-1.5zM772.8 292.8h2.5v1.5h-2.5zM775.8 292.8h1.5v1.5h-1.5zM778.8 292.8h2.5v1.5h-2.5zM781.8 292.8h2.5v1.5h-2.5zM787.8 292.8h1.5v1.5h-1.5zM791.8 292.8h2.5v1.5h-2.5zM797.8 292.8h1.5v1.5h-1.5zM799.8 292.8h2.5v1.5h-2.5zM732.8 293.8h1.5v1.5h-1.5zM736.8 293.8h3.5v1.5h-3.5zM742.8 293.8h1.5v1.5h-1.5zM744.8 293.8h5.5v1.5h-5.5zM751.8 293.8h2.5v1.5h-2.5zM754.8 293.8h2.5v1.5h-2.5zM759.8 293.8h2.5v1.5h-2.5zM766.8 293.8h2.5v1.5h-2.5zM770.8 293.8h2.5v1.5h-2.5zM775.8 293.8h2.5v1.5h-2.5zM780.8 293.8h2.5v1.5h-2.5zM783.8 293.8h1.5v1.5h-1.5zM787.8 293.8h1.5v1.5h-1.5zM789.8 293.8h1.5v1.5h-1.5zM794.8 293.8h2.5v1.5h-2.5zM725.8 294.8h1.5v1.5h-1.5zM729.8 294.8h2.5v1.5h-2.5zM732.8 294.8h1.5v1.5h-1.5zM734.8 294.8h1.5v1.5h-1.5zM736.8 294.8h1.5v1.5h-1.5zM738.8 294.8h1.5v1.5h-1.5zM742.8 294.8h1.5v1.5h-1.5zM745.8 294.8h1.5v1.5h-1.5zM756.8 294.8h1.5v1.5h-1.5zM758.8 294.8h2.5v1.5h-2.5zM762.8 294.8h1.5v1.5h-1.5zM764.8 294.8h1.5v1.5h-1.5zM766.8 294.8h1.5v1.5h-1.5zM768.8 294.8h2.5v1.5h-2.5zM771.8 294.8h1.5v1.5h-1.5zM775.8 294.8h2.5v1.5h-2.5zM782.8 294.8h5.5v1.5h-5.5zM791.8 294.8h1.5v1.5h-1.5zM793.8 294.8h2.5v1.5h-2.5zM719.8 295.8h1.5v1.5h-1.5zM729.8 295.8h1.5v1.5h-1.5zM735.8 295.8h2.5v1.5h-2.5zM741.8 295.8h1.5v1.5h-1.5zM749.8 295.8h2.5v1.5h-2.5zM754.8 295.8h2.5v1.5h-2.5zM765.8 295.8h2.5v1.5h-2.5zM768.8 295.8h1.5v1.5h-1.5zM771.8 295.8h1.5v1.5h-1.5zM773.8 295.8h1.5v1.5h-1.5zM775.8 295.8h5.5v1.5h-5.5zM782.8 295.8h1.5v1.5h-1.5zM784.8 295.8h1.5v1.5h-1.5zM786.8 295.8h5.5v1.5h-5.5zM795.8 295.8h1.5v1.5h-1.5zM723.8 296.8h1.5v1.5h-1.5zM728.8 296.8h2.5v1.5h-2.5zM733.8 296.8h4.5v1.5h-4.5zM740.8 296.8h2.5v1.5h-2.5zM743.8 296.8h2.5v1.5h-2.5zM747.8 296.8h2.5v1.5h-2.5zM751.8 296.8h2.5v1.5h-2.5zM754.8 296.8h1.5v1.5h-1.5zM756.8 296.8h1.5v1.5h-1.5zM760.8 296.8h2.5v1.5h-2.5zM765.8 296.8h1.5v1.5h-1.5zM768.8 296.8h1.5v1.5h-1.5zM777.8 296.8h1.5v1.5h-1.5zM782.8 296.8h1.5v1.5h-1.5zM789.8 296.8h4.5v1.5h-4.5zM794.8 296.8h1.5v1.5h-1.5zM796.8 296.8h1.5v1.5h-1.5zM723.8 297.8h1.5v1.5h-1.5zM726.8 297.8h1.5v1.5h-1.5zM732.8 297.8h1.5v1.5h-1.5zM734.8 297.8h1.5v1.5h-1.5zM737.8 297.8h1.5v1.5h-1.5zM739.8 297.8h1.5v1.5h-1.5zM741.8 297.8h1.5v1.5h-1.5zM743.8 297.8h1.5v1.5h-1.5zM745.8 297.8h1.5v1.5h-1.5zM748.8 297.8h1.5v1.5h-1.5zM751.8 297.8h1.5v1.5h-1.5zM754.8 297.8h2.5v1.5h-2.5zM765.8 297.8h3.5v1.5h-3.5zM770.8 297.8h1.5v1.5h-1.5zM774.8 297.8h1.5v1.5h-1.5zM779.8 297.8h1.5v1.5h-1.5zM781.8 297.8h1.5v1.5h-1.5zM784.8 297.8h1.5v1.5h-1.5zM786.8 297.8h1.5v1.5h-1.5zM788.8 297.8h1.5v1.5h-1.5zM790.8 297.8h1.5v1.5h-1.5zM795.8 297.8h1.5v1.5h-1.5zM797.8 297.8h1.5v1.5h-1.5zM719.8 298.8h1.5v1.5h-1.5zM723.8 298.8h1.5v1.5h-1.5zM725.8 298.8h1.5v1.5h-1.5zM732.8 298.8h1.5v1.5h-1.5zM740.8 298.8h1.5v1.5h-1.5zM745.8 298.8h1.5v1.5h-1.5zM747.8 298.8h1.5v1.5h-1.5zM751.8 298.8h2.5v1.5h-2.5zM754.8 298.8h1.5v1.5h-1.5zM760.8 298.8h1.5v1.5h-1.5zM765.8 298.8h2.5v1.5h-2.5zM768.8 298.8h1.5v1.5h-1.5zM772.8 298.8h1.5v1.5h-1.5zM774.8 298.8h1.5v1.5h-1.5zM783.8 298.8h2.5v1.5h-2.5zM786.8 298.8h1.5v1.5h-1.5zM788.8 298.8h1.5v1.5h-1.5zM791.8 298.8h2.5v1.5h-2.5zM797.8 298.8h1.5v1.5h-1.5zM801.8 298.8h1.5v1.5h-1.5zM721.8 299.8h1.5v1.5h-1.5zM725.8 299.8h1.5v1.5h-1.5zM732.8 299.8h2.5v1.5h-2.5zM735.8 299.8h1.5v1.5h-1.5zM738.8 299.8h1.5v1.5h-1.5zM741.8 299.8h1.5v1.5h-1.5zM744.8 299.8h4.5v1.5h-4.5zM749.8 299.8h1.5v1.5h-1.5zM755.8 299.8h1.5v1.5h-1.5zM757.8 299.8h2.5v1.5h-2.5zM760.8 299.8h2.5v1.5h-2.5zM763.8 299.8h1.5v1.5h-1.5zM766.8 299.8h3.5v1.5h-3.5zM778.8 299.8h1.5v1.5h-1.5zM780.8 299.8h1.5v1.5h-1.5zM785.8 299.8h2.5v1.5h-2.5zM788.8 299.8h2.5v1.5h-2.5zM792.8 299.8h2.5v1.5h-2.5zM798.8 299.8h1.5v1.5h-1.5zM716.8 300.8h1.5v1.5h-1.5zM718.8 300.8h1.5v1.5h-1.5zM730.8 300.8h1.5v1.5h-1.5zM735.8 300.8h1.5v1.5h-1.5zM741.8 300.8h1.5v1.5h-1.5zM744.8 300.8h3.5v1.5h-3.5zM748.8 300.8h2.5v1.5h-2.5zM751.8 300.8h2.5v1.5h-2.5zM765.8 300.8h1.5v1.5h-1.5zM767.8 300.8h1.5v1.5h-1.5zM770.8 300.8h1.5v1.5h-1.5zM772.8 300.8h1.5v1.5h-1.5zM775.8 300.8h1.5v1.5h-1.5zM777.8 300.8h1.5v1.5h-1.5zM779.8 300.8h1.5v1.5h-1.5zM781.8 300.8h2.5v1.5h-2.5zM798.8 300.8h1.5v1.5h-1.5zM723.8 301.8h1.5v1.5h-1.5zM728.8 301.8h2.5v1.5h-2.5zM731.8 301.8h1.5v1.5h-1.5zM735.8 301.8h2.5v1.5h-2.5zM738.8 301.8h3.5v1.5h-3.5zM742.8 301.8h2.5v1.5h-2.5zM747.8 301.8h1.5v1.5h-1.5zM749.8 301.8h2.5v1.5h-2.5zM752.8 301.8h1.5v1.5h-1.5zM758.8 301.8h1.5v1.5h-1.5zM766.8 301.8h1.5v1.5h-1.5zM769.8 301.8h1.5v1.5h-1.5zM771.8 301.8h1.5v1.5h-1.5zM773.8 301.8h1.5v1.5h-1.5zM778.8 301.8h1.5v1.5h-1.5zM796.8 301.8h1.5v1.5h-1.5zM725.8 302.8h1.5v1.5h-1.5zM728.8 302.8h1.5v1.5h-1.5zM734.8 302.8h1.5v1.5h-1.5zM746.8 302.8h1.5v1.5h-1.5zM751.8 302.8h1.5v1.5h-1.5zM753.8 302.8h1.5v1.5h-1.5zM762.8 302.8h2.5v1.5h-2.5zM770.8 302.8h1.5v1.5h-1.5zM776.8 302.8h1.5v1.5h-1.5zM780.8 302.8h2.5v1.5h-2.5zM784.8 302.8h1.5v1.5h-1.5zM787.8 302.8h1.5v1.5h-1.5zM790.8 302.8h1.5v1.5h-1.5zM792.8 302.8h1.5v1.5h-1.5zM794.8 302.8h1.5v1.5h-1.5zM726.8 303.8h1.5v1.5h-1.5zM729.8 303.8h1.5v1.5h-1.5zM733.8 303.8h1.5v1.5h-1.5zM743.8 303.8h2.5v1.5h-2.5zM748.8 303.8h2.5v1.5h-2.5zM753.8 303.8h1.5v1.5h-1.5zM758.8 303.8h1.5v1.5h-1.5zM764.8 303.8h1.5v1.5h-1.5zM767.8 303.8h1.5v1.5h-1.5zM777.8 303.8h2.5v1.5h-2.5zM787.8 303.8h1.5v1.5h-1.5zM789.8 303.8h1.5v1.5h-1.5zM793.8 303.8h1.5v1.5h-1.5zM722.8 304.8h1.5v1.5h-1.5zM725.8 304.8h1.5v1.5h-1.5zM734.8 304.8h1.5v1.5h-1.5zM743.8 304.8h1.5v1.5h-1.5zM753.8 304.8h1.5v1.5h-1.5zM756.8 304.8h1.5v1.5h-1.5zM761.8 304.8h2.5v1.5h-2.5zM765.8 304.8h1.5v1.5h-1.5zM768.8 304.8h1.5v1.5h-1.5zM778.8 304.8h1.5v1.5h-1.5zM724.8 305.8h1.5v1.5h-1.5zM737.8 305.8h1.5v1.5h-1.5zM760.8 305.8h1.5v1.5h-1.5zM775.8 305.8h1.5v1.5h-1.5zM787.8 305.8h1.5v1.5h-1.5zM790.8 305.8h1.5v1.5h-1.5zM729.8 306.8h1.5v1.5h-1.5zM753.8 306.8h1.5v1.5h-1.5zM763.8 306.8h1.5v1.5h-1.5z"/>
<path stroke="#fff" stroke-width="1.1" fill="none" d="M717.7 92.2H1010.2M717.7 100.5H1010.2M717.7 108.7H1010.2M717.7 117H1010.2M717.7 125.3H1010.2M717.7 133.6H1010.2M717.7 141.8H1010.2M717.7 150.1H1010.2M717.7 158.4H1010.2M717.7 166.6H1010.2M717.7 174.9H1010.2M717.7 183.2H1010.2M717.7 191.4H1010.2M717.7 199.7H1010.2M717.7 208H1010.2M717.7 216.2H1010.2M717.7 224.5H1010.2M717.7 232.8H1010.2M717.7 241.1H1010.2M717.7 249.3H1010.2M717.7 257.6H1010.2M717.7 265.9H1010.2M717.7 274.1H1010.2M717.7 282.4H1010.2M717.7 290.7H1010.2M717.7 298.9H1010.2M717.7 307.2H1010.2"/>
<path d="M48.5 12.9H345V308.9H48.5ZM48.5 308.9v7M48.5 12.9v-5.8M48.5 308.9h-6.3M345 308.9h6.3M54.3 308.9v3.4M54.3 12.9v-3.2M48.5 303.1h-3.4M345 303.1h3.4M60.1 308.9v3.4M60.1 12.9v-3.2M48.5 297.3h-3.4M345 297.3h3.4M65.9 308.9v3.4M65.9 12.9v-3.2M48.5 291.5h-3.4M345 291.5h3.4M71.7 308.9v3.4M71.7 12.9v-3.2M48.5 285.7h-3.4M345 285.7h3.4M77.5 308.9v3.4M77.5 12.9v-3.2M48.5 279.9h-3.4M345 279.9h3.4M83.3 308.9v3.4M83.3 12.9v-3.2M48.5 274.1h-3.4M345 274.1h3.4M89.1 308.9v3.4M89.1 12.9v-3.2M48.5 268.3h-3.4M345 268.3h3.4M94.9 308.9v3.4M94.9 12.9v-3.2M48.5 262.5h-3.4M345 262.5h3.4M100.7 308.9v3.4M100.7 12.9v-3.2M48.5 256.7h-3.4M345 256.7h3.4M106.5 308.9v7M106.5 12.9v-5.8M48.5 250.9h-6.3M345 250.9h6.3M112.3 308.9v3.4M112.3 12.9v-3.2M48.5 245.1h-3.4M345 245.1h3.4M118.1 308.9v3.4M118.1 12.9v-3.2M48.5 239.3h-3.4M345 239.3h3.4M123.9 308.9v3.4M123.9 12.9v-3.2M48.5 233.4h-3.4M345 233.4h3.4M129.7 308.9v3.4M129.7 12.9v-3.2M48.5 227.6h-3.4M345 227.6h3.4M135.5 308.9v3.4M135.5 12.9v-3.2M48.5 221.8h-3.4M345 221.8h3.4M141.3 308.9v3.4M141.3 12.9v-3.2M48.5 216h-3.4M345 216h3.4M147.1 308.9v3.4M147.1 12.9v-3.2M48.5 210.2h-3.4M345 210.2h3.4M152.9 308.9v3.4M152.9 12.9v-3.2M48.5 204.4h-3.4M345 204.4h3.4M158.7 308.9v3.4M158.7 12.9v-3.2M48.5 198.6h-3.4M345 198.6h3.4M164.5 308.9v7M164.5 12.9v-5.8M48.5 192.8h-6.3M345 192.8h6.3M170.3 308.9v3.4M170.3 12.9v-3.2M48.5 187h-3.4M345 187h3.4M176.1 308.9v3.4M176.1 12.9v-3.2M48.5 181.2h-3.4M345 181.2h3.4M181.9 308.9v3.4M181.9 12.9v-3.2M48.5 175.4h-3.4M345 175.4h3.4M187.7 308.9v3.4M187.7 12.9v-3.2M48.5 169.6h-3.4M345 169.6h3.4M193.5 308.9v3.4M193.5 12.9v-3.2M48.5 163.8h-3.4M345 163.8h3.4M199.3 308.9v3.4M199.3 12.9v-3.2M48.5 158h-3.4M345 158h3.4M205.1 308.9v3.4M205.1 12.9v-3.2M48.5 152.2h-3.4M345 152.2h3.4M210.9 308.9v3.4M210.9 12.9v-3.2M48.5 146.4h-3.4M345 146.4h3.4M216.7 308.9v3.4M216.7 12.9v-3.2M48.5 140.6h-3.4M345 140.6h3.4M222.5 308.9v7M222.5 12.9v-5.8M48.5 134.8h-6.3M345 134.8h6.3M228.3 308.9v3.4M228.3 12.9v-3.2M48.5 129h-3.4M345 129h3.4M234.1 308.9v3.4M234.1 12.9v-3.2M48.5 123.2h-3.4M345 123.2h3.4M239.9 308.9v3.4M239.9 12.9v-3.2M48.5 117.4h-3.4M345 117.4h3.4M245.7 308.9v3.4M245.7 12.9v-3.2M48.5 111.6h-3.4M345 111.6h3.4M251.5 308.9v3.4M251.5 12.9v-3.2M48.5 105.8h-3.4M345 105.8h3.4M257.3 308.9v3.4M257.3 12.9v-3.2M48.5 100h-3.4M345 100h3.4M263.1 308.9v3.4M263.1 12.9v-3.2M48.5 94.2h-3.4M345 94.2h3.4M268.9 308.9v3.4M268.9 12.9v-3.2M48.5 88.4h-3.4M345 88.4h3.4M274.7 308.9v3.4M274.7 12.9v-3.2M48.5 82.5h-3.4M345 82.5h3.4M280.5 308.9v7M280.5 12.9v-5.8M48.5 76.7h-6.3M345 76.7h6.3M286.3 308.9v3.4M286.3 12.9v-3.2M48.5 70.9h-3.4M345 70.9h3.4M292.1 308.9v3.4M292.1 12.9v-3.2M48.5 65.1h-3.4M345 65.1h3.4M297.9 308.9v3.4M297.9 12.9v-3.2M48.5 59.3h-3.4M345 59.3h3.4M303.7 308.9v3.4M303.7 12.9v-3.2M48.5 53.5h-3.4M345 53.5h3.4M309.5 308.9v3.4M309.5 12.9v-3.2M48.5 47.7h-3.4M345 47.7h3.4M315.3 308.9v3.4M315.3 12.9v-3.2M48.5 41.9h-3.4M345 41.9h3.4M321.1 308.9v3.4M321.1 12.9v-3.2M48.5 36.1h-3.4M345 36.1h3.4M326.9 308.9v3.4M326.9 12.9v-3.2M48.5 30.3h-3.4M345 30.3h3.4M332.7 308.9v3.4M332.7 12.9v-3.2M48.5 24.5h-3.4M345 24.5h3.4M338.5 308.9v7M338.5 12.9v-5.8M48.5 18.7h-6.3M345 18.7h6.3M345 308.9v3.4M345 12.9v-3.2M48.5 12.9h-3.4M345 12.9h3.4" fill="none" stroke="#000" stroke-width="1.3"/>
<g font-family="'Liberation Sans',Arial,Helvetica,sans-serif" font-weight="bold" font-size="11.3" fill="#000" stroke="#000" stroke-width="0.2">
<text x="48.5" y="328" text-anchor="middle">0</text>
<text x="40.5" y="312.8" text-anchor="end">0</text>
<text x="106.5" y="328" text-anchor="middle">50</text>
<text x="40.5" y="254.8" text-anchor="end">50</text>
<text x="164.5" y="328" text-anchor="middle">100</text>
<text x="40.5" y="196.7" text-anchor="end">100</text>
<text x="222.5" y="328" text-anchor="middle">150</text>
<text x="40.5" y="138.7" text-anchor="end">150</text>
<text x="280.5" y="328" text-anchor="middle">200</text>
<text x="40.5" y="80.6" text-anchor="end">200</text>
<text x="338.5" y="328" text-anchor="middle">250</text>
<text x="40.5" y="22.6" text-anchor="end">250</text>
</g>
<text x="196.8" y="342" text-anchor="middle" font-family="'Liberation Sans',Arial,Helvetica,sans-serif" font-weight="bold" font-size="11.6" letter-spacing="0.12" fill="#000" stroke="#000" stroke-width="0.2">Landsat Band 3 DC (Red)</text>
<path d="M381.7 12.9H678.2V308.9H381.7ZM381.7 308.9v7M381.7 12.9v-5.8M381.7 308.9h-6.3M678.2 308.9h6.3M387.5 308.9v3.4M387.5 12.9v-3.2M381.7 303.1h-3.4M678.2 303.1h3.4M393.3 308.9v3.4M393.3 12.9v-3.2M381.7 297.3h-3.4M678.2 297.3h3.4M399.1 308.9v3.4M399.1 12.9v-3.2M381.7 291.5h-3.4M678.2 291.5h3.4M404.9 308.9v3.4M404.9 12.9v-3.2M381.7 285.7h-3.4M678.2 285.7h3.4M410.7 308.9v3.4M410.7 12.9v-3.2M381.7 279.9h-3.4M678.2 279.9h3.4M416.5 308.9v3.4M416.5 12.9v-3.2M381.7 274.1h-3.4M678.2 274.1h3.4M422.3 308.9v3.4M422.3 12.9v-3.2M381.7 268.3h-3.4M678.2 268.3h3.4M428.1 308.9v3.4M428.1 12.9v-3.2M381.7 262.5h-3.4M678.2 262.5h3.4M433.9 308.9v3.4M433.9 12.9v-3.2M381.7 256.7h-3.4M678.2 256.7h3.4M439.7 308.9v7M439.7 12.9v-5.8M381.7 250.9h-6.3M678.2 250.9h6.3M445.5 308.9v3.4M445.5 12.9v-3.2M381.7 245.1h-3.4M678.2 245.1h3.4M451.3 308.9v3.4M451.3 12.9v-3.2M381.7 239.3h-3.4M678.2 239.3h3.4M457.1 308.9v3.4M457.1 12.9v-3.2M381.7 233.4h-3.4M678.2 233.4h3.4M462.9 308.9v3.4M462.9 12.9v-3.2M381.7 227.6h-3.4M678.2 227.6h3.4M468.7 308.9v3.4M468.7 12.9v-3.2M381.7 221.8h-3.4M678.2 221.8h3.4M474.5 308.9v3.4M474.5 12.9v-3.2M381.7 216h-3.4M678.2 216h3.4M480.3 308.9v3.4M480.3 12.9v-3.2M381.7 210.2h-3.4M678.2 210.2h3.4M486.1 308.9v3.4M486.1 12.9v-3.2M381.7 204.4h-3.4M678.2 204.4h3.4M491.9 308.9v3.4M491.9 12.9v-3.2M381.7 198.6h-3.4M678.2 198.6h3.4M497.7 308.9v7M497.7 12.9v-5.8M381.7 192.8h-6.3M678.2 192.8h6.3M503.5 308.9v3.4M503.5 12.9v-3.2M381.7 187h-3.4M678.2 187h3.4M509.3 308.9v3.4M509.3 12.9v-3.2M381.7 181.2h-3.4M678.2 181.2h3.4M515.1 308.9v3.4M515.1 12.9v-3.2M381.7 175.4h-3.4M678.2 175.4h3.4M520.9 308.9v3.4M520.9 12.9v-3.2M381.7 169.6h-3.4M678.2 169.6h3.4M526.7 308.9v3.4M526.7 12.9v-3.2M381.7 163.8h-3.4M678.2 163.8h3.4M532.5 308.9v3.4M532.5 12.9v-3.2M381.7 158h-3.4M678.2 158h3.4M538.3 308.9v3.4M538.3 12.9v-3.2M381.7 152.2h-3.4M678.2 152.2h3.4M544.1 308.9v3.4M544.1 12.9v-3.2M381.7 146.4h-3.4M678.2 146.4h3.4M549.9 308.9v3.4M549.9 12.9v-3.2M381.7 140.6h-3.4M678.2 140.6h3.4M555.7 308.9v7M555.7 12.9v-5.8M381.7 134.8h-6.3M678.2 134.8h6.3M561.5 308.9v3.4M561.5 12.9v-3.2M381.7 129h-3.4M678.2 129h3.4M567.3 308.9v3.4M567.3 12.9v-3.2M381.7 123.2h-3.4M678.2 123.2h3.4M573.1 308.9v3.4M573.1 12.9v-3.2M381.7 117.4h-3.4M678.2 117.4h3.4M578.9 308.9v3.4M578.9 12.9v-3.2M381.7 111.6h-3.4M678.2 111.6h3.4M584.7 308.9v3.4M584.7 12.9v-3.2M381.7 105.8h-3.4M678.2 105.8h3.4M590.5 308.9v3.4M590.5 12.9v-3.2M381.7 100h-3.4M678.2 100h3.4M596.3 308.9v3.4M596.3 12.9v-3.2M381.7 94.2h-3.4M678.2 94.2h3.4M602.1 308.9v3.4M602.1 12.9v-3.2M381.7 88.4h-3.4M678.2 88.4h3.4M607.9 308.9v3.4M607.9 12.9v-3.2M381.7 82.5h-3.4M678.2 82.5h3.4M613.7 308.9v7M613.7 12.9v-5.8M381.7 76.7h-6.3M678.2 76.7h6.3M619.5 308.9v3.4M619.5 12.9v-3.2M381.7 70.9h-3.4M678.2 70.9h3.4M625.3 308.9v3.4M625.3 12.9v-3.2M381.7 65.1h-3.4M678.2 65.1h3.4M631.1 308.9v3.4M631.1 12.9v-3.2M381.7 59.3h-3.4M678.2 59.3h3.4M636.9 308.9v3.4M636.9 12.9v-3.2M381.7 53.5h-3.4M678.2 53.5h3.4M642.7 308.9v3.4M642.7 12.9v-3.2M381.7 47.7h-3.4M678.2 47.7h3.4M648.5 308.9v3.4M648.5 12.9v-3.2M381.7 41.9h-3.4M678.2 41.9h3.4M654.3 308.9v3.4M654.3 12.9v-3.2M381.7 36.1h-3.4M678.2 36.1h3.4M660.1 308.9v3.4M660.1 12.9v-3.2M381.7 30.3h-3.4M678.2 30.3h3.4M665.9 308.9v3.4M665.9 12.9v-3.2M381.7 24.5h-3.4M678.2 24.5h3.4M671.7 308.9v7M671.7 12.9v-5.8M381.7 18.7h-6.3M678.2 18.7h6.3M678.2 308.9v3.4M678.2 12.9v-3.2M381.7 12.9h-3.4M678.2 12.9h3.4" fill="none" stroke="#000" stroke-width="1.3"/>
<g font-family="'Liberation Sans',Arial,Helvetica,sans-serif" font-weight="bold" font-size="11.3" fill="#000" stroke="#000" stroke-width="0.2">
<text x="381.7" y="328" text-anchor="middle">0</text>
<text x="373.7" y="312.8" text-anchor="end">0</text>
<text x="439.7" y="328" text-anchor="middle">50</text>
<text x="373.7" y="254.8" text-anchor="end">50</text>
<text x="497.7" y="328" text-anchor="middle">100</text>
<text x="373.7" y="196.7" text-anchor="end">100</text>
<text x="555.7" y="328" text-anchor="middle">150</text>
<text x="373.7" y="138.7" text-anchor="end">150</text>
<text x="613.7" y="328" text-anchor="middle">200</text>
<text x="373.7" y="80.6" text-anchor="end">200</text>
<text x="671.7" y="328" text-anchor="middle">250</text>
<text x="373.7" y="22.6" text-anchor="end">250</text>
</g>
<text x="530" y="342" text-anchor="middle" font-family="'Liberation Sans',Arial,Helvetica,sans-serif" font-weight="bold" font-size="11.6" letter-spacing="0.12" fill="#000" stroke="#000" stroke-width="0.2">Landsat Band 3 DC (Red)</text>
<path d="M715.7 12.9H1012.2V308.9H715.7ZM715.7 308.9v7M715.7 12.9v-5.8M715.7 308.9h-6.3M1012.2 308.9h6.3M721.5 308.9v3.4M721.5 12.9v-3.2M715.7 303.1h-3.4M1012.2 303.1h3.4M727.3 308.9v3.4M727.3 12.9v-3.2M715.7 297.3h-3.4M1012.2 297.3h3.4M733.1 308.9v3.4M733.1 12.9v-3.2M715.7 291.5h-3.4M1012.2 291.5h3.4M738.9 308.9v3.4M738.9 12.9v-3.2M715.7 285.7h-3.4M1012.2 285.7h3.4M744.7 308.9v3.4M744.7 12.9v-3.2M715.7 279.9h-3.4M1012.2 279.9h3.4M750.5 308.9v3.4M750.5 12.9v-3.2M715.7 274.1h-3.4M1012.2 274.1h3.4M756.3 308.9v3.4M756.3 12.9v-3.2M715.7 268.3h-3.4M1012.2 268.3h3.4M762.1 308.9v3.4M762.1 12.9v-3.2M715.7 262.5h-3.4M1012.2 262.5h3.4M767.9 308.9v3.4M767.9 12.9v-3.2M715.7 256.7h-3.4M1012.2 256.7h3.4M773.7 308.9v7M773.7 12.9v-5.8M715.7 250.9h-6.3M1012.2 250.9h6.3M779.5 308.9v3.4M779.5 12.9v-3.2M715.7 245.1h-3.4M1012.2 245.1h3.4M785.3 308.9v3.4M785.3 12.9v-3.2M715.7 239.3h-3.4M1012.2 239.3h3.4M791.1 308.9v3.4M791.1 12.9v-3.2M715.7 233.4h-3.4M1012.2 233.4h3.4M796.9 308.9v3.4M796.9 12.9v-3.2M715.7 227.6h-3.4M1012.2 227.6h3.4M802.7 308.9v3.4M802.7 12.9v-3.2M715.7 221.8h-3.4M1012.2 221.8h3.4M808.5 308.9v3.4M808.5 12.9v-3.2M715.7 216h-3.4M1012.2 216h3.4M814.3 308.9v3.4M814.3 12.9v-3.2M715.7 210.2h-3.4M1012.2 210.2h3.4M820.1 308.9v3.4M820.1 12.9v-3.2M715.7 204.4h-3.4M1012.2 204.4h3.4M825.9 308.9v3.4M825.9 12.9v-3.2M715.7 198.6h-3.4M1012.2 198.6h3.4M831.7 308.9v7M831.7 12.9v-5.8M715.7 192.8h-6.3M1012.2 192.8h6.3M837.5 308.9v3.4M837.5 12.9v-3.2M715.7 187h-3.4M1012.2 187h3.4M843.3 308.9v3.4M843.3 12.9v-3.2M715.7 181.2h-3.4M1012.2 181.2h3.4M849.1 308.9v3.4M849.1 12.9v-3.2M715.7 175.4h-3.4M1012.2 175.4h3.4M854.9 308.9v3.4M854.9 12.9v-3.2M715.7 169.6h-3.4M1012.2 169.6h3.4M860.7 308.9v3.4M860.7 12.9v-3.2M715.7 163.8h-3.4M1012.2 163.8h3.4M866.5 308.9v3.4M866.5 12.9v-3.2M715.7 158h-3.4M1012.2 158h3.4M872.3 308.9v3.4M872.3 12.9v-3.2M715.7 152.2h-3.4M1012.2 152.2h3.4M878.1 308.9v3.4M878.1 12.9v-3.2M715.7 146.4h-3.4M1012.2 146.4h3.4M883.9 308.9v3.4M883.9 12.9v-3.2M715.7 140.6h-3.4M1012.2 140.6h3.4M889.7 308.9v7M889.7 12.9v-5.8M715.7 134.8h-6.3M1012.2 134.8h6.3M895.5 308.9v3.4M895.5 12.9v-3.2M715.7 129h-3.4M1012.2 129h3.4M901.3 308.9v3.4M901.3 12.9v-3.2M715.7 123.2h-3.4M1012.2 123.2h3.4M907.1 308.9v3.4M907.1 12.9v-3.2M715.7 117.4h-3.4M1012.2 117.4h3.4M912.9 308.9v3.4M912.9 12.9v-3.2M715.7 111.6h-3.4M1012.2 111.6h3.4M918.7 308.9v3.4M918.7 12.9v-3.2M715.7 105.8h-3.4M1012.2 105.8h3.4M924.5 308.9v3.4M924.5 12.9v-3.2M715.7 100h-3.4M1012.2 100h3.4M930.3 308.9v3.4M930.3 12.9v-3.2M715.7 94.2h-3.4M1012.2 94.2h3.4M936.1 308.9v3.4M936.1 12.9v-3.2M715.7 88.4h-3.4M1012.2 88.4h3.4M941.9 308.9v3.4M941.9 12.9v-3.2M715.7 82.5h-3.4M1012.2 82.5h3.4M947.7 308.9v7M947.7 12.9v-5.8M715.7 76.7h-6.3M1012.2 76.7h6.3M953.5 308.9v3.4M953.5 12.9v-3.2M715.7 70.9h-3.4M1012.2 70.9h3.4M959.3 308.9v3.4M959.3 12.9v-3.2M715.7 65.1h-3.4M1012.2 65.1h3.4M965.1 308.9v3.4M965.1 12.9v-3.2M715.7 59.3h-3.4M1012.2 59.3h3.4M970.9 308.9v3.4M970.9 12.9v-3.2M715.7 53.5h-3.4M1012.2 53.5h3.4M976.7 308.9v3.4M976.7 12.9v-3.2M715.7 47.7h-3.4M1012.2 47.7h3.4M982.5 308.9v3.4M982.5 12.9v-3.2M715.7 41.9h-3.4M1012.2 41.9h3.4M988.3 308.9v3.4M988.3 12.9v-3.2M715.7 36.1h-3.4M1012.2 36.1h3.4M994.1 308.9v3.4M994.1 12.9v-3.2M715.7 30.3h-3.4M1012.2 30.3h3.4M999.9 308.9v3.4M999.9 12.9v-3.2M715.7 24.5h-3.4M1012.2 24.5h3.4M1005.7 308.9v7M1005.7 12.9v-5.8M715.7 18.7h-6.3M1012.2 18.7h6.3M1012.2 308.9v3.4M1012.2 12.9v-3.2M715.7 12.9h-3.4M1012.2 12.9h3.4" fill="none" stroke="#000" stroke-width="1.3"/>
<g font-family="'Liberation Sans',Arial,Helvetica,sans-serif" font-weight="bold" font-size="11.3" fill="#000" stroke="#000" stroke-width="0.2">
<text x="715.7" y="328" text-anchor="middle">0</text>
<text x="707.7" y="312.8" text-anchor="end">0</text>
<text x="773.7" y="328" text-anchor="middle">50</text>
<text x="707.7" y="254.8" text-anchor="end">50</text>
<text x="831.7" y="328" text-anchor="middle">100</text>
<text x="707.7" y="196.7" text-anchor="end">100</text>
<text x="889.7" y="328" text-anchor="middle">150</text>
<text x="707.7" y="138.7" text-anchor="end">150</text>
<text x="947.7" y="328" text-anchor="middle">200</text>
<text x="707.7" y="80.6" text-anchor="end">200</text>
<text x="1005.7" y="328" text-anchor="middle">250</text>
<text x="707.7" y="22.6" text-anchor="end">250</text>
</g>
<text x="864" y="342" text-anchor="middle" font-family="'Liberation Sans',Arial,Helvetica,sans-serif" font-weight="bold" font-size="11.6" letter-spacing="0.12" fill="#000" stroke="#000" stroke-width="0.2">Landsat Band 3 DC (Red)</text>
<text transform="translate(14.7 160.3) rotate(-90)" text-anchor="middle" font-family="'Liberation Sans',Arial,Helvetica,sans-serif" font-weight="bold" font-size="12.6" fill="#000" stroke="#000" stroke-width="0.2">Landsat Band 4 DC (NIR)</text>
<path d="M48.5 308.9L272.7 62.1M387.6 305.4L674.5 137.2" stroke="#f00" stroke-width="1.9" fill="none"/>
<path d="M65.2 77h9.8M70.1 71.9v10.3M429.3 98.6h9.8M434.2 93.5v10.3" stroke="#f00" stroke-width="2" fill="none"/>
<g font-family="'Liberation Sans',Arial,Helvetica,sans-serif" font-size="18.3" fill="#f00" stroke="#f00" stroke-width="0.3">
<text x="77.6" y="80.4">(19,200)</text>
<text x="124.8" y="250.6">NIR = 1.10 (RED) + 0.</text>
<text x="443.6" y="101.1">(46,182)</text>
<text x="484.3" y="271.3">NIR = 0.58 (RED) + 1.3</text>
</g>
<g font-family="'Liberation Sans',Arial,Helvetica,sans-serif" font-size="18" fill="#000" stroke="#000" stroke-width="0.3">
<text x="122" y="31.2">Aug 25 Landsat-5</text>
<text x="120.7" y="52.4">Reference Image</text>
<text x="453.4" y="31.2" xml:space="preserve" style="white-space:pre">Aug 17  Landsat-7</text>
<text x="390" y="52.7">Target Image Before Normalization</text>
<text x="787.4" y="31.2" xml:space="preserve" style="white-space:pre">Aug 17  Landsat-7</text>
<text x="734.1" y="52.7">Target Image After Normalization</text>
</g>
<g font-family="'Liberation Sans',Arial,Helvetica,sans-serif" font-size="20.5" font-weight="bold" fill="#000">
<text x="54" y="32.3">A.</text>
<text x="385.4" y="32">B.</text>
<text x="719.8" y="32">C.</text>
</g>
</svg>
</body></html>
